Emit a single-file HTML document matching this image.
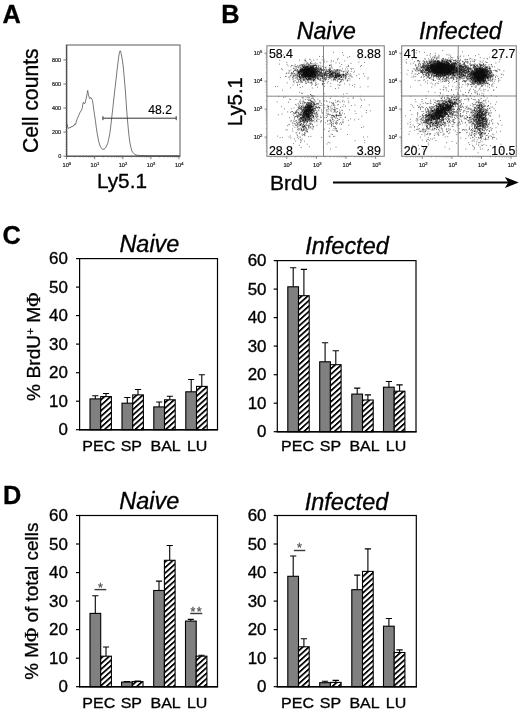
<!DOCTYPE html>
<html lang="en"><head><meta charset="utf-8"><title>Figure</title>
<style>html,body{margin:0;padding:0;background:#fff;overflow:hidden}svg{display:block;will-change:transform}text{font-family:"Liberation Sans", Arial, sans-serif;fill:#000;stroke:#000;stroke-width:.32px}</style>
</head><body>
<svg width="520" height="714" viewBox="0 0 520 714">
<defs><pattern id="hatch" patternUnits="userSpaceOnUse" width="8" height="5.5" patternTransform="skewY(-42)"><rect width="8" height="5.5" fill="#fff"/><rect y="0" width="8" height="2.35" fill="#000"/></pattern></defs>
<rect width="520" height="714" fill="#fff"/>
<g id="pa">
<text x="2.6" y="23.1" font-size="25.3" font-weight="bold">A</text>
<text transform="translate(38,100.7) rotate(-90)" font-size="21.2" text-anchor="middle">Cell counts</text>
<text x="96.9" y="187.6" font-size="20.8">Ly5.1</text>
<rect x="66.6" y="45" width="113.4" height="111.2" fill="none" stroke="#808080" stroke-width="1.3"/>
<path d="M66.6 45V156.2H180" fill="none" stroke="#4a4a4a" stroke-width="1.1"/>
<line x1="66.6" x2="63.39999999999999" y1="156.2" y2="156.2" stroke="#555" stroke-width="0.8"/>
<text x="61.199999999999996" y="158.1" font-size="5.5" text-anchor="end" style="fill:#1a1a1a;stroke:#1a1a1a;stroke-width:.2px">0</text>
<line x1="66.6" x2="63.39999999999999" y1="132.1" y2="132.1" stroke="#555" stroke-width="0.8"/>
<text x="61.199999999999996" y="134" font-size="5.5" text-anchor="end" style="fill:#1a1a1a;stroke:#1a1a1a;stroke-width:.2px">200</text>
<line x1="66.6" x2="63.39999999999999" y1="108" y2="108" stroke="#555" stroke-width="0.8"/>
<text x="61.199999999999996" y="109.9" font-size="5.5" text-anchor="end" style="fill:#1a1a1a;stroke:#1a1a1a;stroke-width:.2px">400</text>
<line x1="66.6" x2="63.39999999999999" y1="84" y2="84" stroke="#555" stroke-width="0.8"/>
<text x="61.199999999999996" y="85.9" font-size="5.5" text-anchor="end" style="fill:#1a1a1a;stroke:#1a1a1a;stroke-width:.2px">600</text>
<line x1="66.6" x2="63.39999999999999" y1="59.9" y2="59.9" stroke="#555" stroke-width="0.8"/>
<text x="61.199999999999996" y="61.8" font-size="5.5" text-anchor="end" style="fill:#1a1a1a;stroke:#1a1a1a;stroke-width:.2px">800</text>
<line x1="65.19999999999999" x2="67.19999999999999" y1="156.2" y2="156.2" stroke="#666" stroke-width="0.45"/>
<line x1="65.19999999999999" x2="67.19999999999999" y1="153.8" y2="153.8" stroke="#666" stroke-width="0.45"/>
<line x1="65.19999999999999" x2="67.19999999999999" y1="151.4" y2="151.4" stroke="#666" stroke-width="0.45"/>
<line x1="65.19999999999999" x2="67.19999999999999" y1="149" y2="149" stroke="#666" stroke-width="0.45"/>
<line x1="65.19999999999999" x2="67.19999999999999" y1="146.6" y2="146.6" stroke="#666" stroke-width="0.45"/>
<line x1="65.19999999999999" x2="67.19999999999999" y1="144.2" y2="144.2" stroke="#666" stroke-width="0.45"/>
<line x1="65.19999999999999" x2="67.19999999999999" y1="141.8" y2="141.8" stroke="#666" stroke-width="0.45"/>
<line x1="65.19999999999999" x2="67.19999999999999" y1="139.3" y2="139.3" stroke="#666" stroke-width="0.45"/>
<line x1="65.19999999999999" x2="67.19999999999999" y1="136.9" y2="136.9" stroke="#666" stroke-width="0.45"/>
<line x1="65.19999999999999" x2="67.19999999999999" y1="134.5" y2="134.5" stroke="#666" stroke-width="0.45"/>
<line x1="65.19999999999999" x2="67.19999999999999" y1="132.1" y2="132.1" stroke="#666" stroke-width="0.45"/>
<line x1="65.19999999999999" x2="67.19999999999999" y1="129.7" y2="129.7" stroke="#666" stroke-width="0.45"/>
<line x1="65.19999999999999" x2="67.19999999999999" y1="127.3" y2="127.3" stroke="#666" stroke-width="0.45"/>
<line x1="65.19999999999999" x2="67.19999999999999" y1="124.9" y2="124.9" stroke="#666" stroke-width="0.45"/>
<line x1="65.19999999999999" x2="67.19999999999999" y1="122.5" y2="122.5" stroke="#666" stroke-width="0.45"/>
<line x1="65.19999999999999" x2="67.19999999999999" y1="120.1" y2="120.1" stroke="#666" stroke-width="0.45"/>
<line x1="65.19999999999999" x2="67.19999999999999" y1="117.7" y2="117.7" stroke="#666" stroke-width="0.45"/>
<line x1="65.19999999999999" x2="67.19999999999999" y1="115.3" y2="115.3" stroke="#666" stroke-width="0.45"/>
<line x1="65.19999999999999" x2="67.19999999999999" y1="112.9" y2="112.9" stroke="#666" stroke-width="0.45"/>
<line x1="65.19999999999999" x2="67.19999999999999" y1="110.4" y2="110.4" stroke="#666" stroke-width="0.45"/>
<line x1="65.19999999999999" x2="67.19999999999999" y1="108" y2="108" stroke="#666" stroke-width="0.45"/>
<line x1="65.19999999999999" x2="67.19999999999999" y1="105.6" y2="105.6" stroke="#666" stroke-width="0.45"/>
<line x1="65.19999999999999" x2="67.19999999999999" y1="103.2" y2="103.2" stroke="#666" stroke-width="0.45"/>
<line x1="65.19999999999999" x2="67.19999999999999" y1="100.8" y2="100.8" stroke="#666" stroke-width="0.45"/>
<line x1="65.19999999999999" x2="67.19999999999999" y1="98.4" y2="98.4" stroke="#666" stroke-width="0.45"/>
<line x1="65.19999999999999" x2="67.19999999999999" y1="96" y2="96" stroke="#666" stroke-width="0.45"/>
<line x1="65.19999999999999" x2="67.19999999999999" y1="93.6" y2="93.6" stroke="#666" stroke-width="0.45"/>
<line x1="65.19999999999999" x2="67.19999999999999" y1="91.2" y2="91.2" stroke="#666" stroke-width="0.45"/>
<line x1="65.19999999999999" x2="67.19999999999999" y1="88.8" y2="88.8" stroke="#666" stroke-width="0.45"/>
<line x1="65.19999999999999" x2="67.19999999999999" y1="86.4" y2="86.4" stroke="#666" stroke-width="0.45"/>
<line x1="65.19999999999999" x2="67.19999999999999" y1="84" y2="84" stroke="#666" stroke-width="0.45"/>
<line x1="65.19999999999999" x2="67.19999999999999" y1="81.6" y2="81.6" stroke="#666" stroke-width="0.45"/>
<line x1="65.19999999999999" x2="67.19999999999999" y1="79.1" y2="79.1" stroke="#666" stroke-width="0.45"/>
<line x1="65.19999999999999" x2="67.19999999999999" y1="76.7" y2="76.7" stroke="#666" stroke-width="0.45"/>
<line x1="65.19999999999999" x2="67.19999999999999" y1="74.3" y2="74.3" stroke="#666" stroke-width="0.45"/>
<line x1="65.19999999999999" x2="67.19999999999999" y1="71.9" y2="71.9" stroke="#666" stroke-width="0.45"/>
<line x1="65.19999999999999" x2="67.19999999999999" y1="69.5" y2="69.5" stroke="#666" stroke-width="0.45"/>
<line x1="65.19999999999999" x2="67.19999999999999" y1="67.1" y2="67.1" stroke="#666" stroke-width="0.45"/>
<line x1="65.19999999999999" x2="67.19999999999999" y1="64.7" y2="64.7" stroke="#666" stroke-width="0.45"/>
<line x1="65.19999999999999" x2="67.19999999999999" y1="62.3" y2="62.3" stroke="#666" stroke-width="0.45"/>
<line x1="65.19999999999999" x2="67.19999999999999" y1="59.9" y2="59.9" stroke="#666" stroke-width="0.45"/>
<line x1="65.19999999999999" x2="67.19999999999999" y1="57.5" y2="57.5" stroke="#666" stroke-width="0.45"/>
<line x1="65.19999999999999" x2="67.19999999999999" y1="55.1" y2="55.1" stroke="#666" stroke-width="0.45"/>
<line x1="65.19999999999999" x2="67.19999999999999" y1="52.7" y2="52.7" stroke="#666" stroke-width="0.45"/>
<line x1="65.19999999999999" x2="67.19999999999999" y1="50.2" y2="50.2" stroke="#666" stroke-width="0.45"/>
<line x1="65.19999999999999" x2="67.19999999999999" y1="47.8" y2="47.8" stroke="#666" stroke-width="0.45"/>
<line x1="65.19999999999999" x2="67.19999999999999" y1="45.4" y2="45.4" stroke="#666" stroke-width="0.45"/>
<line x1="66.6" x2="66.6" y1="156.2" y2="159.2" stroke="#555" stroke-width="0.8"/>
<text x="66.8" y="167" font-size="5.7" text-anchor="middle" style="fill:#1a1a1a;stroke:#1a1a1a;stroke-width:.2px">10<tspan dy="-2.2" font-size="4.1">0</tspan></text>
<line x1="75.1" x2="75.1" y1="155.6" y2="157.7" stroke="#666" stroke-width="0.45"/>
<line x1="80" x2="80" y1="155.6" y2="157.7" stroke="#666" stroke-width="0.45"/>
<line x1="83.5" x2="83.5" y1="155.6" y2="157.7" stroke="#666" stroke-width="0.45"/>
<line x1="86.2" x2="86.2" y1="155.6" y2="157.7" stroke="#666" stroke-width="0.45"/>
<line x1="88.5" x2="88.5" y1="155.6" y2="157.7" stroke="#666" stroke-width="0.45"/>
<line x1="90.3" x2="90.3" y1="155.6" y2="157.7" stroke="#666" stroke-width="0.45"/>
<line x1="92" x2="92" y1="155.6" y2="157.7" stroke="#666" stroke-width="0.45"/>
<line x1="93.4" x2="93.4" y1="155.6" y2="157.7" stroke="#666" stroke-width="0.45"/>
<line x1="94.7" x2="94.7" y1="156.2" y2="159.2" stroke="#555" stroke-width="0.8"/>
<text x="94.9" y="167" font-size="5.7" text-anchor="middle" style="fill:#1a1a1a;stroke:#1a1a1a;stroke-width:.2px">10<tspan dy="-2.2" font-size="4.1">1</tspan></text>
<line x1="103.2" x2="103.2" y1="155.6" y2="157.7" stroke="#666" stroke-width="0.45"/>
<line x1="108.1" x2="108.1" y1="155.6" y2="157.7" stroke="#666" stroke-width="0.45"/>
<line x1="111.6" x2="111.6" y1="155.6" y2="157.7" stroke="#666" stroke-width="0.45"/>
<line x1="114.3" x2="114.3" y1="155.6" y2="157.7" stroke="#666" stroke-width="0.45"/>
<line x1="116.6" x2="116.6" y1="155.6" y2="157.7" stroke="#666" stroke-width="0.45"/>
<line x1="118.4" x2="118.4" y1="155.6" y2="157.7" stroke="#666" stroke-width="0.45"/>
<line x1="120.1" x2="120.1" y1="155.6" y2="157.7" stroke="#666" stroke-width="0.45"/>
<line x1="121.5" x2="121.5" y1="155.6" y2="157.7" stroke="#666" stroke-width="0.45"/>
<line x1="122.8" x2="122.8" y1="156.2" y2="159.2" stroke="#555" stroke-width="0.8"/>
<text x="123" y="167" font-size="5.7" text-anchor="middle" style="fill:#1a1a1a;stroke:#1a1a1a;stroke-width:.2px">10<tspan dy="-2.2" font-size="4.1">2</tspan></text>
<line x1="131.3" x2="131.3" y1="155.6" y2="157.7" stroke="#666" stroke-width="0.45"/>
<line x1="136.2" x2="136.2" y1="155.6" y2="157.7" stroke="#666" stroke-width="0.45"/>
<line x1="139.7" x2="139.7" y1="155.6" y2="157.7" stroke="#666" stroke-width="0.45"/>
<line x1="142.4" x2="142.4" y1="155.6" y2="157.7" stroke="#666" stroke-width="0.45"/>
<line x1="144.7" x2="144.7" y1="155.6" y2="157.7" stroke="#666" stroke-width="0.45"/>
<line x1="146.5" x2="146.5" y1="155.6" y2="157.7" stroke="#666" stroke-width="0.45"/>
<line x1="148.2" x2="148.2" y1="155.6" y2="157.7" stroke="#666" stroke-width="0.45"/>
<line x1="149.6" x2="149.6" y1="155.6" y2="157.7" stroke="#666" stroke-width="0.45"/>
<line x1="150.9" x2="150.9" y1="156.2" y2="159.2" stroke="#555" stroke-width="0.8"/>
<text x="151.1" y="167" font-size="5.7" text-anchor="middle" style="fill:#1a1a1a;stroke:#1a1a1a;stroke-width:.2px">10<tspan dy="-2.2" font-size="4.1">3</tspan></text>
<line x1="159.4" x2="159.4" y1="155.6" y2="157.7" stroke="#666" stroke-width="0.45"/>
<line x1="164.3" x2="164.3" y1="155.6" y2="157.7" stroke="#666" stroke-width="0.45"/>
<line x1="167.8" x2="167.8" y1="155.6" y2="157.7" stroke="#666" stroke-width="0.45"/>
<line x1="170.5" x2="170.5" y1="155.6" y2="157.7" stroke="#666" stroke-width="0.45"/>
<line x1="172.8" x2="172.8" y1="155.6" y2="157.7" stroke="#666" stroke-width="0.45"/>
<line x1="174.6" x2="174.6" y1="155.6" y2="157.7" stroke="#666" stroke-width="0.45"/>
<line x1="176.3" x2="176.3" y1="155.6" y2="157.7" stroke="#666" stroke-width="0.45"/>
<line x1="177.7" x2="177.7" y1="155.6" y2="157.7" stroke="#666" stroke-width="0.45"/>
<line x1="179" x2="179" y1="156.2" y2="159.2" stroke="#555" stroke-width="0.8"/>
<text x="179.2" y="167" font-size="5.7" text-anchor="middle" style="fill:#1a1a1a;stroke:#1a1a1a;stroke-width:.2px">10<tspan dy="-2.2" font-size="4.1">4</tspan></text>
<path d="M66.9 123.8 L67.6 126.5 L68.7 128.6 L69.8 127.4 L70.4 128 L71.2 126.5 L72.1 127 L73 125.7 L73.9 125.9 L74.7 123.9 L75.6 124.4 L76.4 121 L77.3 118.7 L78.6 115.8 L79.9 112.7 L81.1 110.8 L82.2 108.4 L82.8 104.5 L83.4 102.3 L84.2 103.6 L85.1 103.2 L85.8 100 L86.5 97.1 L87.1 93.5 L87.7 90.5 L88.2 93.2 L88.6 95.4 L89.2 97.4 L89.8 98.8 L90.5 97.6 L91.2 98 L91.9 99 L92.5 100.6 L93.1 104.6 L93.7 109.2 L94.6 115.3 L95.5 121.3 L96.3 127.6 L97.2 133.5 L98 138 L98.9 142.1 L99.8 145 L100.7 147.3 L101.8 148.8 L102.9 149.4 L104.1 149.1 L105.3 148.2 L106.4 146.4 L107.6 143.8 L108.7 139.2 L109.8 133.5 L110.9 125.2 L111.9 116.2 L113 106.5 L114 97.1 L115.1 87.5 L116.2 78.1 L117.1 70 L118 62.5 L118.6 57.5 L119.2 53.8 L119.7 51.6 L120.2 50.7 L120.8 52 L121.4 54.7 L122.3 59.8 L123.2 66 L124 75 L124.9 85 L125.8 97 L126.6 109.2 L127.5 120 L128.4 130 L129.2 137.5 L130.1 143.8 L131 147.8 L131.8 150.8 L132.7 152.4 L133.6 153.4 L134.9 154.4 L136.2 155 L139.6 155.5 L150 155.8 L179.5 155.8" fill="none" stroke="#3c3c3c" stroke-width="0.7" stroke-linejoin="round"/>
<path d="M102.9 118.2H176.2M102.9 116.2V120.2M176.2 116.2V120.2" fill="none" stroke="#333" stroke-width="1"/>
<text x="148.3" y="114.4" font-size="12.2" style="stroke-width:.15px">48.2</text>
</g>
<g id="pb">
<text x="221.2" y="23.3" font-size="25.3" font-weight="bold">B</text>
<text x="326.3" y="38.6" font-size="23.2" font-style="italic" text-anchor="middle">Naive</text>
<text x="460.4" y="38.8" font-size="23.3" font-style="italic" text-anchor="middle">Infected</text>
<text transform="translate(242,101.6) rotate(-90)" font-size="20.4" text-anchor="middle">Ly5.1</text>
<text x="269.9" y="190" font-size="21">BrdU</text>
<path d="M333 182.5H510" stroke="#000" stroke-width="2" fill="none"/>
<path d="M518.8 182.5L504.8 176.9L508.3 182.5L504.8 188.1Z" fill="#000"/>
<rect x="266.9" y="45.8" width="117.4" height="110.5" fill="#fff" stroke="#858585" stroke-width="1.1"/>
<path d="M307.3 73.7h.8M307.5 71.4h.8M305 71.5h.8M312.2 73.7h.8M312 73.2h.8M309.7 72.9h.8M302.2 74.4h.8M310.1 73.8h.8M302.5 67.1h.8M305.2 70.8h.8M309.4 72.2h.8M310.3 70.6h.8M309.4 73.5h.8M305.7 77h.8M310.1 75.7h.8M306.2 70.1h.8M307.1 71.9h.8M310.5 73.1h.8M306.8 69.5h.8M306.3 75.6h.8M305.4 72.8h.8M310 68.2h.8M308.3 76h.8M301.1 71h.8M308 70h.8M310.1 72.2h.8M302.9 74.4h.8M310.6 75.1h.8M313.4 73.6h.8M308.9 68.7h.8M310.6 70.7h.8M306.8 68.7h.8M304.9 70.6h.8M313.2 66.8h.8M303 72.7h.8M313.4 74.2h.8M301.8 64.9h.8M309.7 70.3h.8M304.1 74.8h.8M312.2 72.9h.8M309.1 73.6h.8M313.9 74.3h.8M310.1 73.9h.8M302.5 75.6h.8M311.7 74h.8M301.3 70.2h.8M311.6 67.4h.8M307.5 75.1h.8M303.4 76.6h.8M310.3 72h.8M309.4 74.2h.8M308.6 75.5h.8M306 71h.8M312 72.6h.8M305 74.8h.8M313.6 71.3h.8M303.4 71.7h.8M307.8 71.4h.8M313.5 69.7h.8M313 69h.8M305.4 73.9h.8M312.2 74.9h.8M309.5 72.8h.8M308.8 73.9h.8M307.6 73h.8M310.4 72.4h.8M311 74h.8M315.5 73.6h.8M306.8 71.2h.8M308.1 74.9h.8M307 73.3h.8M315.3 65.5h.8M304.2 72.8h.8M309.7 73h.8M306.7 74.1h.8M309.4 70.9h.8M317 73.7h.8M306.3 71.9h.8M307.5 72.1h.8M298.6 70.4h.8M312.1 69.2h.8M307.9 75h.8M311.2 76.6h.8M302.2 71h.8M307 74h.8M312.6 65h.8M312.4 68.4h.8M311 68.3h.8M308.8 75.7h.8M307.7 72.8h.8M311.1 72.8h.8M307.8 76.6h.8M312.1 71.7h.8M318.3 69.6h.8M311.6 71.7h.8M308.7 74.3h.8M309 74.1h.8M303 67.8h.8M310.6 69.7h.8M304.8 68h.8M312.7 74.6h.8M313.7 69.9h.8M308.5 69.1h.8M310.8 76.9h.8M304.9 76.5h.8M311.9 72h.8M301 75.9h.8M308 70.6h.8M309.7 73.5h.8M313.8 69.7h.8M312.2 76.7h.8M313.5 72.1h.8M305.5 75h.8M308.7 72.7h.8M313.5 71.8h.8M300.1 70.8h.8M301.5 74.3h.8M309.5 70.6h.8M308.1 74.6h.8M308.4 76h.8M307.9 75.2h.8M313.4 77.1h.8M305.8 74.6h.8M301.7 68.9h.8M301.1 74.9h.8M303.9 72h.8M307.6 72.2h.8M306.1 72.8h.8M314.7 72.7h.8M310.1 75.2h.8M307.8 68.7h.8M306.2 75.2h.8M302.5 70.3h.8M311.8 74.7h.8M308.2 74.6h.8M309.1 69h.8M302.8 70.2h.8M311.7 70.9h.8M305.2 70h.8M302.8 71.7h.8M304 73.1h.8M299.8 72.8h.8M306.3 66.8h.8M310.9 71.7h.8M300.4 69.5h.8M309.4 71.1h.8M311 74.5h.8M310.6 73.3h.8M313 74.4h.8M310.2 66.6h.8M311.3 76.1h.8M307.3 70.9h.8M315.5 67.7h.8M309.6 79.2h.8M304.9 74.1h.8M315.1 72.3h.8M310.2 74.9h.8M305.1 71.9h.8M309.2 74.7h.8M308.2 71.7h.8M304.7 71.1h.8M311.5 72.7h.8M305.4 69.8h.8M317.7 76h.8M311 65.2h.8M310.5 73.8h.8M314.3 73.8h.8M308 73.7h.8M301.2 74.8h.8M309.6 70.4h.8M312.8 77.6h.8M303.4 70.2h.8M309.3 72.9h.8M307 69.5h.8M315.8 75.6h.8M304.2 68.3h.8M314.3 75.4h.8M314.7 74.9h.8M305.1 72.9h.8M300.6 69.8h.8M308 73.8h.8M305.7 71.8h.8M309.9 73.4h.8M310.6 73h.8M307 74.4h.8M308.6 70h.8M306 72.2h.8M307.9 72.7h.8M308.3 72.8h.8M308 68.8h.8M309.7 75.3h.8M309.9 71.8h.8M310 69.7h.8M301.5 72.1h.8M304.9 74.2h.8M304.8 64.8h.8M304.3 76.5h.8M307.1 68.4h.8M305.5 73.6h.8M310.1 72.9h.8M313.5 74.5h.8M308.1 74h.8M314.1 75.3h.8M312.1 69.5h.8M307.7 74.3h.8M307.1 75.2h.8M310.3 74.9h.8M307.2 79.4h.8M312.8 71.9h.8M308.3 79.6h.8M306.9 74.7h.8M311.8 72.5h.8M304.1 72.6h.8M309.4 75.5h.8M311.1 72.5h.8M311.3 74h.8M309 72.5h.8M307.3 74.2h.8M304.6 70.4h.8M308.5 68.2h.8M307 66.6h.8M305.8 73.8h.8M310.3 72.2h.8M307.7 68.3h.8M314.8 74.1h.8M312.4 70h.8M307.9 67.2h.8M311 75.1h.8M301.5 71.8h.8M310.8 67.5h.8M301.9 69h.8M306.2 68.3h.8M308.4 73h.8M310.5 74.4h.8M313.5 75.8h.8M303.7 70.7h.8M304.6 69.1h.8M308 72.3h.8M310.3 68h.8M303.9 72h.8M307.6 71.4h.8M308.2 70.2h.8M310.8 73.4h.8M308.1 70.4h.8M308.1 64.7h.8M304.8 72.2h.8M302.9 72.6h.8M309 68.5h.8M307.4 71.4h.8M309.9 74.1h.8M308.3 69.9h.8M307.8 72.1h.8M310.9 73.3h.8M305.9 68.4h.8M307.1 70.2h.8M304.3 71.8h.8M306.5 72.5h.8M310.2 71.2h.8M316.7 71.8h.8M312.2 72.8h.8M312.6 65.9h.8M305.6 72.9h.8M310.1 78.9h.8M309.3 75.9h.8M310.9 75.1h.8M310.2 72h.8M310.3 69.4h.8M312.7 69.7h.8M308.9 78.3h.8M307.5 72.3h.8M312.5 72.6h.8M305.4 72.9h.8M310.3 74.4h.8M305.3 77.1h.8M314.3 72.7h.8M309.3 71.2h.8M313.5 70.6h.8M310.8 71.1h.8M305.7 74.2h.8M313.1 72.5h.8M305.8 74.4h.8M308.1 73.2h.8M313.6 75.7h.8M306.1 78.6h.8M308.2 74.5h.8M306 72.1h.8M301.8 77h.8M313.4 69.1h.8M303.1 67.5h.8M312.6 71.2h.8M308.1 71.4h.8M308 69.2h.8M308.6 68.3h.8M308 73.2h.8M310 71.7h.8M305 72.6h.8M306.3 76.6h.8M311.1 72.1h.8M306.7 70.3h.8M305 71.1h.8M309.3 73.8h.8M310.1 78.3h.8M305.8 72.2h.8M318.6 67.6h.8M306.4 72.7h.8M308.8 73.5h.8M307.4 73.3h.8M308.4 74.5h.8M301.6 69.5h.8M308.4 69.4h.8M304.5 73.9h.8M305.9 74h.8M310.9 73.3h.8M310.1 72.1h.8M303.2 72h.8M310 70.9h.8M307.8 74.4h.8M305.1 73.9h.8M315.1 71.1h.8M308.8 71.9h.8M313.8 73.5h.8M311.6 70.5h.8M308.2 72.3h.8M301.7 76h.8M311.8 67.6h.8M311 72.1h.8M309.9 73.4h.8M302.9 71.4h.8M313.7 71h.8M304.8 68.3h.8M303.9 73h.8M314.3 73.8h.8M308.9 78.6h.8M306.5 70.3h.8M310.1 73.9h.8M304.8 68.8h.8M309.3 73h.8M303.6 71.5h.8M306.3 73.5h.8M307.9 72h.8M306.9 75.2h.8M313.4 71.5h.8M311.4 70.3h.8M308.5 74.4h.8M313.8 71.5h.8M308 72.8h.8M302.9 72.1h.8M305.8 73.2h.8M304.5 66.6h.8M308.4 73h.8M306.2 74.7h.8M307.4 70.6h.8M310.2 68h.8M305.9 72.1h.8M311.4 72h.8M309.5 70.5h.8M309.2 77h.8M305.5 78.8h.8M306 72.2h.8M308.8 75.2h.8M304.1 66.2h.8M310.4 74.6h.8M310.2 79.8h.8M309 73h.8M311.6 73.5h.8M314.5 69.1h.8M307.4 62.6h.8M311.3 71.4h.8M311.3 78.5h.8M308.3 71.6h.8M306.6 69.9h.8M305.9 74h.8M308.4 72.5h.8M307.5 74.8h.8M310.1 72h.8M310.7 72h.8M304 76.2h.8M310.1 69.7h.8M312.1 73.5h.8M302.5 76.5h.8M309.4 74.9h.8M309 71.9h.8M302.6 74.7h.8M308.4 71.5h.8M309.6 72.6h.8M310.8 71.4h.8M308.5 66.3h.8M306.7 74.1h.8M313.2 71.5h.8M307.6 76.7h.8M307 74.3h.8M314.3 72.7h.8M312.8 70.5h.8M309.1 72.1h.8M308.6 75.5h.8M317 70.9h.8M306.2 73.6h.8M304.4 73.5h.8M310.4 71.6h.8M310.4 68.1h.8M311.2 68.1h.8M305.9 70.6h.8M306.7 74.6h.8M308.6 71.2h.8M310 76.8h.8M308.3 73.3h.8M312.7 73.3h.8M303.3 79h.8M316.5 67.1h.8M308.1 73.5h.8M311.7 74.3h.8M307.5 69.3h.8M308.5 75.2h.8M304.5 69.2h.8M308.5 66.9h.8M307.4 71h.8M310 70.4h.8M305.2 71h.8M308.2 70.4h.8M308.2 74.4h.8M312.3 77.3h.8M305.5 71h.8M299.1 77.2h.8M305.7 72.1h.8M310.4 68.6h.8M310 72.3h.8M301.7 72.8h.8M312.9 67.3h.8M311.2 73h.8M309.9 73.6h.8M313 71.9h.8M311.5 71.3h.8M311 70.2h.8M307.7 77.1h.8M309.9 71.9h.8M304.3 69.9h.8M308.9 75h.8M309.8 73.8h.8M308 76.1h.8M307 70.7h.8M311.5 72.6h.8M307.4 70.6h.8M307.3 74h.8M309.7 69h.8M309.8 72.9h.8M304.6 74.3h.8M307.3 71.3h.8M311 76.1h.8M305.8 73.4h.8M304.8 78.6h.8M306.4 75.6h.8M305.9 74.5h.8M316.6 65.6h.8M306.7 73.6h.8M308.1 70.4h.8M316 72.9h.8M302.3 74.4h.8M301.9 75.2h.8M306.2 72.6h.8M312.8 72.9h.8M303.5 67.3h.8M312.4 74.6h.8M305.2 74.6h.8M310 74.2h.8M300.2 71h.8M311.4 74.5h.8M311.8 65.6h.8M308.8 73.7h.8M317.6 70.1h.8M307.1 72.3h.8M311.5 71.2h.8M312.5 70.3h.8M309.3 70.9h.8M309 70.4h.8M302.4 75.1h.8M309.5 70.8h.8M308.9 75.1h.8M304.8 71.8h.8M310.2 73.9h.8M307.4 66.3h.8M312.7 73.4h.8M308.4 71.5h.8M309.3 71.2h.8M304.7 70h.8M306.2 70.5h.8M304 73.9h.8M303.5 73.9h.8M304.6 73.1h.8M313.2 73.1h.8M305.7 72.3h.8M309.1 67.5h.8M306.1 72.6h.8M306.6 72.4h.8M310.8 74.6h.8M311.5 74.1h.8M307.3 72.2h.8M307.4 71.4h.8M307.9 67.4h.8M307.1 72.2h.8M304.8 72.1h.8M310.2 71.9h.8M316.1 65.4h.8M307.8 67.2h.8M311.5 79.9h.8M299.3 72.2h.8M310.2 71.5h.8M310.6 66.1h.8M311.3 73.5h.8M308.5 70.7h.8M310.7 71.1h.8M309.2 70.9h.8M300.2 71.8h.8M308.9 74.4h.8M305.2 72h.8M310.5 72.8h.8M312.5 78.1h.8M305.3 66.8h.8M311.2 76.7h.8M311.5 74.7h.8M306.2 70.2h.8M311.6 69.9h.8M301.9 69.2h.8M317 78.1h.8M305.9 70.1h.8M309.2 70.2h.8M313 72.3h.8M304.2 75.8h.8M306.2 72.8h.8M308.3 71.4h.8M309.6 70.4h.8M302 65.8h.8M303.9 70h.8M308.2 72.5h.8M310.3 72.7h.8M305.5 70.2h.8M300.7 71.4h.8M310 73.9h.8M307.9 71.8h.8M311.7 72.5h.8M310.9 74.1h.8M308.9 76h.8M306.3 71.2h.8M305.5 69.9h.8M313.6 77.5h.8M308.3 73.9h.8M312.4 74.8h.8M312.8 69h.8M305.9 73.5h.8M313.4 72.8h.8M305.3 71.2h.8M306 69.8h.8M313.8 70.8h.8M308.1 78.4h.8M312.5 73.5h.8M306 73.3h.8M314 74.3h.8M312.8 72.8h.8M310.2 71.8h.8M309.7 76h.8M303.2 71.9h.8M309.2 70.7h.8M307.1 74.4h.8M315.4 74.4h.8M309.7 68h.8M315.2 72.9h.8M308.3 69.2h.8M308.2 69.2h.8M308.5 73.6h.8M308.4 73.1h.8M305 76.1h.8M306.2 67.1h.8M307.7 70.1h.8M304.7 71.1h.8M309.5 69h.8M307.6 76.3h.8M310.8 72h.8M308.8 72h.8M308 74.3h.8M308.3 65.6h.8M308.3 69.8h.8M310.7 70.7h.8M308.5 78.4h.8M304.7 69h.8M303.6 65.3h.8M301.5 73h.8M306.3 67h.8M302.9 73.8h.8M305.6 71.1h.8M309.3 76.2h.8M315.1 75.5h.8M308.8 72.8h.8M314.6 76.6h.8M307.1 73.5h.8M309.3 72.5h.8M306.7 68.5h.8M306.6 67.9h.8M312.6 74h.8M303.8 76h.8M311.8 67.1h.8M314.8 74.9h.8M315.9 69.2h.8M310.1 73.6h.8M309 72.8h.8M312.3 68.3h.8M304 68.2h.8M306.4 70.5h.8M309.6 73.1h.8M308.5 70.4h.8M306.6 74.9h.8M311 72.7h.8M306.9 76.6h.8M306.1 74h.8M312.5 71.8h.8M311.4 69.3h.8M311.9 73h.8M302.5 73.9h.8M304.9 75.7h.8M305.9 71.7h.8M309.4 71.4h.8M309.3 70.8h.8M310.7 72.4h.8M309.4 64.6h.8M312.5 72.6h.8M301.9 72.2h.8M309.8 75.4h.8M304.2 76.4h.8M307.4 79h.8M307.7 74.2h.8M307.1 69.1h.8M312.1 75h.8M313.7 75h.8M306.5 67.5h.8M306.1 70.3h.8M305.3 73.8h.8M309.5 71.6h.8M308.9 71.9h.8M309 74.4h.8M311.8 70.6h.8M302.7 76h.8M308.6 75.4h.8M302.4 71.1h.8M308.6 68.3h.8M306.3 74.2h.8M312 77h.8M305.4 68.2h.8M310 75h.8M309.2 68.7h.8M311 74.7h.8M310.4 71h.8M309.3 74.6h.8M306.5 67h.8M309.4 73.7h.8M308.2 74.8h.8M306.2 72h.8M307.1 73.8h.8M314.1 71.9h.8M315.5 76.9h.8M311.1 74.1h.8M314.7 72.1h.8M308 69.3h.8M309.8 76.1h.8M310.2 73.6h.8M307.6 72.7h.8M303 75h.8M307 69.1h.8M305.7 69.9h.8M311.2 75.4h.8M303.3 74.6h.8M311.6 70.8h.8M303.1 69.9h.8M306 73.1h.8M307.3 66.6h.8M309.4 68.1h.8M311.7 69.1h.8M305.9 69.8h.8M306.2 75.8h.8M311.3 74.1h.8M309.7 68h.8M306.5 70.7h.8M304.7 73.5h.8M305.7 70.2h.8M304.8 66.4h.8M310.3 76.1h.8M309.1 69.6h.8M298.5 72.3h.8M312.6 73.4h.8M311.4 76.6h.8M312.4 71.3h.8M312 74.7h.8M302.8 70.9h.8M303.2 71.7h.8M310.5 69.4h.8M300.7 75.6h.8M309.4 76.5h.8M303.4 75h.8M315.5 78.3h.8M307.5 73h.8M307.6 75.1h.8M312 72.7h.8M303.3 74.1h.8M306.5 74h.8M309 76.9h.8M312.5 71.2h.8M309.3 77.3h.8M306.3 73.4h.8M312.4 76h.8M310.3 68.7h.8M303.7 72.8h.8M309.3 79.5h.8M305 75.3h.8M311.3 67.8h.8M305.3 72.6h.8M306.5 71.8h.8M310.1 70.1h.8M310.1 70.6h.8M306.3 73.7h.8M306.2 73h.8M314 72.7h.8M307.7 74.3h.8M306.8 75.3h.8M303.6 73.8h.8M306.6 70h.8M314.8 70.2h.8M314.5 74.5h.8M313.7 69.8h.8M312.4 76.6h.8M307.9 71.9h.8M317.1 73.2h.8M306.9 70.5h.8M309.9 73.3h.8M308.7 77.1h.8M307.1 73.6h.8M313.7 69.8h.8M311.8 77.6h.8M303.6 69h.8M304.8 67h.8M310.2 67.2h.8M309.9 76.5h.8M302.5 71.1h.8M301.3 74.1h.8M305.7 71.4h.8M308.4 73.8h.8M307.1 72.3h.8M306.3 72.5h.8M304.1 72.3h.8M301.4 70.6h.8M315.2 72.9h.8M303.7 72.8h.8M305 67.5h.8M305.5 74.2h.8M309.7 72.1h.8M305.1 69.1h.8M313.1 73.2h.8M305.2 66.2h.8M303 79h.8M304.2 71.9h.8M309.1 71.9h.8M307.5 68.4h.8M304.3 76.8h.8M305.5 74.5h.8M302.2 71.2h.8M309.1 75.2h.8M304.2 73.8h.8M309.8 70.3h.8M310.1 69.9h.8M305.4 72.1h.8M298.6 71.5h.8M304.9 68h.8M306.7 74.4h.8M306.7 75.8h.8M304.3 68.4h.8M313.8 73.7h.8M311.8 70.2h.8M311.2 73.2h.8M310.6 72.5h.8M312.7 70.7h.8M305 68h.8M312.6 70.4h.8M304.7 69.5h.8M306.9 68.7h.8M307.3 70.5h.8M306.5 69.5h.8M308.5 71h.8M308.7 73h.8M309.8 66.2h.8M306.5 70h.8M311.3 68h.8M305.8 71.3h.8M307 75h.8M306.6 74.9h.8M303.3 67h.8M312.6 73.7h.8M310 72.7h.8M310.2 69h.8M311.8 71h.8M311.8 72.7h.8M301.4 68.3h.8M312.4 72.1h.8M306.8 72.9h.8M306.8 70.7h.8M308.6 72.7h.8M313.7 72.7h.8M314.8 77.7h.8M314.3 75.6h.8M308.8 72.7h.8M307.9 70.2h.8M308.2 70.5h.8M314.1 74.1h.8M307 66.9h.8M308.2 71.1h.8M304.6 68.9h.8M300.1 73.5h.8M307.7 79.5h.8M308.2 71.9h.8M313.5 72.9h.8M309 71.3h.8M305.9 76.4h.8M311.7 77.3h.8M307 72.3h.8M305 74.8h.8M303.2 73.6h.8M312 76.4h.8M304.8 75.2h.8M305.8 70.1h.8M303.4 75.3h.8M314.3 70.9h.8M305.6 71.2h.8M317.2 75.6h.8M306.6 67.2h.8M305.7 75.5h.8M315.1 71.9h.8M305.9 70.7h.8M301.4 74.5h.8M304.2 75.1h.8M302.3 68.4h.8M309.4 70.2h.8M311.1 72.5h.8M304 73.8h.8M311.6 67.1h.8M314.8 74h.8M311.3 67.2h.8M305.8 71.2h.8M312.4 68.4h.8M305.4 66.5h.8M307.4 73.2h.8M302.3 70.3h.8M309.9 76.8h.8M310.7 71.6h.8M304.2 69.5h.8M305.9 72.6h.8M307.9 77h.8M309.5 69.4h.8M313.7 75.2h.8M308.8 70.3h.8M301.7 69.1h.8M311.7 70.2h.8M303.5 72.6h.8M309.1 74h.8M310.5 76.4h.8M305.1 74.9h.8M304.7 74.1h.8M308.9 73h.8M311.8 72.4h.8M312.2 74.9h.8M308.9 70.7h.8M305.7 70.7h.8M307.6 72.2h.8M318.9 74.6h.8M311.2 70h.8M305.8 71.3h.8M309.1 69.4h.8M314.2 71h.8M312.5 66h.8M308.2 73.1h.8M308.9 74h.8M309.3 72.8h.8M301.6 70h.8M299.8 73.6h.8M309.4 71.8h.8M305.4 70.5h.8M314.7 77.5h.8M307.9 75.9h.8M302.9 66.6h.8M306.7 69.8h.8M306.3 72.7h.8M319.3 71h.8M308.4 73.1h.8M308 74.9h.8M314.9 69.1h.8M308.9 71.6h.8M309.8 68.1h.8M302.3 65.5h.8M310.2 72.9h.8M308.9 65.7h.8M307.1 70.1h.8M303.3 69.5h.8M310.7 73.9h.8M308.1 73.7h.8M306.1 72.4h.8M308.4 73.9h.8M308.1 71.9h.8M307.9 70.5h.8M316.3 74.1h.8M309.5 78.8h.8M313.6 68.2h.8M310.7 74.8h.8M314.9 76.3h.8M311.2 69.1h.8M305.1 72.9h.8M310.3 69.5h.8M307 71.1h.8M308.5 73.3h.8M307.4 68.8h.8M312.5 77h.8M307.8 75.1h.8M309.8 74.2h.8M310.1 70.3h.8M310.2 75.2h.8M304.8 77.6h.8M315.6 77.8h.8M315.3 74.7h.8M307.2 70.6h.8M305.4 72.5h.8M308.1 74.2h.8M300.7 78.4h.8M316.5 72.6h.8M310.7 73.8h.8M309.3 71.8h.8M308 70h.8M308.9 72.3h.8M309.6 70h.8M308.4 72.4h.8M310.6 69.4h.8M309.7 75.1h.8M310.5 71.4h.8M306.6 71.6h.8M310.7 76.8h.8M307.8 70.5h.8M309.6 72.9h.8M305.1 70.1h.8M307.8 74.2h.8M304.2 69.2h.8M310.3 69h.8M308.6 73.3h.8M308 69.4h.8M308.1 71.4h.8M309.6 70h.8M312.5 67.8h.8M307.7 72.3h.8M311.8 70.8h.8M310.3 70.8h.8M310.7 77.3h.8M306.8 73.5h.8M304.8 74.9h.8M312.6 72.6h.8M304.2 73.2h.8M312.3 75.6h.8M311.5 67.3h.8M305.7 76.2h.8M303.7 75.2h.8M315 74.8h.8M312.4 71.6h.8M303.9 71.8h.8M307.6 72.1h.8M310.8 72h.8M308.9 73.5h.8M308 77.5h.8M309.9 72.6h.8M307.6 70.5h.8M313.1 73h.8M304.5 70.5h.8M307.9 71h.8M312.4 69.2h.8M310 72.8h.8M304.1 72.2h.8M307.9 73.7h.8M306.6 73.1h.8M302.5 69h.8M311 75.4h.8M308.3 70.6h.8M312.5 66.6h.8M305.3 74h.8M310.8 69.5h.8M301.3 76h.8M309 69.8h.8M308.4 74.8h.8M298.8 74.9h.8M311.3 66.6h.8M311.3 67.5h.8M312.3 73.6h.8M316.5 71h.8M308.2 75.2h.8M306.1 70.2h.8M307 72h.8M304.3 73.5h.8M310.2 72.6h.8M314.5 71.7h.8M313.1 71h.8M311.3 67h.8M309 71.8h.8M303.3 69.9h.8M304.4 69.3h.8M290.6 69.9h.8M302.9 70.3h.8M299.1 72.1h.8M312.9 71.6h.8M303.3 79.3h.8M314.3 77.2h.8M315.7 71.2h.8M306 78.1h.8M302.8 72.2h.8M309.8 74.6h.8M304.9 77.5h.8M305.7 76.3h.8M315 76h.8M312.5 67.2h.8M297.2 69.8h.8M310.6 80h.8M297.8 74.3h.8M300.6 69.3h.8M304.9 76.1h.8M308.6 78.5h.8M299.6 77.1h.8M314 73.1h.8M310.6 70.1h.8M298.8 70.9h.8M302.2 86.7h.8M303.4 80.7h.8M308.5 74.3h.8M312.6 69.1h.8M313.9 74.6h.8M295.6 75.7h.8M311.1 75h.8M318.9 70.8h.8M310.8 76.4h.8M300.2 78.6h.8M296.1 66.6h.8M310.9 67.6h.8M306.1 64.9h.8M307.5 67.4h.8M309.6 65.4h.8M310.4 71.5h.8M307.5 72.5h.8M308 66.5h.8M287.8 73h.8M300 70.6h.8M310.2 63.3h.8M301.3 69.9h.8M299.1 74.4h.8M305.9 68.9h.8M299.6 76.7h.8M302.1 75.6h.8M310.4 63.7h.8M298.9 72.8h.8M309.6 76.5h.8M313 77.8h.8M304.2 71.8h.8M312.8 70.8h.8M314.9 65.2h.8M311.9 72h.8M292.2 77.5h.8M309.3 72.9h.8M298.9 70.6h.8M318.3 68.8h.8M281 68.7h.8M298 72.2h.8M304.1 68.4h.8M300.7 77.8h.8M296.2 82.2h.8M302.9 67.6h.8M312.9 75.5h.8M299.2 76.4h.8M293.2 68.4h.8M315.4 71.6h.8M297.2 75.3h.8M313.9 72.7h.8M293.4 71.1h.8M310.1 76.5h.8M320.9 71.6h.8M303.4 72.6h.8M316 68.3h.8M316.8 59.6h.8M313 69.6h.8M310.4 76.1h.8M298.1 72.4h.8M308.8 75.6h.8M300 68h.8M292.6 85h.8M305.6 71.7h.8M295.8 77.3h.8M303 79.7h.8M313.4 72.9h.8M312.5 67.5h.8M304.6 70h.8M297.5 72.9h.8M305.9 79.7h.8M281.9 69.6h.8M300.1 70.6h.8M310.2 74.7h.8M307.2 70.5h.8M310.7 74.5h.8M293.2 71.5h.8M296.7 67.1h.8M308.1 73.1h.8M307.9 68.6h.8M305.5 68.4h.8M309.9 76.1h.8M320.2 78.9h.8M301 70.6h.8M300 74.3h.8M321.9 76.2h.8M290.5 66.8h.8M297.3 75.3h.8M307 74.2h.8M320.4 68.8h.8M300.6 82.2h.8M309.6 69.1h.8M291.8 65.5h.8M288.7 73.1h.8M307.3 77.6h.8M306 69.5h.8M301.4 81.9h.8M293.8 73.6h.8M307.2 75.8h.8M304 75.2h.8M313.1 72.1h.8M303.6 71.9h.8M299.8 71.8h.8M304.7 73.8h.8M317 79.1h.8M303.7 75.7h.8M309.2 76.5h.8M307.2 74.1h.8M303.5 69h.8M313.5 79h.8M312 74.9h.8M309 70.6h.8M293.6 76h.8M308.5 70.1h.8M299.8 78.9h.8M293.5 81.3h.8M311.8 84.2h.8M301.6 72.7h.8M303.2 73.5h.8M305.4 69.2h.8M315.1 69h.8M303.2 75.5h.8M303 70.7h.8M309.7 71h.8M297.7 72.3h.8M305.4 81h.8M298.8 77.5h.8M301.1 71.1h.8M304.5 74.1h.8M313.5 81.2h.8M302.2 79.2h.8M314.5 76.7h.8M301.3 77.1h.8M306.2 74.5h.8M305 76h.8M315.4 78.2h.8M305.5 77.6h.8M317.9 68.3h.8M318 66.4h.8M311.1 75.7h.8M318.1 74.1h.8M303.4 69h.8M297.6 76.5h.8M305.2 69.4h.8M311 69.1h.8M303.7 70.6h.8M319.4 79.8h.8M305.8 65.3h.8M309.1 73.1h.8M309.6 75.5h.8M304.6 77.2h.8M313.3 73.8h.8M304 70.5h.8M312.2 67.5h.8M305.8 69.2h.8M296.5 75.7h.8M306.8 73h.8M313.6 65.6h.8M306.5 74.2h.8M313.2 67.6h.8M312.4 73.9h.8M317.2 78.3h.8M311.1 83.1h.8M307 70.8h.8M304.4 68.3h.8M306.8 63.8h.8M306.4 74.8h.8M314.4 71.1h.8M317.4 69.7h.8M306 63.8h.8M301.3 69h.8M317.9 75.3h.8M298.9 75.3h.8M310.5 71.7h.8M307.2 71.4h.8M303 64.5h.8M306.3 78.8h.8M317.5 71.5h.8M301.5 71.8h.8M313.6 74.4h.8M302.7 74.5h.8M305.5 75.2h.8M304 65.9h.8M307.4 76.4h.8M298.9 72.3h.8M313.4 71h.8M302.2 82.3h.8M313.1 77.6h.8M300.1 80.4h.8M294.9 70.4h.8M312.4 79h.8M300.2 69.7h.8M308.4 63.8h.8M311.7 75.4h.8M303.7 75.3h.8M312.7 74.2h.8M310.8 79.9h.8M303.5 73.6h.8M303.2 77.6h.8M304 75h.8M308 73.1h.8M319.5 72.4h.8M317.3 76.6h.8M316.6 72h.8M313.7 76.3h.8M302.5 74.1h.8M306.1 72.6h.8M316.4 69.5h.8M294.8 64.7h.8M303.7 69.8h.8M307.1 75.4h.8M319.7 74.2h.8M310.4 69.4h.8M311.2 79.1h.8M316.7 63.8h.8M313.4 80.1h.8M313 65.9h.8M304.8 75.5h.8M310 69h.8M300.6 77.3h.8M297.4 79.4h.8M307.1 74.2h.8M297.4 70h.8M312 66h.8M321.9 66.3h.8M298.2 73h.8M310.5 76.2h.8M304.3 71.8h.8M305.3 70.1h.8M288.4 77.2h.8M308.8 73.5h.8M302.5 74h.8M306.9 72.4h.8M315 64.9h.8M308.8 67.9h.8M304.7 79.7h.8M299.2 72.3h.8M302.7 77.2h.8M299.9 65h.8M310.7 71.2h.8M304.7 77.8h.8M300.6 71.1h.8M308.1 74.7h.8M303.3 77.6h.8M323.1 70.9h.8M320.5 63.1h.8M317.1 71.2h.8M308 71.2h.8M302.4 66.9h.8M304.2 78.8h.8M315.2 71.2h.8M303.2 69.6h.8M298.4 81.1h.8M311.8 73.3h.8M303.5 68.1h.8M316.5 76.4h.8M300.1 77.4h.8M299 75.8h.8M300.1 70.9h.8M310.6 74.8h.8M314.3 68.9h.8M318.4 79h.8M306.9 74.9h.8M301.4 72.1h.8M297.5 73.2h.8M308.4 79h.8M313.8 76.6h.8M304.4 71.8h.8M304.5 73.8h.8M293.1 76.4h.8M295.7 70.4h.8M307.2 70.4h.8M319 72.3h.8M318.3 78.2h.8M303.4 74.6h.8M316.3 71.3h.8M307.6 70.2h.8M307.4 71.2h.8M307.6 77.4h.8M317 73.4h.8M308.5 76.7h.8M304.9 67.9h.8M315 68.5h.8M313.7 68.4h.8M320.2 68h.8M313.1 79.7h.8M300.1 79.6h.8M301.1 64.7h.8M312.2 76h.8M305.5 61.2h.8M306.6 71.4h.8M304.3 71.5h.8M294.1 70.2h.8M320 79.9h.8M304.4 69.5h.8M309.9 77.7h.8M312.2 67.4h.8M308.2 73.4h.8M317.4 78.3h.8M310.8 78.4h.8M304.2 79.9h.8M303.9 74.6h.8M313.6 68.6h.8M301.9 64.7h.8M308.2 72.5h.8M304.6 75.1h.8M291.8 72.7h.8M307.6 71.6h.8M312.7 80.9h.8M303.8 68.5h.8M302.6 73.2h.8M311.2 68.8h.8M314.2 68.1h.8M313 74.8h.8M310.3 82.7h.8M305.1 72h.8M310.4 76.8h.8M297.4 74.1h.8M301.7 75.7h.8M316.9 73h.8M306.2 73.6h.8M285.7 76.4h.8M311 73.6h.8M304.1 69.4h.8M305.7 78.4h.8M306.3 79h.8M288.5 70.7h.8M309 72.7h.8M295 69.7h.8M316 66.8h.8M299.9 67.7h.8M303 75.8h.8M311.3 63.4h.8M317.5 70.1h.8M302.8 80.5h.8M306.4 67.1h.8M302.4 69.5h.8M299.7 71.3h.8M313.3 74.4h.8M297.1 85.6h.8M299.9 73.3h.8M307.2 76.3h.8M304.6 74.9h.8M322.2 73.2h.8M299.2 74.3h.8M301.2 71.1h.8M308.4 74.4h.8M305 76.7h.8M305.6 66.8h.8M313.3 71.1h.8M315.7 69.8h.8M311.1 74.3h.8M287.6 65.9h.8M298.9 79.3h.8M293.4 77h.8M314.9 75.1h.8M311.9 70.5h.8M306.9 73.8h.8M310 76.1h.8M305.5 69.6h.8M303 74.7h.8M295 67h.8M304 70.3h.8M305.1 60.5h.8M304.5 71.6h.8M312.6 63.7h.8M304.8 75h.8M310.5 78.3h.8M314.6 68h.8M311.6 71.3h.8M301.2 79.9h.8M302.5 68.9h.8M304.1 68.9h.8M314.3 74.6h.8M317.1 74.7h.8M302.6 77.6h.8M302.3 70.7h.8M305.8 73h.8M315.6 70h.8M309.5 72.7h.8M297.9 67.7h.8M305.4 74.7h.8M309.3 75h.8M307.4 70.7h.8M310.1 68.2h.8M297.3 71.3h.8M296.7 70.4h.8M301.6 70.2h.8M306.7 69.1h.8M303.9 64.9h.8M308 68.7h.8M309.9 59.7h.8M301.2 73.9h.8M289.4 71.1h.8M307.7 73.3h.8M296.2 73.9h.8M308.1 68.3h.8M312.4 72.6h.8M307.1 70.7h.8M311 73.3h.8M315.2 74.9h.8M302.5 71.8h.8M313.6 71.1h.8M309.8 75.2h.8M305.7 62h.8M308 73.8h.8M308 69.3h.8M315.8 72.2h.8M302.5 69.5h.8M309.6 67.7h.8M299.7 82.1h.8M316.5 77.7h.8M316.9 75.6h.8M294.8 78.3h.8M316 75.1h.8M292.8 78.6h.8M316.9 70.5h.8M307.9 76.4h.8M306.4 77.9h.8M307.6 76h.8M307.6 65.9h.8M299.8 87.5h.8M309 78.9h.8M315.3 80.8h.8M311 70h.8M307.1 63.9h.8M305.6 77h.8M291.3 73.7h.8M313 79h.8M300.3 69.8h.8M293.4 68.1h.8M310.9 82.4h.8M298.7 79.2h.8M310.1 70.5h.8M323 61.1h.8M306.5 73.8h.8M322.5 81.2h.8M323.5 73.4h.8M314.1 79.2h.8M310.7 74.5h.8M305.7 70.9h.8M298 81.9h.8M303.7 63.1h.8M308.9 72.6h.8M308.3 81.3h.8M306.2 71.6h.8M301.6 72.7h.8M303.8 73.8h.8M329.8 74.6h.8M300.8 81.8h.8M313.3 76.6h.8M312.2 76.6h.8M311.9 79.4h.8M314.3 79.1h.8M303.3 72.8h.8M301.7 77.3h.8M313.1 70.6h.8M311.3 85.1h.8M316 67.6h.8M306.3 75.8h.8M306.7 74.6h.8M315.6 74.3h.8M299 76.1h.8M306.3 73.3h.8M302.9 66.3h.8M297.9 71.1h.8M299.2 60.1h.8M315.4 67.4h.8M301.7 75.3h.8M289.4 79.1h.8M301.4 75.9h.8M303.5 74.2h.8M307.8 72.8h.8M293.7 65.9h.8M306.7 79.4h.8M303 75.3h.8M308.2 75.1h.8M314.2 65.8h.8M309 72h.8M304.7 68.8h.8M301.3 68h.8M299 84.5h.8M319.4 72.8h.8M312.4 68.2h.8M286.7 64.3h.8M308 79.5h.8M306.7 68.1h.8M305.2 68.1h.8M296.8 71.7h.8M304.1 69h.8M300.5 68.4h.8M308.7 79.3h.8M305.5 83.3h.8M295.2 74.1h.8M298.5 72h.8M307.7 75.4h.8M315.3 70.2h.8M297.9 71.9h.8M309.1 69.5h.8M313.5 80.7h.8M296.6 74.5h.8M314.4 63.8h.8M308.5 71.7h.8M296.6 79h.8M308.6 70.6h.8M310.2 75.8h.8M312.6 75.5h.8M310 67.3h.8M303.9 73.4h.8M286.8 82.8h.8M304.2 67.9h.8M293.7 74h.8M307.2 70.1h.8M304 68.6h.8M301.5 72.3h.8M302.3 76h.8M306 73.4h.8M310 78.7h.8M311.4 73.9h.8M305.8 69h.8M304.5 76h.8M308.7 71h.8M297.3 65.6h.8M309.4 77.6h.8M309.7 66.4h.8M305.4 73.8h.8M300.3 74.4h.8M305.5 68.9h.8M297.9 76.6h.8M309.6 68.6h.8M299.6 77h.8M311.4 71.4h.8M318.6 71.4h.8M299.3 77.9h.8M305.6 74.4h.8M307.3 68.1h.8M298.3 71.9h.8M317.3 68.1h.8M316.9 73.8h.8M298.9 74h.8M311.1 68.6h.8M291.4 74.5h.8M298.9 74.9h.8M293 72.1h.8M301.1 65.9h.8M305.2 73.6h.8M302.9 67.3h.8M308.5 64.6h.8M310.9 75.1h.8M319.2 76.9h.8M309.6 74h.8M307.2 66.6h.8M317.7 75.3h.8M304.9 67.5h.8M317.8 75.3h.8M298.4 75.9h.8M320.8 72.7h.8M309.9 70.9h.8M302.4 77.8h.8M329.4 73.3h.8M306.1 76.5h.8M304.8 76.2h.8M313 68.1h.8M299.2 72.5h.8M313.1 74.1h.8M316 66.4h.8M310.6 69.9h.8M307.7 74.3h.8M299.9 71.7h.8M298.5 74h.8M300.8 70.5h.8M308.6 69.8h.8M315.4 69.8h.8M313.2 74.1h.8M299.5 71.8h.8M300.9 71.1h.8M305 81.3h.8M304 80.1h.8M310.3 66.7h.8M290.2 76h.8M292.5 76.1h.8M314.5 74.6h.8M305.5 71.6h.8M308.9 71.4h.8M303.1 71.1h.8M315.5 69.9h.8M309.8 67.4h.8M301.8 66.4h.8M305.6 76h.8M309.2 70.5h.8M311.4 71.2h.8M309.7 74.1h.8M310.9 61.3h.8M297.5 76.4h.8M306.2 83.2h.8M305.3 70.2h.8M317.8 75.4h.8M320.8 75.2h.8M305.5 76.2h.8M301.3 70.7h.8M303 71.8h.8M312.7 70.6h.8M309.3 70.5h.8M313.4 60h.8M305.5 73.6h.8M299.2 77.5h.8M308.6 78.7h.8M314 75.8h.8M305.9 67.8h.8M305.4 70.7h.8M308.8 70.6h.8M329.2 65.4h.8M315.5 70.6h.8M305.2 77.1h.8M307 67.2h.8M310 71.9h.8M292.1 73.7h.8M299.4 69.3h.8M310.5 74.2h.8M304.9 82.9h.8M310 70h.8M308.7 72.2h.8M291 65.5h.8M296.9 82.4h.8M305.7 71.5h.8M302.9 77.3h.8M307.2 80.7h.8M312.7 80.4h.8M306.2 74.5h.8M303.9 72h.8M294.5 70.1h.8M300.1 69.8h.8M315.8 74h.8M315.9 76.8h.8M313.7 77.4h.8M302.6 76.5h.8M304.7 70.3h.8M315.6 82.8h.8M299.9 80.8h.8M313 68.9h.8M309 74.5h.8M309.7 71.2h.8M297.7 72.9h.8M313.2 76.4h.8M311.8 77.9h.8M299.8 72.6h.8M309.5 77.4h.8M308.1 75.2h.8M308 82.5h.8M291.2 72.7h.8M324.9 73.9h.8M293.8 73.4h.8M296.6 69.7h.8M308.6 80.7h.8M310.3 75.9h.8M314.4 73.7h.8M300.8 72.3h.8M309.4 71.5h.8M302.2 71.1h.8M296.2 68.1h.8M306.3 71.1h.8M307.3 79.3h.8M309.2 72.7h.8M298.5 67.8h.8M309.7 68.8h.8M310.1 67.8h.8M308 72.5h.8M314.2 71h.8M304.3 73.9h.8M307.4 80.6h.8M305.1 70.3h.8M304.7 75h.8M308.7 76h.8M297 84.2h.8M320.3 72.7h.8M298.3 73.5h.8M310 62.5h.8M307.1 66h.8M310.3 79.2h.8M314.5 65.8h.8M317 77h.8M304.4 75.1h.8M318 71.3h.8M306.9 70.2h.8M315.3 62.9h.8M317.2 68.3h.8M313.7 65.3h.8M300.2 70h.8M313 65.3h.8M311.4 69.9h.8M316 71.4h.8M310.5 72h.8M319.9 71.1h.8M306.8 82h.8M307.6 76h.8M301.7 73.7h.8M290.6 73.3h.8M302.3 65.9h.8M296.8 78.1h.8M310.1 65.8h.8M320.1 69.6h.8M304.3 73.9h.8M298.8 65.3h.8M301.6 78.3h.8M313.9 65.5h.8M315.7 73h.8M310.6 73h.8M310 68.2h.8M300.4 69.6h.8M304.3 75.7h.8M298.2 80.2h.8M302.4 70.1h.8M312.1 74.8h.8M304.6 67.9h.8M299.8 65.4h.8M315.3 77.8h.8M320.5 75.1h.8M309.4 76.3h.8M313.9 71.6h.8M309.5 82.8h.8M294.8 66.3h.8M300 76.3h.8M315.6 71.2h.8M311.8 72.6h.8M309.2 70.3h.8M306.8 72.8h.8M315.2 83.1h.8M293.9 75.3h.8M307 77.3h.8M314.7 76.4h.8M312.8 68.4h.8M294.7 80.5h.8M315.7 68.4h.8M316.3 75.9h.8M289.3 77h.8M299.9 78.2h.8M302.1 69.4h.8M295.8 71.8h.8M314.4 69.7h.8M293.6 82.7h.8M320.3 76h.8M303.1 67.2h.8M295.2 75.4h.8M316.4 67.9h.8M307 71.5h.8M305.1 75.1h.8M322.1 69.9h.8M313.1 77.8h.8M304.9 72.1h.8M297.3 77.8h.8M303.2 69.8h.8M307.5 68.8h.8M299.5 71.4h.8M317.7 71.8h.8M310.8 66h.8M292.9 81.2h.8M304.1 65.7h.8M306.2 75.6h.8M294.5 68.7h.8M308.9 68.5h.8M312.8 77.3h.8M310.2 70.8h.8M306.7 69.9h.8M306.1 74.3h.8M304.8 77.3h.8M325.8 70.3h.8M309.5 76.6h.8M311.7 71.7h.8M303.5 77.5h.8M311.5 75.1h.8M301.2 75.7h.8M312.8 71.9h.8M311.7 82.9h.8M293.4 75.6h.8M298.5 66.5h.8M319.9 75.3h.8M321.3 69.6h.8M314.1 71.6h.8M321.1 70.7h.8M313.7 79.4h.8M316.9 73h.8M318.3 71.5h.8M321.2 72.5h.8M324 69.5h.8M313.8 80.1h.8M320.6 76.1h.8M326.7 75.4h.8M321.2 68.2h.8M313.3 76.8h.8M324.3 75.4h.8M313 66.3h.8M315.9 69.5h.8M321.8 70h.8M328.7 71.4h.8M318.3 76.4h.8M322.6 70.4h.8M325 80h.8M315.1 72.7h.8M315.8 66.9h.8M324 75.9h.8M325.7 75h.8M311.2 73.4h.8M317.8 69.5h.8M315.6 76.1h.8M319.6 80.2h.8M323.3 67h.8M325.3 77.7h.8M321.2 69.4h.8M329.6 69h.8M320.6 67h.8M314.9 67.7h.8M326.3 77.5h.8M319 68.9h.8M320.7 74.8h.8M313.6 69.6h.8M320.5 75.9h.8M321.4 75h.8M314.9 65h.8M322.5 70.4h.8M320.4 72.2h.8M323.3 70.9h.8M328 73.6h.8M323.6 75.6h.8M326.1 74.9h.8M312.5 71.4h.8M330.1 75.1h.8M323.7 75.1h.8M317.9 71.2h.8M317.8 77.5h.8M322.8 79.6h.8M323.4 80h.8M323.2 69.4h.8M329.5 74.7h.8M326.8 74.2h.8M319.4 74.1h.8M315.5 69.4h.8M316.6 71.7h.8M314.4 73.1h.8M322.5 80.5h.8M330 73.3h.8M325.3 72.7h.8M322.9 73.4h.8M318.3 73.8h.8M313.7 75h.8M319.6 69.8h.8M319.2 75.4h.8M317.7 75.1h.8M323.8 78.9h.8M315.7 73.1h.8M323.5 78.7h.8M322.3 76.1h.8M313.8 71.5h.8M329.2 72.5h.8M331.6 71h.8M319.6 68h.8M324.1 74.4h.8M330.9 74.1h.8M319.8 68.6h.8M320.6 76.8h.8M324.7 77.7h.8M325.3 73.3h.8M324 74.1h.8M314.4 79.4h.8M322.8 69.9h.8M322.9 74.5h.8M325.9 78.5h.8M306 75.4h.8M328.6 70.2h.8M311.8 74.5h.8M322.7 74.7h.8M315.5 71.9h.8M322 76.1h.8M331.8 74.5h.8M318 65.3h.8M326.3 73h.8M320.5 70.1h.8M324.6 67.3h.8M321.5 73.9h.8M322.5 78h.8M320.5 73.8h.8M325.2 68.1h.8M319.6 73.7h.8M325.7 70.7h.8M325 74.8h.8M313.6 68.4h.8M313.9 74h.8M322 76h.8M325.1 71.6h.8M326.3 76.3h.8M323.3 75.2h.8M314.6 74.8h.8M315.9 69.4h.8M319.3 74h.8M320.7 72.4h.8M316 74.1h.8M317.3 68.6h.8M321.5 78.6h.8M319 69.8h.8M327.9 79.5h.8M319.5 72.8h.8M322.1 83.8h.8M321.7 77h.8M323.2 67.2h.8M315.5 69.2h.8M323.2 73.9h.8M329.9 72.6h.8M322.5 73.8h.8M321.7 81.6h.8M322.4 78.6h.8M327.5 71.4h.8M324.4 72.2h.8M321.5 74.1h.8M321.1 71.9h.8M328.8 72.6h.8M324.5 79.4h.8M324.1 77.1h.8M327.9 77.3h.8M329.6 68.5h.8M330.8 73.6h.8M312.3 71.3h.8M314 73.4h.8M313.6 70h.8M322.5 74h.8M317 72.7h.8M320.5 73.8h.8M335 74.2h.8M341.5 71.3h.8M331.5 74.8h.8M332.4 73.1h.8M331.9 75h.8M343.7 75.2h.8M333 75.5h.8M333.8 69.6h.8M337 74h.8M330.9 76h.8M335.5 73.4h.8M320.3 68.8h.8M335.1 74.5h.8M338 75.7h.8M332 71.2h.8M327.4 73.7h.8M326.8 76h.8M326.2 69.2h.8M334.1 70.1h.8M346.6 73.4h.8M334.7 74.1h.8M329.7 69.7h.8M321.8 75.7h.8M341.5 81.1h.8M324.7 75.2h.8M334.7 77h.8M331.2 76.3h.8M341.1 77h.8M345.1 75.4h.8M345.9 74.1h.8M347.3 68.9h.8M335.3 72.7h.8M334.7 77.5h.8M340 75.5h.8M347.2 72.2h.8M328.9 78.1h.8M337.8 69.7h.8M337.7 72h.8M345 78.8h.8M330.9 77.8h.8M329 76.6h.8M339.1 74.9h.8M325.2 73.1h.8M319.2 71.7h.8M321.8 76.7h.8M328.9 67.8h.8M339 76.2h.8M330.9 79.9h.8M340.4 75.5h.8M331.3 66.7h.8M338.1 77.6h.8M331.2 70.7h.8M335.1 70.4h.8M334.9 76.8h.8M345.4 76.5h.8M336.2 76.9h.8M344.8 75h.8M326.7 71.9h.8M326.5 71.6h.8M334.1 75.6h.8M336.1 75.1h.8M332.4 75.6h.8M341 77.4h.8M345.5 75.1h.8M332.8 79h.8M336.3 76h.8M332.4 77.1h.8M332.5 71.9h.8M334.7 73.6h.8M340.9 74.4h.8M335.9 74.3h.8M337.5 73.4h.8M343.1 71.9h.8M332.5 72.7h.8M339.5 75.4h.8M338.5 74.3h.8M330.3 71.4h.8M332.8 73.2h.8M336.9 75.9h.8M341.8 75.2h.8M330.1 71.5h.8M335.3 75.8h.8M348.5 76.6h.8M346.8 80.9h.8M327.4 77.2h.8M342.6 79.1h.8M334.7 77.3h.8M331.7 74.3h.8M334.7 79.4h.8M333.3 77.1h.8M335.6 73h.8M336.5 76.7h.8M329.9 75.9h.8M330.3 72h.8M336.6 74.3h.8M328.6 69.9h.8M335.1 75.4h.8M331.8 75h.8M324.3 74.7h.8M337.8 75.8h.8M330.7 74.6h.8M335.6 77.7h.8M336.9 75.6h.8M329.7 76.5h.8M343.3 74.3h.8M339.4 76h.8M335 71.4h.8M347.7 71.2h.8M337.2 74h.8M343.1 74.5h.8M335.1 76.4h.8M338.3 73.8h.8M339.6 76.3h.8M342 74.2h.8M334.8 73.8h.8M329.1 74.9h.8M337.5 78.8h.8M332.6 75.6h.8M343 75.3h.8M335.4 75.2h.8M330.5 71.8h.8M342.7 76h.8M334.8 71.5h.8M335.5 77.9h.8M327.2 71.7h.8M342.3 79.3h.8M345.9 74.5h.8M339.4 73.3h.8M338.7 74.2h.8M336 78.4h.8M337.4 74.4h.8M335.3 75.5h.8M331.4 75h.8M338.8 79.2h.8M321 70.3h.8M326.2 76.2h.8M351.9 77h.8M335.5 77.8h.8M318.1 72.6h.8M313.4 73h.8M331.6 73.2h.8M337.5 73.5h.8M342.7 75.6h.8M337 81.6h.8M331.7 76.9h.8M329 77.4h.8M341.6 75.8h.8M341.4 79.6h.8M344.5 75.8h.8M334.3 77.6h.8M325 72.2h.8M338.2 76.6h.8M347.4 80.6h.8M337.1 76.2h.8M325.9 73.4h.8M336.9 74.4h.8M335.3 76.4h.8M328.6 72.7h.8M322.4 76.5h.8M328.2 69.7h.8M340.4 74.8h.8M341.8 74.5h.8M349.5 78.1h.8M336 75.2h.8M333.4 76.7h.8M348.9 75.1h.8M327.4 75.6h.8M342.7 71.7h.8M330.5 71.8h.8M338.7 76.5h.8M330.2 71.4h.8M340.2 70h.8M339.5 74.8h.8M347.9 78.7h.8M331.1 73.7h.8M333.3 72.8h.8M335.3 77.3h.8M324.7 73.2h.8M345.1 77.7h.8M329.6 72.2h.8M329.5 70.1h.8M342.9 75.8h.8M330.6 70.7h.8M332.5 73.2h.8M346.9 74.8h.8M335.5 77.6h.8M339.6 74.8h.8M319.7 76.9h.8M339.2 74.1h.8M334.6 72.3h.8M329.2 70.4h.8M338.3 76.5h.8M336 76.9h.8M338.6 75.5h.8M328.8 75.7h.8M343 77.2h.8M343.7 74.5h.8M328 77.3h.8M330.9 75h.8M333.7 74.7h.8M333.3 73.2h.8M322.3 78.4h.8M336.9 70.1h.8M329.1 71.3h.8M330.6 67.8h.8M338.5 79.4h.8M333.1 76.5h.8M339.4 72.1h.8M343.8 71.4h.8M331.2 73.5h.8M343.5 76h.8M334.4 72.7h.8M335.6 75h.8M339.6 78.8h.8M340 75.4h.8M333.6 78.8h.8M336.4 74.9h.8M346.9 80h.8M338.9 74.9h.8M330.4 77.1h.8M331.7 76.9h.8M329.6 74.5h.8M337.7 75.4h.8M336.5 75.9h.8M327.6 71.2h.8M333.5 79.3h.8M334.4 72.4h.8M330.5 74.4h.8M343.2 74.2h.8M338.8 75.7h.8M332.8 72.2h.8M334.1 72.9h.8M339.1 70.7h.8M342.5 77.5h.8M338.6 79h.8M339.5 70.9h.8M335.2 76h.8M330.6 71.5h.8M337.8 76.4h.8M332.2 73.9h.8M331.7 73h.8M334.3 77.5h.8M324.1 72.8h.8M345.9 76.7h.8M335.8 77h.8M328.5 71.1h.8M324.1 70h.8M336.5 77.1h.8M332.3 72.8h.8M337.6 76.6h.8M337.2 70.2h.8M331.9 68h.8M336.9 72.8h.8M330.2 78.1h.8M343.8 76.9h.8M336.8 75.4h.8M331 74.3h.8M348.2 73.9h.8M330.5 74.8h.8M340.8 77.5h.8M328.5 73.8h.8M333.5 71.5h.8M335.6 73.6h.8M341.1 76.5h.8M329.7 74.5h.8M332.7 73h.8M331.4 77.1h.8M332.6 70.2h.8M329.5 76.3h.8M349.8 73.6h.8M332.7 73.7h.8M325.4 74.9h.8M334.6 75.5h.8M350.2 75.7h.8M340.2 77.4h.8M330.8 72.9h.8M345.4 77.7h.8M336.2 72.1h.8M340.9 76.7h.8M349.5 80h.8M340.4 76h.8M335.6 73.5h.8M337 75.6h.8M339.1 78h.8M337.3 73.6h.8M340.1 79.3h.8M329.2 75.3h.8M338.6 76.5h.8M338.4 74.9h.8M333.9 79h.8M347.1 72.5h.8M317.7 74.2h.8M330.6 73h.8M324.1 74.6h.8M334.8 73.4h.8M340.5 81.5h.8M344.7 78.8h.8M332 76.2h.8M334.5 77.7h.8M339 75.1h.8M341 70.8h.8M344 83.8h.8M329.4 78.2h.8M313 80.5h.8M345.1 69.1h.8M356 75.7h.8M312.2 67h.8M345 73.4h.8M347.9 66h.8M332.8 80.7h.8M325.4 79h.8M329.5 77h.8M338.1 88h.8M318.4 79.5h.8M350.6 68.4h.8M335 88.5h.8M347.3 57.7h.8M331 65h.8M337.8 70.8h.8M326.9 70.1h.8M337.7 72.3h.8M322.6 73.7h.8M339.1 70h.8M348 65.3h.8M339.2 72.7h.8M353.9 71.3h.8M325.6 67.2h.8M359.1 78.6h.8M320.3 73h.8M321.9 83.9h.8M339.3 63.1h.8M336.7 80.3h.8M334 77.8h.8M332.6 76.2h.8M336.7 70.9h.8M338.4 76h.8M333.5 71h.8M321.2 76.4h.8M344.4 60.9h.8M327.2 82.9h.8M345.6 70.8h.8M351.1 69.2h.8M324 86.3h.8M328.5 73.7h.8M313.2 69.1h.8M319.1 74.2h.8M310.8 81.2h.8M329.5 71.5h.8M326 79.3h.8M353.4 72.6h.8M354.4 84.4h.8M351 76.7h.8M315.2 78.9h.8M328.8 76.1h.8M310.2 73.4h.8M337 69.5h.8M337.7 84.8h.8M336.9 71h.8M364.2 62.4h.8M322.4 77.4h.8M326.5 61.6h.8M337.3 79.9h.8M323.9 83.6h.8M340.3 82h.8M314.7 75h.8M354.2 86.8h.8M350.7 75h.8M336.3 71.3h.8M347.9 70.9h.8M335.6 62.9h.8M314.9 85.4h.8M334.7 76.3h.8M306.2 74.8h.8M360.2 66.3h.8M303.9 74.1h.8M327.3 73.8h.8M318.1 67.1h.8M318.3 78.8h.8M333.4 79.8h.8M320.3 78.5h.8M328.4 75.5h.8M345.8 75.2h.8M329.5 65.2h.8M334.8 79.6h.8M326 74.6h.8M311.5 67.2h.8M339.1 82.6h.8M330.1 65.2h.8M329.2 65.8h.8M330.5 86.3h.8M337.8 74.1h.8M347.2 72.8h.8M338.2 76.2h.8M339.7 66.4h.8M343.1 80.2h.8M304.9 59h.8M322.6 83.8h.8M334.3 79h.8M341.1 80.2h.8M325.9 71.6h.8M338.8 78.6h.8M341.3 77h.8M327.8 81.5h.8M340 81.3h.8M301.5 81h.8M302.8 76.2h.8M325.5 75.7h.8M327.9 73.2h.8M336.5 77h.8M323.8 60.1h.8M324 78.2h.8M323.2 77.5h.8M329.3 69.4h.8M349 84.8h.8M332.7 74.7h.8M346.3 67.1h.8M322.8 81.7h.8M345.6 72.1h.8M324 77.1h.8M315.9 72h.8M331 60.4h.8M341.6 79.5h.8M347.7 66.5h.8M317.5 70.2h.8M317.2 87.2h.8M321.4 73.1h.8M336.7 77.7h.8M352.7 68.5h.8M345.3 75.9h.8M318.9 75.9h.8M315.9 84.6h.8M324.6 81h.8M350.8 71.3h.8M322.4 75.8h.8M320.5 80.4h.8M336.3 70.5h.8M325.2 79.3h.8M315.3 85.1h.8M323.9 73.8h.8M322.1 84.7h.8M312.3 109h.8M309.1 108.5h.8M312.5 104.5h.8M309.8 109.9h.8M309.7 108.3h.8M303.5 110.2h.8M308.5 100.8h.8M301.7 119.8h.8M314.3 104.1h.8M307.1 114.1h.8M302.9 109.2h.8M307.6 113h.8M307 104.8h.8M299.5 119.4h.8M308.4 109.8h.8M308.2 110.7h.8M303.7 111.4h.8M309.4 109.6h.8M311.7 110h.8M299.6 114.1h.8M309.2 121.3h.8M306.8 115.6h.8M309.3 112h.8M312.7 96.6h.8M305.9 111.3h.8M309.3 110.7h.8M308.8 116.8h.8M310.9 106.7h.8M306.8 111.4h.8M305.9 119.1h.8M304.5 114.9h.8M307.4 105.9h.8M308.6 114.4h.8M309.6 102.3h.8M308.2 105.7h.8M309.5 110h.8M307.8 117.3h.8M311.3 103.4h.8M305.3 108.8h.8M311.3 103.4h.8M306.9 117.6h.8M303.1 116.9h.8M306.7 122h.8M310.4 100.8h.8M304.9 113.4h.8M307.8 114.3h.8M308.1 103.7h.8M304.2 107.4h.8M310.4 104.4h.8M309.9 115.9h.8M310.6 113.1h.8M313.6 108.3h.8M306.2 114.8h.8M307.9 109.4h.8M308.9 103.8h.8M312.8 108.3h.8M301.5 118.7h.8M304.5 114.6h.8M308 109.3h.8M306.7 110.4h.8M308.6 112.1h.8M307.2 107.1h.8M305.6 110.9h.8M303.8 110.5h.8M311.1 107.7h.8M305.7 111h.8M305.1 112.5h.8M308.4 119.7h.8M311.1 95.5h.8M306.7 116.9h.8M305.1 106.9h.8M305.1 120.2h.8M307.1 121.4h.8M306.8 113.5h.8M306.3 110.6h.8M306.6 111.5h.8M309.8 105.7h.8M306.3 110.8h.8M304.6 113.2h.8M312 113.1h.8M310.3 106.6h.8M313.3 105h.8M307.6 110.1h.8M306 116.3h.8M303.2 110.9h.8M309.7 118.9h.8M309.2 110.8h.8M306.9 109.8h.8M311.1 110.3h.8M308.2 113.1h.8M308.5 106.2h.8M306.2 109.7h.8M307.9 108.2h.8M308 105.4h.8M310.2 103.5h.8M303.8 113.9h.8M306.9 107.4h.8M314.2 104.7h.8M305.2 107.4h.8M305.8 110.5h.8M305.1 119.6h.8M310.6 101h.8M312.2 109h.8M304.9 115h.8M309.2 110.5h.8M305.9 116.4h.8M309.6 112.7h.8M303.1 117.6h.8M305.9 113.1h.8M307.5 107.4h.8M311.3 98.5h.8M311.7 108.6h.8M309 106.8h.8M305.4 114.6h.8M309.2 108.4h.8M310.1 109.3h.8M303.6 114.1h.8M309.3 104.4h.8M308.9 120.1h.8M303.7 113.9h.8M306.8 105.8h.8M308.4 116.1h.8M311.9 117.5h.8M314.2 113.6h.8M308 110.7h.8M305.8 113.8h.8M306.6 113.4h.8M306.1 106.5h.8M300.8 113h.8M310.4 104.5h.8M307.4 111.2h.8M310.3 107.1h.8M308.9 107.3h.8M307.2 111.7h.8M306.5 120.5h.8M302.1 117.1h.8M309 108.3h.8M313.2 109.5h.8M314.5 104.5h.8M312 114.4h.8M305.7 115h.8M309 106.6h.8M306.5 111.4h.8M304.4 102.6h.8M312.6 106.7h.8M308.8 112.1h.8M308.3 116.6h.8M311.4 96.8h.8M310.2 105h.8M305.8 112.2h.8M304.3 110.7h.8M308.9 118.9h.8M308.9 111.9h.8M309.3 110.3h.8M302.4 116.9h.8M311.2 109.5h.8M304 115.6h.8M307.1 116.6h.8M308.4 109.7h.8M307.1 114.4h.8M305.9 110.3h.8M306.7 109h.8M311 107.7h.8M307.6 114.8h.8M306.1 110.2h.8M301.9 113.4h.8M306.2 116.5h.8M308.5 105.2h.8M308.7 110.9h.8M310.2 108.3h.8M311.8 106.6h.8M307 115h.8M302.6 121.3h.8M309 111.7h.8M309 113.4h.8M308.2 104.5h.8M307.2 113.9h.8M308.9 109.2h.8M306.4 106.3h.8M311.9 109h.8M310.8 106.8h.8M308.1 112.7h.8M303.7 109.8h.8M306.3 113.8h.8M304.4 112.5h.8M306.3 111.8h.8M307.6 110.8h.8M310.3 111.5h.8M308.8 111h.8M298.2 113.4h.8M308.4 113.7h.8M305.5 112h.8M307.3 117.6h.8M307.1 113.8h.8M311.1 106.8h.8M311.7 101.2h.8M311.1 107.7h.8M306.4 114.1h.8M304.1 112.6h.8M306.3 109.1h.8M309.1 103.1h.8M306.7 113.7h.8M306.7 113.5h.8M303 112.4h.8M299.8 120.4h.8M311.6 105h.8M306.8 110h.8M308 112.2h.8M303 116.4h.8M308.8 116.4h.8M308.3 117.1h.8M313.2 116.1h.8M307.5 111.6h.8M312.3 106.2h.8M306.9 105.9h.8M313.8 108h.8M306.3 111.1h.8M307.9 117.1h.8M308.2 109.9h.8M309 118.3h.8M309.3 107.3h.8M308.2 103.7h.8M307 106.3h.8M309.7 104.7h.8M309 105.4h.8M311.1 110.7h.8M306.1 115.3h.8M308 115.8h.8M305.5 113.4h.8M310 113.3h.8M305.5 115.7h.8M305.7 112.1h.8M305.7 114.5h.8M304.3 108.7h.8M305.2 108.9h.8M313 113.6h.8M305.5 115.4h.8M309.4 113.4h.8M302.4 111.4h.8M304.9 118.4h.8M310.6 111.2h.8M308.1 114.3h.8M308.6 117.2h.8M305.9 110.8h.8M312.1 112.3h.8M303 113.6h.8M302.9 114.4h.8M308.3 111.8h.8M307.7 112.1h.8M309.2 105.7h.8M299.7 114.3h.8M306.5 109.4h.8M308.1 112.7h.8M304.8 107.5h.8M305.9 115.5h.8M310 113h.8M301.7 111.2h.8M306 104.3h.8M306.6 115.9h.8M311.4 118.5h.8M309.3 110.7h.8M312 115.5h.8M307 108.1h.8M306.1 103.9h.8M307.1 114.1h.8M305.6 109.6h.8M314.2 105.8h.8M306.7 115.7h.8M305.3 113.5h.8M309.8 107h.8M307.6 111.8h.8M308.2 117.6h.8M309.2 115.9h.8M305.6 112.7h.8M311 104.9h.8M305.1 113.4h.8M313.2 110.5h.8M307.9 108.1h.8M303.8 115.4h.8M307.9 112h.8M309.4 115.4h.8M304 114.6h.8M309.7 109.5h.8M309.1 113.9h.8M308.7 119.1h.8M316.5 103.7h.8M312.5 112.8h.8M310.9 112.4h.8M307.7 112.3h.8M304.5 107h.8M311.3 113.9h.8M302.8 124.4h.8M310.2 107.5h.8M311.3 111.8h.8M303.8 107.7h.8M305 115h.8M306.8 110.1h.8M311.4 113.4h.8M304.6 125.3h.8M310.9 107.7h.8M307.8 111.2h.8M308.9 109.9h.8M308 115.2h.8M305.9 114.8h.8M304.2 111.5h.8M308.6 108.5h.8M305.1 116.2h.8M308.3 118.8h.8M313.3 111h.8M308.2 114.4h.8M303.7 114.5h.8M308.4 112h.8M308.8 106.9h.8M312 107.4h.8M305.5 114.8h.8M309.8 117h.8M308.6 114.5h.8M308.8 106.9h.8M307.5 113.7h.8M303.1 113.2h.8M306.5 115.8h.8M312.1 112.2h.8M305.2 119.7h.8M308.1 117.5h.8M309.3 108.3h.8M309.6 104.4h.8M304.1 112.4h.8M306.6 114.2h.8M311.9 109.6h.8M305.4 111.6h.8M305.9 112.2h.8M305.7 112.8h.8M305.8 114.9h.8M306.2 113.3h.8M305.2 117.4h.8M310.2 109.4h.8M303.8 112.4h.8M302.3 115.6h.8M305.6 113.7h.8M305.7 119.6h.8M303 117.2h.8M308.1 115.2h.8M310.3 102.8h.8M306.1 112h.8M306.8 111.9h.8M309.8 99.3h.8M305.5 110.8h.8M307.1 109.1h.8M306.2 107.6h.8M312.2 102.3h.8M305.8 119.6h.8M304 112h.8M307.2 108.7h.8M307.7 107.4h.8M309.7 107.4h.8M308.7 109.8h.8M306 112.4h.8M310.1 110h.8M312.1 115.3h.8M308.2 102.7h.8M309.5 106.4h.8M306.2 109.4h.8M308.9 103.2h.8M305.7 110.8h.8M314.3 104.1h.8M304 116.4h.8M307.3 109.2h.8M304.4 111.6h.8M305.5 109h.8M314.8 110.1h.8M310.8 114.3h.8M306.8 108.9h.8M304.7 111.7h.8M309.5 111.4h.8M308.8 106.9h.8M305.1 116.3h.8M311.5 104.3h.8M302.6 109.3h.8M308 113.6h.8M308.9 116.7h.8M304.5 112.7h.8M306.3 113.6h.8M308.2 106.3h.8M304 118.8h.8M312.2 110.6h.8M308.9 117.6h.8M310 108.8h.8M304.1 113.6h.8M307.9 116.3h.8M310.5 111.4h.8M311.2 103.4h.8M312 113.4h.8M304 116.4h.8M306 112.4h.8M305.9 109.7h.8M306.7 104.8h.8M302.1 113h.8M306.3 117.9h.8M308.4 108.3h.8M310.7 108.2h.8M306.4 113.6h.8M313 111.7h.8M307.6 113.5h.8M311.5 110.1h.8M310.9 110.5h.8M304.9 115.5h.8M303.8 119.5h.8M312.7 101.4h.8M308.4 111.1h.8M304.8 109.2h.8M305.9 114h.8M305.9 109.6h.8M305.7 110.9h.8M303.5 116.2h.8M308 115.5h.8M311.5 106h.8M305.9 111.5h.8M303.4 117.4h.8M313.3 105.7h.8M307.5 110h.8M308.5 114.3h.8M308.4 114.4h.8M303.8 118.6h.8M310.6 118.5h.8M308.7 125.1h.8M303.3 112.5h.8M307 113.4h.8M307.6 115.9h.8M295.4 112.7h.8M308.5 108.4h.8M314 102.9h.8M305.8 130.2h.8M306.7 119.4h.8M319.7 101h.8M302 120.4h.8M304.1 126h.8M302.8 106.7h.8M312.7 112.6h.8M305.6 105.9h.8M298 115h.8M303.4 122.9h.8M313.2 116.4h.8M305.5 110.5h.8M309.3 127.1h.8M306.7 112h.8M297.3 117.3h.8M303.4 106.3h.8M311.5 110.9h.8M296.5 111.5h.8M315 114.1h.8M296.8 115.5h.8M310.8 106.2h.8M310.5 120.7h.8M307.6 116.3h.8M300.9 114h.8M302.5 109.4h.8M297.3 123.9h.8M316.2 107.7h.8M319 101h.8M313.2 102.9h.8M307.2 117.4h.8M306.8 121.6h.8M306 117h.8M302.6 118.7h.8M308.5 106h.8M305.4 118.6h.8M308.3 106.7h.8M294.1 117.1h.8M307.1 125.2h.8M308.4 115.1h.8M311.5 106.7h.8M305.3 108.6h.8M303.9 125.9h.8M308.9 115.4h.8M301.8 120.1h.8M308.9 97.3h.8M313.4 116h.8M306.1 115.1h.8M302.9 129.8h.8M311.4 119.6h.8M304 112.9h.8M306.5 109.6h.8M312.5 120.8h.8M310.2 106.8h.8M313.3 109.9h.8M308.5 109.4h.8M308.6 113.8h.8M310.1 110.3h.8M304 116.8h.8M302.8 107.5h.8M310.1 115.3h.8M305.4 111.3h.8M303.7 112.1h.8M307.7 105.6h.8M294.3 121.4h.8M308.4 111.7h.8M297.9 113h.8M301.4 112.1h.8M304 117.7h.8M305.2 119.3h.8M301.3 117.1h.8M313 118.6h.8M316.6 105h.8M303.8 118.3h.8M313.6 109.1h.8M300.4 124.2h.8M307.6 120.2h.8M305.7 107.5h.8M312.3 97.9h.8M313.9 96.2h.8M315.7 118.8h.8M302 115.6h.8M311.2 103.1h.8M301.5 106.7h.8M317.5 103.6h.8M311.1 112.7h.8M302.1 115.4h.8M302.7 124.9h.8M314.9 107.1h.8M313.1 108.8h.8M296.4 116.1h.8M309.4 109.3h.8M308.3 105.8h.8M305.5 120.4h.8M296 112.8h.8M299.7 115.1h.8M299.6 119.4h.8M321.6 112.9h.8M310.2 100.4h.8M309.9 105.3h.8M304.2 108.7h.8M297.5 109.4h.8M308.6 99.1h.8M305.3 107.7h.8M301.2 108.4h.8M309.6 118.2h.8M298.5 104.2h.8M302.6 104.1h.8M309.9 112.6h.8M302.4 116.8h.8M307.5 116h.8M316.4 110.6h.8M317.6 116.2h.8M312.1 124.3h.8M309.3 117h.8M306.3 114.3h.8M305.1 120.5h.8M314.1 99.8h.8M306.2 113.4h.8M307.7 107.9h.8M307.4 113.8h.8M315.6 106.8h.8M299.4 118.8h.8M310.7 115.3h.8M308.6 106.1h.8M312.8 98.3h.8M318.4 107.4h.8M312.8 102.9h.8M300.5 105.4h.8M297 123.8h.8M314.2 111.1h.8M311.2 116.6h.8M316 113.2h.8M296.6 121.9h.8M297.7 117.1h.8M307.3 99.6h.8M301.4 117.9h.8M307 106h.8M311.6 109.7h.8M292.1 111.5h.8M296.8 116.3h.8M308.3 100.3h.8M304.5 121.5h.8M301.7 110.5h.8M314.7 108.2h.8M303.4 109.4h.8M292.8 113.9h.8M309.6 111.6h.8M303.2 119.6h.8M311.9 88h.8M303.5 126.4h.8M302.3 114.9h.8M307.8 108.7h.8M312.3 107.8h.8M310.9 105.6h.8M305.7 131.4h.8M305.7 127.5h.8M300.1 107.9h.8M311 115.1h.8M302.9 120.3h.8M298.6 115.7h.8M310.6 120.7h.8M308.5 108.5h.8M306.6 114.1h.8M308.2 111.8h.8M305 127.3h.8M290.1 112.3h.8M302.6 105.3h.8M305.3 114h.8M306.9 118.6h.8M303.9 114.4h.8M301.5 119h.8M302.9 120.4h.8M316 106.8h.8M300.8 106.8h.8M314.6 108.6h.8M302 93.3h.8M304.6 112.3h.8M304.5 103h.8M316.7 121.8h.8M299.6 101.3h.8M313.3 116.6h.8M307.1 119h.8M299.2 108.8h.8M309.8 120.4h.8M307.3 103.6h.8M306.5 103.7h.8M307 111.5h.8M303.5 122.6h.8M290.9 108.8h.8M299.1 116.7h.8M298.4 116.4h.8M291.4 111.6h.8M309.7 107.3h.8M305.8 110.8h.8M305.1 112.1h.8M294.7 116.7h.8M311.7 115.3h.8M315.3 115.8h.8M300.1 121.9h.8M310.4 120.6h.8M309.5 100.3h.8M307.5 107.6h.8M302.2 119.8h.8M310.5 124.4h.8M314.3 112.3h.8M295.1 104.4h.8M309.5 108h.8M298.5 129.8h.8M318.5 110.7h.8M306.7 122.3h.8M306.5 110.5h.8M307.9 116.5h.8M311.6 111h.8M298.1 112.6h.8M317.4 107.6h.8M304.1 117h.8M300.1 103.1h.8M320.3 116.1h.8M303.6 109.5h.8M313.4 99.3h.8M304.8 110.7h.8M297.7 107.3h.8M294.2 118.1h.8M308.9 106.8h.8M299.8 100h.8M311.6 121.1h.8M293.9 113.8h.8M301.9 117.4h.8M312.8 116.7h.8M318.8 108.2h.8M305.7 107.9h.8M296.9 112.7h.8M317.1 107.8h.8M302 110.3h.8M311.1 109.9h.8M300.8 109.1h.8M304.1 110.1h.8M311.8 109.7h.8M305.6 109.1h.8M315.5 104.8h.8M314.9 106.7h.8M310.5 109.7h.8M293.2 115.8h.8M306.1 121.2h.8M310.3 107.5h.8M315.9 117.4h.8M295.7 111.3h.8M299.2 122.9h.8M312.4 110.3h.8M309.6 116.8h.8M302.3 111.6h.8M308.8 117.8h.8M303.8 103.8h.8M303.4 120.3h.8M307.6 95.6h.8M304 122.8h.8M304.8 108.1h.8M308.6 114.6h.8M300 125h.8M313 111.5h.8M309.9 105.1h.8M308.1 126.5h.8M305.6 106.3h.8M315.1 108.9h.8M293.6 108h.8M300.7 114.4h.8M302.9 118.7h.8M304.5 121.6h.8M306.7 97.2h.8M307.1 104.7h.8M307.4 109.2h.8M307 102.6h.8M304.8 106.2h.8M306.9 111.6h.8M301.9 101.7h.8M308.7 126h.8M316.2 115h.8M303.7 120.8h.8M317.4 113.7h.8M303.7 112.4h.8M308.2 108.1h.8M307.5 120.3h.8M294.4 123.5h.8M308.4 102.6h.8M307 116.4h.8M312.8 106.9h.8M300 118.3h.8M309.2 105.8h.8M308.5 119.8h.8M321.3 111.1h.8M298.9 118.7h.8M305.6 118.8h.8M310.3 119.4h.8M301.8 134h.8M302.6 116.9h.8M309.2 109.9h.8M310.4 124h.8M305.7 108h.8M301.3 108.9h.8M300.4 120.8h.8M308 111h.8M296.4 114.8h.8M308.6 128.8h.8M303.4 108.6h.8M313.1 106.6h.8M301.6 114.4h.8M311.8 106.3h.8M313.7 103.1h.8M301.1 115.6h.8M305.1 118.6h.8M310.2 113.1h.8M302.4 107.4h.8M300.7 112.1h.8M301.1 106.5h.8M299.8 114.9h.8M302.8 116.7h.8M310.1 102.3h.8M299.7 122.1h.8M311.6 109.6h.8M317.2 116.8h.8M310.5 105.9h.8M303.5 101.5h.8M301.2 112.1h.8M315.1 116.2h.8M312.7 120.7h.8M310 123.8h.8M296 122.4h.8M309.2 106.2h.8M306.6 112.2h.8M305.9 111.5h.8M301.3 119.1h.8M302 110.1h.8M316.8 114.6h.8M297.8 122.9h.8M305.3 115.1h.8M302.8 110.7h.8M306.1 113.4h.8M313.8 117.8h.8M299.1 108.5h.8M303.8 125.3h.8M301.9 113.9h.8M300 121.6h.8M302.4 112h.8M309.5 117.9h.8M311.7 109.3h.8M298.6 110.8h.8M316.5 111.9h.8M316.6 107.6h.8M309.1 112.3h.8M312.6 116.6h.8M316.3 120.6h.8M307.2 107.1h.8M297.9 109h.8M302.1 117.4h.8M310.4 94.5h.8M309.8 107.2h.8M308.4 116.8h.8M304.2 129.1h.8M314.4 100.9h.8M306.8 114h.8M306 107.4h.8M309.2 113.7h.8M307 116.6h.8M311 112.8h.8M300.1 118.5h.8M310.9 119.2h.8M298.6 107.2h.8M311.8 126.9h.8M300.7 107.5h.8M303.8 119.7h.8M319.4 107.8h.8M303.4 114.9h.8M307.8 97.7h.8M313.3 103.5h.8M313.1 115.9h.8M303.6 107.8h.8M301 123.5h.8M315 113.3h.8M304.1 134.3h.8M316.1 113h.8M310 108.4h.8M309.7 111.3h.8M303.5 117.1h.8M304.3 111.2h.8M293.8 119.3h.8M310.6 111.2h.8M300.6 109.4h.8M307.1 106.4h.8M307.1 131.3h.8M312.6 129.2h.8M305.8 108.4h.8M294.5 127.2h.8M318.3 106.8h.8M298.3 107h.8M303.4 115h.8M307.1 109.8h.8M299 106.6h.8M311.4 121.3h.8M306 125.4h.8M317.5 99.3h.8M307.8 125.8h.8M301.6 126.6h.8M311.2 119.2h.8M311.2 105.7h.8M317.4 103.7h.8M299.5 113.9h.8M312.6 95.5h.8M307 110.1h.8M296.3 112.2h.8M305.1 113.9h.8M306.9 105.2h.8M295.3 120.9h.8M307.4 114.1h.8M306.7 107.3h.8M308.8 109.9h.8M311.7 101.7h.8M309.6 113.7h.8M305.6 102.6h.8M303.2 115.7h.8M305.6 131h.8M310 106h.8M324.3 93.8h.8M321.2 103.7h.8M302 103.4h.8M313.6 104h.8M302.4 121.4h.8M313.9 110.7h.8M304.1 110.6h.8M304.9 106h.8M309.9 115.7h.8M303.2 123.9h.8M294.7 124h.8M301.5 121.3h.8M308.4 108.2h.8M309.8 107.3h.8M308 115.9h.8M306.1 115.2h.8M306.8 104.7h.8M304.5 102.5h.8M296.5 110.1h.8M312.6 120.9h.8M314 114.1h.8M295.9 120.5h.8M312.1 112.2h.8M300.4 103.2h.8M307.6 109.6h.8M309.1 113.6h.8M296.5 110.6h.8M295.1 116.6h.8M301 121.7h.8M307 102.5h.8M297.7 115.3h.8M300.6 125.1h.8M303.3 115.8h.8M305.4 121h.8M304.9 122.8h.8M308 119.7h.8M305.4 120.4h.8M307.3 110h.8M312.7 102.6h.8M306.7 121h.8M300.6 117.4h.8M307.2 113.6h.8M303.1 97.1h.8M311.1 117.9h.8M307.3 115.1h.8M305.1 99.6h.8M310.4 115h.8M295.1 112.6h.8M303.8 120.5h.8M316.4 116.8h.8M302.8 100.1h.8M314.5 108.6h.8M311 101.8h.8M305 117.4h.8M314.7 104.4h.8M316.1 103.8h.8M298.9 114.5h.8M304.8 96.7h.8M303.4 114.7h.8M300.1 117.9h.8M318.5 119.4h.8M303.3 112.3h.8M311.5 114.8h.8M301.3 117.7h.8M303.8 126.9h.8M316.3 112.5h.8M313.3 127h.8M307.8 106.6h.8M303.3 115h.8M306 123.4h.8M300.4 115.4h.8M308.6 110h.8M303 116.5h.8M311.5 120.1h.8M305.9 104.5h.8M313.2 117.1h.8M314.4 119.8h.8M311.2 111.9h.8M303.4 129.5h.8M310.4 112.4h.8M310.6 111.3h.8M309.1 119h.8M301 110h.8M303.5 120.5h.8M295.9 105.1h.8M304.5 130h.8M320.9 120.8h.8M299.6 122.9h.8M307 118.7h.8M319.4 107.9h.8M309.1 123.3h.8M303.6 122.3h.8M310 113.7h.8M310.4 122.2h.8M305.9 113.6h.8M299.8 112.2h.8M310.4 109.2h.8M317.4 115h.8M301.7 118.3h.8M310.7 115.4h.8M310.4 116.9h.8M298.7 105.5h.8M293.3 112.5h.8M303.1 114h.8M309.1 109.6h.8M312.5 117h.8M301.9 105.9h.8M305.5 118.7h.8M311.1 101.1h.8M307 115.1h.8M308.4 107.7h.8M305 110.1h.8M300.2 114.8h.8M305.6 107.3h.8M310.2 110.5h.8M295.6 99.5h.8M296.5 116.5h.8M309.8 116.4h.8M323 100.1h.8M312.9 105h.8M307.6 117.2h.8M303.5 130.4h.8M309.4 114.8h.8M297 117.3h.8M303.8 117.5h.8M305.6 109.9h.8M310.9 112.6h.8M301.7 120.8h.8M298 122.3h.8M305.6 105.2h.8M315.3 101.9h.8M309.8 107.4h.8M314.9 110.2h.8M303.8 111.1h.8M314.3 122h.8M303.2 113.2h.8M295 113.5h.8M306.2 117.4h.8M300.6 114.5h.8M310 111.6h.8M306.3 117h.8M307.3 122.1h.8M301 119h.8M304.5 111.2h.8M313.2 126.5h.8M302.4 98.3h.8M300 109h.8M300.5 107.6h.8M311 110.7h.8M318.4 104.8h.8M309.5 118.8h.8M304 116h.8M295.3 111.9h.8M297.7 103.7h.8M308.1 116.2h.8M298.4 108.3h.8M307.5 119.4h.8M318.3 110h.8M302.3 126.7h.8M308.5 118.5h.8M299.6 124.3h.8M305.3 106.7h.8M299.9 113.1h.8M303.1 102.1h.8M301.3 118.5h.8M316.1 120.9h.8M302.8 109.1h.8M310 110.2h.8M302.4 127.6h.8M303.3 120h.8M295.1 125.1h.8M295.6 132.8h.8M310.5 136.4h.8M303.2 130.3h.8M297.7 119.1h.8M303.7 117.9h.8M302.5 127h.8M304.7 128.3h.8M301.5 124h.8M292.6 125.7h.8M304.4 135.1h.8M307.7 121.2h.8M296.4 132.8h.8M298.8 145.5h.8M302.5 117.6h.8M298.3 138.7h.8M292.1 129h.8M294.2 138.9h.8M298.8 121h.8M292.7 123.1h.8M288.5 124.8h.8M311.7 128.7h.8M299.7 120.1h.8M302.7 124.8h.8M296.9 137.4h.8M303.1 121.9h.8M308.2 127.6h.8M303.5 129h.8M306.8 132.2h.8M299.3 132.9h.8M299.1 128.9h.8M309 120.8h.8M295.9 125.3h.8M298.6 136.9h.8M293.2 143.6h.8M308.7 124.9h.8M301.9 125.5h.8M304.3 132.5h.8M304.7 133.2h.8M310.4 126.8h.8M304.4 126.7h.8M301.2 129.5h.8M300.7 130.4h.8M296.8 127h.8M298 120h.8M297.5 124.6h.8M300.3 117.3h.8M299.7 120.3h.8M297 129.3h.8M306.4 130h.8M298.6 125h.8M307.6 116.9h.8M306.6 117.8h.8M297.9 128.3h.8M299.9 139.4h.8M303.4 127.7h.8M305.7 128.3h.8M297.1 135.7h.8M308.3 136.7h.8M295.3 141h.8M299 133.2h.8M306.8 144.2h.8M293.1 121h.8M306.8 131.4h.8M299.5 108h.8M303.2 126.7h.8M288.2 146.3h.8M288.8 124.2h.8M301 129.6h.8M304.7 126.2h.8M296.6 125.5h.8M290.7 120.4h.8M310.7 123.3h.8M300.6 141h.8M306.2 128.8h.8M304.6 126.2h.8M296.6 134.8h.8M301.7 139h.8M299.7 125.4h.8M302.7 126.7h.8M299.5 121.9h.8M302.2 130.2h.8M310 127.8h.8M292.4 131.2h.8M312.2 125h.8M297.1 126.9h.8M287 125.7h.8M300.1 117.7h.8M303.8 122h.8M291.9 123.1h.8M304.1 141.2h.8M307.1 129.3h.8M298.5 126.2h.8M305.7 124.5h.8M303 134.6h.8M296.6 124h.8M303.2 128.1h.8M300.4 124.4h.8M300.7 140.7h.8M307.7 117h.8M301.2 128.6h.8M301.2 118.5h.8M300.4 129h.8M297.7 130.1h.8M289 117.7h.8M301.5 130.7h.8M300.2 124.9h.8M301.9 135.4h.8M338.8 114.8h.8M330.8 124.3h.8M336.7 122.8h.8M331.9 108.3h.8M334.6 110.3h.8M340.3 122.6h.8M320.7 121h.8M341.3 124.1h.8M330.7 108.3h.8M339.2 123.9h.8M333.9 105.9h.8M324.5 117.7h.8M328.6 109.8h.8M336.1 124.2h.8M321.3 109.9h.8M341.2 115.1h.8M331.5 120.8h.8M326.8 105.3h.8M333.6 128.5h.8M339.5 115.5h.8M339.5 112.1h.8M326.6 101.6h.8M335.1 123h.8M335.7 115.2h.8M331.1 124.6h.8M333.2 103.5h.8M341.6 110.1h.8M335.8 115.5h.8M339.7 117.6h.8M340.7 117.3h.8M330.8 111.3h.8M337.3 108.6h.8M339 113.5h.8M328 108.2h.8M332.6 130.2h.8M338 115.7h.8M328.2 131.4h.8M331.9 115.5h.8M331 126.6h.8M334.5 111.7h.8M334.6 107.2h.8M327.3 114.2h.8M316.5 125.3h.8M345.2 106.2h.8M332.7 102.4h.8M334.5 117.3h.8M337.9 104.4h.8M330 110.1h.8M332.1 134.5h.8M332.3 115.2h.8M330.5 122.1h.8M348.6 125.2h.8M342.5 106.6h.8M339.7 115.7h.8M340.9 124.3h.8M337.4 101.5h.8M334.3 111.3h.8M336.1 115.8h.8M339.7 102.1h.8M329.1 114.9h.8M335.4 112.1h.8M333.3 116h.8M339.7 114.6h.8M334.9 100.3h.8M318.1 103.3h.8M335.6 96.3h.8M335.9 114.7h.8M333.5 109.4h.8M331 122.4h.8M335.6 115.3h.8M330.6 117.3h.8M340.5 115.3h.8M331.3 105.7h.8M334.1 107.8h.8M325 122.8h.8M329.8 98.5h.8M329.3 130.9h.8M332.9 104.4h.8M327 121.5h.8M335.9 117.3h.8M332.3 119.5h.8M342.6 119.6h.8M332.5 103.8h.8M336.1 128.6h.8M337.3 105h.8M334.6 126.4h.8M329.8 119.6h.8M340.6 129.2h.8M324.1 100.9h.8M335.7 121.4h.8M331.4 115.3h.8M331.1 125.5h.8M320.4 117.6h.8M325.9 109.8h.8M324.4 107.9h.8M333.4 115.7h.8M344.1 113.7h.8M335.5 118.5h.8M335 127.8h.8M334.3 116.8h.8M332.8 115.5h.8M333.2 123.8h.8M333.6 116.1h.8M333.2 121.8h.8M330.7 123.4h.8M330.1 121.3h.8M344.9 117.4h.8M333 105.6h.8M337.9 115.6h.8M338.9 110h.8M336.6 130.6h.8M335.9 112.8h.8M325.8 115.4h.8M337.4 120.5h.8M326.9 106.9h.8M327.7 107h.8M331.9 117.7h.8M344.9 117.1h.8M342.1 101.7h.8M342.6 122.2h.8M336.1 122.4h.8M337.2 131.5h.8M338.3 100.9h.8M323.2 129h.8M333 126.6h.8M331.5 110h.8M331.5 118.1h.8M334.6 110.3h.8M336.7 120.7h.8M328.1 106.2h.8M321.9 112.9h.8M333.6 109.7h.8M329.9 114.4h.8M333.7 120.3h.8M338.4 119.2h.8M340.1 107.4h.8M337.1 118.6h.8M327.3 109.8h.8M336.1 116.1h.8M326.1 110.9h.8M342.5 122.6h.8M334 126.8h.8M328.1 114.1h.8M339.2 112.7h.8M326.9 120.4h.8M343 94.2h.8M334.4 105h.8M331.7 103.6h.8M348.9 109.8h.8M333.8 109.6h.8M327.6 111.7h.8M334.7 130.2h.8M335.2 128.7h.8M327.2 116.1h.8M330.9 102.3h.8M355.6 113.5h.8M334.9 109.2h.8M330.1 106.8h.8M339.6 112.1h.8M332.6 117h.8M326.2 117.5h.8M332.5 119.2h.8M331.2 115.8h.8M336.6 123.6h.8M329.4 123.7h.8M327.7 113.9h.8M334.3 116.7h.8M318.7 107.3h.8M332.4 123.3h.8M329.3 128.2h.8M322.8 116.1h.8M336.7 115.6h.8M335.1 123.3h.8M328.7 120.5h.8M339.8 113.5h.8M319.8 105.5h.8M328.4 106.6h.8M336.1 108.7h.8M348.2 120.3h.8M325.8 113.1h.8M342.6 121.2h.8M327.5 124.2h.8M330.7 134.1h.8M330.2 120.5h.8M336.8 111.8h.8M332.6 125.2h.8M336.5 115h.8M336.1 130.2h.8M339 119.5h.8M335.5 102.4h.8M350.6 63.4h.8M359.8 87h.8M352.6 98.3h.8M359.9 98.9h.8M299.5 66.6h.8M322.3 56.7h.8M290.5 138h.8M329.6 136.8h.8M289.3 99.1h.8M319.6 62.4h.8M300 142.6h.8M343.9 101.9h.8M333 136.6h.8M365.9 110.4h.8M279.7 137.7h.8M290.6 75.5h.8M288 102.2h.8M330.5 97.1h.8M319.7 65.7h.8M343.4 104.7h.8M304.4 133.9h.8M364.5 142.7h.8M368.9 58.6h.8M312 96.1h.8M299.4 125.1h.8M361.2 65.5h.8M323.2 147.1h.8M359.7 96.2h.8M284.9 96.7h.8M324.3 129.2h.8M292.6 79.3h.8M368.8 53h.8M333.2 61.2h.8M346.5 93.5h.8M363.2 73.8h.8M358.6 74.2h.8M279.4 60.3h.8M282.2 90.1h.8M367.6 86.7h.8M343.3 55.2h.8M324.1 104.9h.8M284.2 108.9h.8M317.5 84.1h.8M354.1 119.9h.8M286.4 62.3h.8M279.9 77.7h.8M335.6 147.2h.8M367.3 136.9h.8M286.8 129.8h.8M347.6 98.4h.8M369.9 110.8h.8M286.2 73.1h.8M287.3 111.9h.8M334.4 136.3h.8M275.9 52.8h.8M367.7 77.6h.8M300.1 137.2h.8M285.5 129.9h.8M360.4 107.2h.8M333 52.4h.8M332.8 112.3h.8M348.5 102.7h.8M285.8 73.7h.8M337.2 59.6h.8M285.1 76.5h.8M350.9 105.6h.8M308.9 146.7h.8M330.3 75.3h.8M328.8 136.1h.8M310.1 94.6h.8M330 149h.8M335.8 69.6h.8M330.4 83.4h.8M320.1 122h.8M276.8 101.8h.8M304.9 110.8h.8M353.2 97.8h.8M335 80.2h.8M299.3 102h.8M325.7 73.8h.8M347.9 101h.8M308.8 76.8h.8M354.7 140.7h.8M364.4 76.2h.8M281.7 114h.8M277.3 136.1h.8M339.7 85h.8M317 119.1h.8M290.2 87.8h.8M350 118.9h.8M330.7 62h.8M295.6 77.1h.8M277.9 114.8h.8M329.5 142.8h.8M327.8 142.3h.8M319.6 102.8h.8M301.7 97.5h.8M364.3 99.8h.8M275.1 86.6h.8M293.8 113.2h.8M323.5 98.7h.8M363.3 126.9h.8M283.2 54.8h.8M341.7 110.6h.8M337.1 101.1h.8M278.3 96.3h.8M354.6 111.1h.8M279.1 64.1h.8M361.2 105.5h.8M290.6 121.4h.8M363.1 137h.8M336.5 131.3h.8M283.3 97.5h.8M352.2 85.4h.8M288.6 137.1h.8M342.1 52.5h.8M281 106.7h.8M365.9 112.6h.8M358.5 62.2h.8M329.8 69.7h.8M306.6 66.5h.8M319.1 56.4h.8M337.5 115.5h.8M361.2 127.5h.8M282.1 137.4h.8M326.7 144h.8M321.8 59.8h.8M342.1 68.9h.8M368.8 104.9h.8M361 100.3h.8M306 117h.8M342.6 97.1h.8M301.2 93.2h.8M343.1 74.3h.8M290 99.5h.8M337.7 58.4h.8M300.8 147.5h.8M300.4 127.8h.8M304.1 60.3h.8M321.3 137.4h.8M349 56.5h.8M342 113h.8M320.9 117.3h.8M324.7 69.8h.8M341.3 64.5h.8M304.5 135.7h.8M329.1 102.1h.8M342.6 100.3h.8M311.5 106.2h.8M277 86.4h.8M278.7 149.9h.8M361.5 116.2h.8M290 136h.8M301.9 131.1h.8M337 111.4h.8M345.6 78.1h.8M354.5 105.2h.8M347.1 134.5h.8M299.2 92.3h.8M309.4 59.4h.8M358.4 119.3h.8M321.6 105.5h.8M358.8 58.7h.8M309 119.4h.8M325.9 100.8h.8M299.6 73.8h.8M338.8 85.4h.8M364.3 140.6h.8M367.5 79h.8M324 62.1h.8" stroke="#111" stroke-width="0.8" fill="none" opacity="0.8"/>
<path d="M323.5 45.8V156.3M266.9 96.2H384.3" stroke="#777" stroke-width="0.9" fill="none"/>
<line x1="286.8" x2="286.8" y1="156.3" y2="158.9" stroke="#555" stroke-width="0.7"/>
<text x="287.7" y="167.3" font-size="5.7" text-anchor="middle" style="fill:#1a1a1a;stroke:#1a1a1a;stroke-width:.2px">10<tspan dy="-2.2" font-size="4.1">2</tspan></text>
<line x1="295.7" x2="295.7" y1="156.3" y2="157.70000000000002" stroke="#777" stroke-width="0.45"/>
<line x1="300.9" x2="300.9" y1="156.3" y2="157.70000000000002" stroke="#777" stroke-width="0.45"/>
<line x1="304.6" x2="304.6" y1="156.3" y2="157.70000000000002" stroke="#777" stroke-width="0.45"/>
<line x1="307.5" x2="307.5" y1="156.3" y2="157.70000000000002" stroke="#777" stroke-width="0.45"/>
<line x1="309.8" x2="309.8" y1="156.3" y2="157.70000000000002" stroke="#777" stroke-width="0.45"/>
<line x1="311.8" x2="311.8" y1="156.3" y2="157.70000000000002" stroke="#777" stroke-width="0.45"/>
<line x1="313.5" x2="313.5" y1="156.3" y2="157.70000000000002" stroke="#777" stroke-width="0.45"/>
<line x1="315" x2="315" y1="156.3" y2="157.70000000000002" stroke="#777" stroke-width="0.45"/>
<line x1="316.4" x2="316.4" y1="156.3" y2="158.9" stroke="#555" stroke-width="0.7"/>
<text x="317.3" y="167.3" font-size="5.7" text-anchor="middle" style="fill:#1a1a1a;stroke:#1a1a1a;stroke-width:.2px">10<tspan dy="-2.2" font-size="4.1">3</tspan></text>
<line x1="325.3" x2="325.3" y1="156.3" y2="157.70000000000002" stroke="#777" stroke-width="0.45"/>
<line x1="330.5" x2="330.5" y1="156.3" y2="157.70000000000002" stroke="#777" stroke-width="0.45"/>
<line x1="334.2" x2="334.2" y1="156.3" y2="157.70000000000002" stroke="#777" stroke-width="0.45"/>
<line x1="337.1" x2="337.1" y1="156.3" y2="157.70000000000002" stroke="#777" stroke-width="0.45"/>
<line x1="339.4" x2="339.4" y1="156.3" y2="157.70000000000002" stroke="#777" stroke-width="0.45"/>
<line x1="341.4" x2="341.4" y1="156.3" y2="157.70000000000002" stroke="#777" stroke-width="0.45"/>
<line x1="343.1" x2="343.1" y1="156.3" y2="157.70000000000002" stroke="#777" stroke-width="0.45"/>
<line x1="344.6" x2="344.6" y1="156.3" y2="157.70000000000002" stroke="#777" stroke-width="0.45"/>
<line x1="346" x2="346" y1="156.3" y2="158.9" stroke="#555" stroke-width="0.7"/>
<text x="346.9" y="167.3" font-size="5.7" text-anchor="middle" style="fill:#1a1a1a;stroke:#1a1a1a;stroke-width:.2px">10<tspan dy="-2.2" font-size="4.1">4</tspan></text>
<line x1="354.9" x2="354.9" y1="156.3" y2="157.70000000000002" stroke="#777" stroke-width="0.45"/>
<line x1="360.1" x2="360.1" y1="156.3" y2="157.70000000000002" stroke="#777" stroke-width="0.45"/>
<line x1="363.8" x2="363.8" y1="156.3" y2="157.70000000000002" stroke="#777" stroke-width="0.45"/>
<line x1="366.7" x2="366.7" y1="156.3" y2="157.70000000000002" stroke="#777" stroke-width="0.45"/>
<line x1="369" x2="369" y1="156.3" y2="157.70000000000002" stroke="#777" stroke-width="0.45"/>
<line x1="371" x2="371" y1="156.3" y2="157.70000000000002" stroke="#777" stroke-width="0.45"/>
<line x1="372.7" x2="372.7" y1="156.3" y2="157.70000000000002" stroke="#777" stroke-width="0.45"/>
<line x1="374.2" x2="374.2" y1="156.3" y2="157.70000000000002" stroke="#777" stroke-width="0.45"/>
<line x1="375.6" x2="375.6" y1="156.3" y2="158.9" stroke="#555" stroke-width="0.7"/>
<text x="376.5" y="167.3" font-size="5.7" text-anchor="middle" style="fill:#1a1a1a;stroke:#1a1a1a;stroke-width:.2px">10<tspan dy="-2.2" font-size="4.1">5</tspan></text>
<line x1="271.3" x2="271.3" y1="156.3" y2="157.70000000000002" stroke="#777" stroke-width="0.45"/>
<line x1="275" x2="275" y1="156.3" y2="157.70000000000002" stroke="#777" stroke-width="0.45"/>
<line x1="277.9" x2="277.9" y1="156.3" y2="157.70000000000002" stroke="#777" stroke-width="0.45"/>
<line x1="280.2" x2="280.2" y1="156.3" y2="157.70000000000002" stroke="#777" stroke-width="0.45"/>
<line x1="282.2" x2="282.2" y1="156.3" y2="157.70000000000002" stroke="#777" stroke-width="0.45"/>
<line x1="283.9" x2="283.9" y1="156.3" y2="157.70000000000002" stroke="#777" stroke-width="0.45"/>
<line x1="285.4" x2="285.4" y1="156.3" y2="157.70000000000002" stroke="#777" stroke-width="0.45"/>
<line x1="266.9" x2="264.5" y1="53.2" y2="53.2" stroke="#555" stroke-width="0.7"/>
<text x="262.3" y="55.3" font-size="5.7" text-anchor="end" style="fill:#1a1a1a;stroke:#1a1a1a;stroke-width:.2px">10<tspan dy="-2.2" font-size="4.1">5</tspan></text>
<line x1="266.9" x2="265.59999999999997" y1="72.7" y2="72.7" stroke="#777" stroke-width="0.45"/>
<line x1="266.9" x2="265.59999999999997" y1="67.8" y2="67.8" stroke="#777" stroke-width="0.45"/>
<line x1="266.9" x2="265.59999999999997" y1="64.3" y2="64.3" stroke="#777" stroke-width="0.45"/>
<line x1="266.9" x2="265.59999999999997" y1="61.6" y2="61.6" stroke="#777" stroke-width="0.45"/>
<line x1="266.9" x2="265.59999999999997" y1="59.4" y2="59.4" stroke="#777" stroke-width="0.45"/>
<line x1="266.9" x2="265.59999999999997" y1="57.5" y2="57.5" stroke="#777" stroke-width="0.45"/>
<line x1="266.9" x2="265.59999999999997" y1="55.9" y2="55.9" stroke="#777" stroke-width="0.45"/>
<line x1="266.9" x2="265.59999999999997" y1="54.5" y2="54.5" stroke="#777" stroke-width="0.45"/>
<line x1="266.9" x2="264.5" y1="81.2" y2="81.2" stroke="#555" stroke-width="0.7"/>
<text x="262.3" y="83.2" font-size="5.7" text-anchor="end" style="fill:#1a1a1a;stroke:#1a1a1a;stroke-width:.2px">10<tspan dy="-2.2" font-size="4.1">4</tspan></text>
<line x1="266.9" x2="265.59999999999997" y1="100.7" y2="100.7" stroke="#777" stroke-width="0.45"/>
<line x1="266.9" x2="265.59999999999997" y1="95.8" y2="95.8" stroke="#777" stroke-width="0.45"/>
<line x1="266.9" x2="265.59999999999997" y1="92.3" y2="92.3" stroke="#777" stroke-width="0.45"/>
<line x1="266.9" x2="265.59999999999997" y1="89.6" y2="89.6" stroke="#777" stroke-width="0.45"/>
<line x1="266.9" x2="265.59999999999997" y1="87.4" y2="87.4" stroke="#777" stroke-width="0.45"/>
<line x1="266.9" x2="265.59999999999997" y1="85.5" y2="85.5" stroke="#777" stroke-width="0.45"/>
<line x1="266.9" x2="265.59999999999997" y1="83.9" y2="83.9" stroke="#777" stroke-width="0.45"/>
<line x1="266.9" x2="265.59999999999997" y1="82.4" y2="82.4" stroke="#777" stroke-width="0.45"/>
<line x1="266.9" x2="264.5" y1="109.1" y2="109.1" stroke="#555" stroke-width="0.7"/>
<text x="262.3" y="111.2" font-size="5.7" text-anchor="end" style="fill:#1a1a1a;stroke:#1a1a1a;stroke-width:.2px">10<tspan dy="-2.2" font-size="4.1">3</tspan></text>
<line x1="266.9" x2="265.59999999999997" y1="128.6" y2="128.6" stroke="#777" stroke-width="0.45"/>
<line x1="266.9" x2="265.59999999999997" y1="123.7" y2="123.7" stroke="#777" stroke-width="0.45"/>
<line x1="266.9" x2="265.59999999999997" y1="120.2" y2="120.2" stroke="#777" stroke-width="0.45"/>
<line x1="266.9" x2="265.59999999999997" y1="117.5" y2="117.5" stroke="#777" stroke-width="0.45"/>
<line x1="266.9" x2="265.59999999999997" y1="115.3" y2="115.3" stroke="#777" stroke-width="0.45"/>
<line x1="266.9" x2="265.59999999999997" y1="113.4" y2="113.4" stroke="#777" stroke-width="0.45"/>
<line x1="266.9" x2="265.59999999999997" y1="111.8" y2="111.8" stroke="#777" stroke-width="0.45"/>
<line x1="266.9" x2="265.59999999999997" y1="110.4" y2="110.4" stroke="#777" stroke-width="0.45"/>
<line x1="266.9" x2="264.5" y1="137.1" y2="137.1" stroke="#555" stroke-width="0.7"/>
<text x="262.3" y="139.2" font-size="5.7" text-anchor="end" style="fill:#1a1a1a;stroke:#1a1a1a;stroke-width:.2px">10<tspan dy="-2.2" font-size="4.1">2</tspan></text>
<line x1="266.9" x2="265.59999999999997" y1="151.7" y2="151.7" stroke="#777" stroke-width="0.45"/>
<line x1="266.9" x2="265.59999999999997" y1="148.2" y2="148.2" stroke="#777" stroke-width="0.45"/>
<line x1="266.9" x2="265.59999999999997" y1="145.5" y2="145.5" stroke="#777" stroke-width="0.45"/>
<line x1="266.9" x2="265.59999999999997" y1="143.3" y2="143.3" stroke="#777" stroke-width="0.45"/>
<line x1="266.9" x2="265.59999999999997" y1="141.4" y2="141.4" stroke="#777" stroke-width="0.45"/>
<line x1="266.9" x2="265.59999999999997" y1="139.8" y2="139.8" stroke="#777" stroke-width="0.45"/>
<line x1="266.9" x2="265.59999999999997" y1="138.3" y2="138.3" stroke="#777" stroke-width="0.45"/>
<text x="268.9" y="58.0" font-size="12.4" style="stroke-width:.15px">58.4</text>
<text x="380.9" y="58.0" font-size="12.4" text-anchor="end" style="stroke-width:.15px">8.88</text>
<text x="268.9" y="154.8" font-size="12.4" style="stroke-width:.15px">28.8</text>
<text x="380.9" y="154.8" font-size="12.4" text-anchor="end" style="stroke-width:.15px">3.89</text>
<rect x="401.7" y="45.8" width="114.6" height="110.5" fill="#fff" stroke="#858585" stroke-width="1.1"/>
<path d="M439.5 69.3h.8M421.4 67.8h.8M442.2 65.1h.8M438.3 76h.8M456.1 70.7h.8M443.4 67.3h.8M452.5 67h.8M435 70.5h.8M434 65.5h.8M453.1 63.2h.8M441 68.7h.8M443.7 63.5h.8M439.8 67.2h.8M456.6 71.9h.8M435.5 71.1h.8M446.7 68h.8M439.6 67.4h.8M429.4 66h.8M448.8 73.2h.8M456.2 67.3h.8M446.6 60.4h.8M439.5 64.1h.8M448.1 62.9h.8M433.4 64.5h.8M444.6 71.1h.8M434.2 74.1h.8M442.9 65.6h.8M444.3 68.3h.8M448.1 69.6h.8M458.7 72.5h.8M436.4 70.8h.8M447.6 65.1h.8M435.7 65.5h.8M422 70h.8M439.8 72.4h.8M437.1 68.5h.8M447.2 71.6h.8M444.1 64.9h.8M458.9 71.5h.8M452.2 73.9h.8M452.6 69.9h.8M445.2 70.5h.8M429.6 70.8h.8M433.8 69.5h.8M433.5 70.5h.8M437.5 76.5h.8M443 70h.8M434.4 67.2h.8M441.1 67.3h.8M438.2 65.3h.8M447.6 67.2h.8M435.1 69.4h.8M435.2 67.6h.8M437.6 65.2h.8M439.8 65.5h.8M431.6 69.3h.8M439.3 63.4h.8M438.4 68.9h.8M444.9 69.6h.8M443.5 70.3h.8M437.7 65.6h.8M446.4 67h.8M441.6 70.5h.8M448.9 72.5h.8M436.2 67h.8M446 63.7h.8M431.6 70.1h.8M436.8 65.2h.8M447.9 70.2h.8M448.8 67.4h.8M439.3 67.1h.8M444 61.6h.8M436.1 70.5h.8M435.4 68h.8M442.5 70h.8M437.9 64.5h.8M461.3 66.3h.8M455.1 62.8h.8M442.5 67.7h.8M456.4 75.3h.8M449.3 65.1h.8M435.3 65.7h.8M437.5 69.1h.8M435.4 67.4h.8M453.1 73.3h.8M427 64.9h.8M438.6 72.5h.8M438.8 74.6h.8M444.3 73.1h.8M434.8 67.1h.8M449.6 70.4h.8M426.9 67.1h.8M442.9 70.4h.8M436.5 74h.8M442.7 73.1h.8M444.7 68.6h.8M439.1 64.4h.8M448.3 70.9h.8M448.9 67.2h.8M433.7 66.9h.8M439.1 68.2h.8M449.4 65.5h.8M437.7 70.5h.8M448.5 75.8h.8M445.8 65.6h.8M433.5 65.5h.8M442.1 69.2h.8M441.1 66.3h.8M440.1 68h.8M446.2 68.7h.8M435.3 64.3h.8M453.2 68.3h.8M440.2 68.2h.8M450.5 67.5h.8M443 67.6h.8M446.2 65.1h.8M443.1 71.7h.8M450.9 70.5h.8M443.8 73.5h.8M447.1 73h.8M432.2 64.5h.8M447.9 67.6h.8M438.3 65.1h.8M453.3 64.6h.8M442.5 63.7h.8M440.1 75.7h.8M460.7 67.1h.8M433.6 73.5h.8M435 62.3h.8M444.4 64.8h.8M430.2 71.8h.8M435.9 64.7h.8M442.9 67.7h.8M450.4 68.8h.8M454 72.3h.8M455.5 72.3h.8M442.1 70.1h.8M441.9 63.2h.8M432.3 70.6h.8M423.1 65.2h.8M431.6 67.9h.8M433.5 69h.8M440.1 66.7h.8M435.1 60.9h.8M442.3 64.1h.8M439.3 69.5h.8M449.8 70.8h.8M453.3 63.9h.8M446.8 73.6h.8M444.8 64.7h.8M444.8 66.7h.8M436.5 71.7h.8M440.3 64.6h.8M436.2 74.7h.8M435 70.4h.8M442.9 72.2h.8M439.5 65.2h.8M436.7 64.8h.8M461.9 69.4h.8M439 72.4h.8M446.8 67.8h.8M446.5 69.3h.8M450.3 73.9h.8M439.2 68.1h.8M440.1 72.3h.8M444.6 70.9h.8M448.7 66.4h.8M442.5 72.9h.8M448.8 71.1h.8M439.5 67.1h.8M435 67.3h.8M441.2 63.6h.8M450.8 66h.8M443.6 70.3h.8M437.4 62.3h.8M449.1 69.8h.8M439.6 72h.8M448.7 65.3h.8M441.1 62.5h.8M439.5 72.9h.8M435 70.9h.8M429.9 67.1h.8M448.9 74.1h.8M445.1 70.9h.8M455.2 60.6h.8M428.2 74.3h.8M460.9 70.7h.8M442.1 69.2h.8M441.9 66.3h.8M441.5 67.9h.8M446.8 70.7h.8M449.2 70.4h.8M434 72.7h.8M420.8 68.3h.8M444.3 66.6h.8M456.3 65h.8M432.6 66.5h.8M444.8 71h.8M442.4 70.5h.8M436.2 66.2h.8M442.7 63.9h.8M443.1 67h.8M447 65.1h.8M437.6 66.4h.8M438.9 65h.8M439.7 63.8h.8M445.8 70.6h.8M441.5 67.7h.8M434.8 65h.8M440 65.3h.8M432.5 68.7h.8M441.5 67h.8M435.3 68h.8M436.3 66.8h.8M443 70.7h.8M447.5 66.4h.8M451.1 64.7h.8M440.2 72.6h.8M460.1 69.1h.8M438.9 67h.8M432.2 67.6h.8M438.4 65.8h.8M451 65.9h.8M454.7 71.3h.8M446.6 66.5h.8M437.8 61.7h.8M443.8 67.5h.8M444.7 66.2h.8M445.5 63.5h.8M424.6 69.5h.8M450.2 58.1h.8M451.6 67.4h.8M440.5 63.2h.8M433.8 70.5h.8M435.9 68.1h.8M440.3 74.8h.8M448.6 64.1h.8M438 64.5h.8M430.9 65.9h.8M450.1 68.6h.8M446.8 68h.8M438.3 68.5h.8M440.9 74.6h.8M455.5 69.8h.8M446.4 61.9h.8M440.5 76.1h.8M435.4 70.9h.8M451.1 67.2h.8M439.9 66.8h.8M447.8 68.5h.8M453.2 72.4h.8M441.4 76.8h.8M439.3 66.3h.8M439.8 65.4h.8M438.4 68h.8M448.6 63.3h.8M430.8 65.6h.8M439.2 69.8h.8M435.4 73.1h.8M437.5 67.5h.8M442 72.2h.8M443.9 68.4h.8M437.4 68.8h.8M444.7 67.2h.8M441.6 62.3h.8M437.4 72.1h.8M452.6 68.3h.8M424.8 74h.8M440.1 76.7h.8M438.4 71.5h.8M436.8 72.7h.8M450.6 65h.8M451.4 77.9h.8M440 64.3h.8M443.8 67h.8M430.1 64.6h.8M443.6 63.3h.8M449.9 70h.8M440.1 72.9h.8M434.4 70.4h.8M431.2 67h.8M446.6 66.6h.8M440.7 70.4h.8M453.2 72.8h.8M445.1 67.5h.8M430.3 73.7h.8M456.2 61.5h.8M448.3 68.3h.8M447 69.5h.8M440.1 68.3h.8M441.2 72.1h.8M439.6 66.5h.8M446.6 70.5h.8M444.9 69.3h.8M452.9 72.2h.8M443.2 67.6h.8M446.8 62.2h.8M437.6 65.9h.8M442.9 67.1h.8M460.5 71.1h.8M444.5 75.8h.8M441.6 67.2h.8M451 71.2h.8M448.6 72.4h.8M438.8 66.1h.8M436 68.5h.8M449.4 65h.8M437.6 63.8h.8M456.9 71.3h.8M443.3 64.3h.8M433.7 66h.8M441.9 64.1h.8M439.7 72.3h.8M441.7 68.6h.8M425.5 67.1h.8M440.5 66h.8M430.9 67.9h.8M433.7 66.3h.8M429.3 67.7h.8M448.6 65.7h.8M444.2 63.3h.8M446 70.2h.8M438.5 71.2h.8M434.8 68.3h.8M454.5 68.5h.8M432.9 71.9h.8M445.7 67.5h.8M427.7 61.8h.8M429.8 73h.8M443.9 65.5h.8M450.3 73.3h.8M435.1 69.8h.8M428.9 69.3h.8M455.6 63.9h.8M442.1 66.2h.8M440.9 68.6h.8M443.7 71.3h.8M445.4 71.8h.8M449.3 72.1h.8M436.4 69.6h.8M438.8 65.5h.8M456.6 69.6h.8M442.1 61.3h.8M439.7 70.8h.8M440 66.5h.8M452.9 67.5h.8M439 67.9h.8M439.7 71.8h.8M445.9 68.2h.8M438.8 67.5h.8M454.6 67.5h.8M446.7 63.2h.8M444 70.6h.8M451.3 69.5h.8M446 69.5h.8M449.6 75.3h.8M443.2 65.6h.8M446.1 68h.8M446.4 71h.8M442.8 66.9h.8M444 64.2h.8M443.7 65.4h.8M445 68.8h.8M440 64.3h.8M442 66.1h.8M440.4 70.6h.8M449 64.2h.8M448.6 73h.8M450.2 69.4h.8M440.8 74.1h.8M439.2 63.2h.8M442.3 69.3h.8M433.7 64.1h.8M456.7 69h.8M447.6 66.5h.8M430 67.5h.8M451.9 66.3h.8M427.9 67.5h.8M439.4 68.3h.8M433.6 67.1h.8M437.4 71.1h.8M442.7 71.2h.8M441.3 61.2h.8M426.6 69.8h.8M448.2 71.3h.8M441.1 62.4h.8M437.8 69.6h.8M452.2 67.4h.8M437.3 65.6h.8M449.3 71.3h.8M427.5 72h.8M434.6 63.3h.8M429.4 65.6h.8M459.2 77.1h.8M432.1 65.9h.8M442.8 69.7h.8M438 63h.8M438.5 66h.8M427.9 68.5h.8M430.5 62.3h.8M453.1 71.7h.8M452.7 68.9h.8M438.4 68h.8M431.1 70.6h.8M443.7 67.3h.8M427.3 67.6h.8M453.9 73.4h.8M448.3 67.3h.8M442.6 70.2h.8M443 71.8h.8M436.6 60.5h.8M423.1 64.9h.8M431 70.3h.8M449.8 68.5h.8M445.7 68.6h.8M443 66.8h.8M438.4 72.2h.8M439.5 68.1h.8M450.7 71.8h.8M438.6 69.1h.8M433.8 68.6h.8M444 68.3h.8M442.8 69.5h.8M422.3 65.2h.8M442.2 66.7h.8M434.2 67.4h.8M453.9 67.8h.8M436.6 66.6h.8M432.4 69.7h.8M434 71.2h.8M448.5 70.3h.8M449.6 68.2h.8M428.1 67.8h.8M446.6 63.3h.8M432.2 71.8h.8M444.9 72.8h.8M446.7 68.6h.8M444.8 71.2h.8M441.4 67.6h.8M444 67.3h.8M460.1 66.1h.8M430.1 63.8h.8M449.7 67.1h.8M442.8 67.6h.8M443.8 63.5h.8M442.3 66.4h.8M449.9 70.5h.8M432 64.9h.8M445.9 72.4h.8M447.5 67.9h.8M450.3 60.6h.8M437.5 65h.8M433.6 70h.8M443.7 69.3h.8M440.5 70.3h.8M447.7 66.5h.8M448.9 65.4h.8M455.2 64.2h.8M439.5 64.7h.8M441.8 72.7h.8M435.7 74.1h.8M452.4 69.8h.8M437 71.2h.8M419.6 65.3h.8M449 68.3h.8M460.8 66.4h.8M431.4 67.4h.8M446 74.1h.8M428 68.6h.8M451.4 66.3h.8M438.2 64.2h.8M447.5 71.2h.8M446.1 69.2h.8M449.3 68.1h.8M447.1 71.1h.8M451.6 70.2h.8M442.2 70.7h.8M429.7 62.2h.8M454.1 69h.8M433.5 66.2h.8M440.4 68.5h.8M435.6 71.5h.8M428.2 77.4h.8M433.1 73.7h.8M446.9 62.8h.8M432.1 68.3h.8M443.7 66.9h.8M441.7 68.8h.8M432.7 68.3h.8M459.3 66.5h.8M433.7 70.4h.8M452 72h.8M436.7 68h.8M443.2 67.6h.8M444.6 72h.8M445.9 68.4h.8M439.9 74.3h.8M431.9 74.8h.8M447.3 68.7h.8M435.7 74.3h.8M451 71.5h.8M458 62.6h.8M442.4 67.3h.8M435.9 68.4h.8M445.8 70.1h.8M440.6 63.9h.8M445.9 70.4h.8M458.1 71.8h.8M441.8 64.5h.8M463 66.5h.8M443.1 70.8h.8M445.5 72.8h.8M433.5 65.8h.8M443.1 64.2h.8M436.7 72.8h.8M443.9 68h.8M437.1 68.4h.8M441.4 64.7h.8M447.9 64.1h.8M451.7 67.4h.8M423.7 62.7h.8M443.9 65.4h.8M455.8 73.2h.8M458.1 71.6h.8M452.3 66.5h.8M451.9 67h.8M441.3 63.7h.8M442 69.7h.8M441.2 64.6h.8M448.7 71.5h.8M440.9 70.9h.8M449.5 65.1h.8M441.5 62h.8M433.4 69.6h.8M434.6 69.5h.8M444.6 61.4h.8M437.7 73.3h.8M441.7 68.7h.8M436.1 62.8h.8M428.8 77.7h.8M440.2 65.3h.8M442.6 61.8h.8M452.6 74.3h.8M435.6 69.3h.8M434.4 71.1h.8M434.9 67.7h.8M452 70.3h.8M439.1 63.1h.8M428.8 72.1h.8M445.7 68.6h.8M451.6 69h.8M435.8 67.8h.8M440.8 68.2h.8M461.4 70.7h.8M443.8 67.5h.8M436.2 64.8h.8M426.6 66.4h.8M429.6 61.8h.8M434.2 61.3h.8M452.5 72.7h.8M433.7 75.1h.8M447 59.9h.8M441.8 64.9h.8M427.7 67.1h.8M450.8 70h.8M430 65.8h.8M435.5 72.1h.8M440.9 65h.8M434.4 61.5h.8M434.8 71.2h.8M426.3 68.7h.8M440.6 71.1h.8M432.4 71.2h.8M453.9 76.3h.8M428.6 67.9h.8M439.9 68.7h.8M433.6 71.1h.8M460.3 73.8h.8M434 66.2h.8M447.4 68.9h.8M435.4 72.4h.8M445.7 71.9h.8M440.1 72.6h.8M437.9 64.4h.8M441.6 63.6h.8M451.6 71h.8M428.1 68.6h.8M448.4 67.2h.8M444.9 66.4h.8M441 68h.8M445.5 65.1h.8M432.5 69.2h.8M437.4 70h.8M437.6 63.8h.8M447.5 69.3h.8M447.5 67.3h.8M438.6 72.5h.8M427.8 74h.8M445.7 68.2h.8M442.2 70.4h.8M435.3 69.1h.8M434 61.9h.8M443.2 68.7h.8M446.7 70.3h.8M447.1 71.1h.8M433 72.3h.8M463.1 66.8h.8M431.4 70.4h.8M448.8 71.9h.8M454 63.8h.8M444.5 69.9h.8M451.6 65.5h.8M441.8 67h.8M440.2 67.8h.8M440.4 62.2h.8M441.2 68.5h.8M438.7 56.1h.8M436 66h.8M434.4 73.6h.8M449 67.8h.8M446.1 79.6h.8M433.7 69.8h.8M436.6 73.3h.8M450.5 68.1h.8M446.5 65.7h.8M428.7 70.9h.8M454.7 67.5h.8M437.4 62.1h.8M458.9 64.6h.8M433.7 67.5h.8M451.3 68.7h.8M441.4 68.4h.8M448.4 68.3h.8M442.8 68.1h.8M432.5 72.7h.8M436 63.7h.8M438 68.3h.8M448.2 63.4h.8M431.3 68.7h.8M444.7 64.6h.8M432.4 68.7h.8M440.5 62.8h.8M434.4 73.2h.8M432.9 71.7h.8M429.1 73.1h.8M454.4 66.4h.8M436 70.3h.8M431.5 70h.8M451.3 69.4h.8M444.1 67.8h.8M449.6 65.7h.8M454.3 68.5h.8M439 62.7h.8M438 69h.8M451.6 63h.8M440.5 65.9h.8M431.9 68.1h.8M435.3 71.2h.8M419.8 70.4h.8M426.3 61.3h.8M445.7 67.2h.8M442.6 65h.8M433.1 65.6h.8M441.1 65.4h.8M438.2 65.3h.8M443.5 64.5h.8M425 59h.8M441.3 68.6h.8M449.3 65.9h.8M432.4 63h.8M447.6 66.3h.8M449.4 68.2h.8M439.4 61.9h.8M436 70.9h.8M436.6 70.5h.8M428.2 71.5h.8M463.8 72.6h.8M444.2 64.1h.8M437.3 66h.8M443.1 61.4h.8M434.5 70.9h.8M442.6 70.9h.8M448.4 64.5h.8M430.7 69.7h.8M441.8 68.6h.8M434.9 71.6h.8M445.4 72.3h.8M438.6 70.6h.8M441.1 65.1h.8M441 62.6h.8M440 68.9h.8M447.2 64.8h.8M430.9 65.6h.8M424.9 65.7h.8M462.5 69.2h.8M435.5 65.9h.8M455.8 64.6h.8M440.6 68h.8M435.7 65.7h.8M428.1 65.2h.8M451.8 73.3h.8M439.2 70.7h.8M445.2 68.7h.8M440.3 72.4h.8M446.1 67.6h.8M439.6 71.4h.8M436.8 65.8h.8M439.3 66.6h.8M451.6 69.7h.8M440.8 66.5h.8M452.8 70h.8M458.2 71.7h.8M439.8 66.4h.8M439.2 68.9h.8M447.8 70.1h.8M454.2 63.4h.8M441.8 63.5h.8M433.3 66.1h.8M436.3 64.9h.8M429.2 71.9h.8M438.9 71.5h.8M432.8 60.2h.8M436.7 71.2h.8M437 69.6h.8M432.8 72.9h.8M444.9 72h.8M439.2 72.6h.8M442.1 66.6h.8M436.4 68.4h.8M434.3 64.1h.8M442.5 70.7h.8M439.1 71.1h.8M454.3 64.2h.8M443.6 65.1h.8M436.3 68.8h.8M422.4 70h.8M448.2 70.3h.8M446.6 74.6h.8M438.5 72h.8M453.1 70.2h.8M427.2 67.5h.8M439.3 62.7h.8M441 70.9h.8M439.4 67.6h.8M453.3 66.4h.8M433.9 68.3h.8M450.4 70.5h.8M442.1 66.6h.8M451.3 71.5h.8M427.6 69.2h.8M422.1 73h.8M446.4 66.3h.8M431.2 67.1h.8M427.4 69.9h.8M437.5 62.2h.8M441.2 72.3h.8M431.3 66.9h.8M456 69.2h.8M437 68.9h.8M447.8 65h.8M440.8 62.7h.8M428.9 62.8h.8M448.2 69.5h.8M447.3 72.6h.8M441.8 69.1h.8M444.7 70h.8M433 67.2h.8M440.3 68.4h.8M435.5 67.7h.8M443.8 69h.8M446.2 71.2h.8M445.9 71.7h.8M448.1 73.2h.8M446.6 66.3h.8M460.1 72.5h.8M451.5 71h.8M442 64.4h.8M445 67.2h.8M438.4 61h.8M454 64.6h.8M432.6 69.7h.8M446.1 65.7h.8M441.4 69.2h.8M442.7 70.1h.8M447.7 67.2h.8M428.3 75.4h.8M438.5 64.9h.8M447.5 70.4h.8M436.4 76.2h.8M422.5 72.3h.8M441.2 69.3h.8M444.1 67.6h.8M444.1 63.9h.8M438.2 74.5h.8M420.7 72.1h.8M423.6 65h.8M448.6 67h.8M437 63.1h.8M440.5 67.7h.8M436.5 62.9h.8M442.7 69.8h.8M450.6 70.2h.8M453.6 72.6h.8M418.7 73.5h.8M440.7 64.7h.8M444.9 71.6h.8M429.1 63.8h.8M447.1 66.5h.8M453.2 69.3h.8M437.2 63.7h.8M446.4 62.5h.8M431.1 63.6h.8M455 74.4h.8M439.7 67h.8M447 72.7h.8M434.9 75.7h.8M439.8 72.1h.8M422.5 67.7h.8M435.8 75h.8M439.9 63.9h.8M457.2 66.3h.8M441.6 64h.8M446.9 69.1h.8M439.2 66.9h.8M437 65.8h.8M430.1 72.2h.8M448.8 63.7h.8M432.1 69.5h.8M459.7 68h.8M439 67.4h.8M443.5 67.7h.8M450.1 71.8h.8M445.8 73.8h.8M439.7 66.4h.8M465.5 62.2h.8M429.1 60h.8M444.4 64.7h.8M450.2 61.3h.8M440.4 66.9h.8M432.7 71.9h.8M438.3 69.8h.8M437.2 68.7h.8M437.9 68.5h.8M440.7 66h.8M445 67.7h.8M433.8 64.6h.8M445 72.9h.8M431 66.7h.8M445 71.9h.8M447.3 64.4h.8M441.7 71.4h.8M443.4 67.6h.8M432 68.7h.8M441 68.4h.8M453.5 72.6h.8M435.1 69h.8M439 68.6h.8M454.5 71.7h.8M441.9 66.1h.8M440.2 69.5h.8M437.4 72h.8M441.7 64.3h.8M458.1 58.7h.8M439.3 67.8h.8M449.4 72.3h.8M453.1 73.9h.8M444 68.7h.8M449.7 68.4h.8M431.4 66.5h.8M446.8 70.5h.8M432.5 72.2h.8M444.1 63.2h.8M445.2 71.8h.8M445.8 67.3h.8M435 72h.8M443.3 68.3h.8M438.4 64.7h.8M426.5 66.8h.8M450.3 71.1h.8M435.9 73.4h.8M439.7 64.8h.8M449.3 73.2h.8M438.5 64.1h.8M441.1 60h.8M441.8 73.5h.8M443.7 65.8h.8M447.2 66.7h.8M451.7 67.3h.8M457.9 67.4h.8M443.1 65.1h.8M431.2 69.3h.8M444.4 65h.8M446 67h.8M437.1 68h.8M444.6 70.8h.8M451.4 69.8h.8M435.7 65.8h.8M444.5 64.3h.8M440.2 67h.8M440.7 68.9h.8M449.7 74.1h.8M448.5 71.9h.8M432.8 71.7h.8M452 63.9h.8M461.8 66.8h.8M422.3 73.9h.8M442.1 65.6h.8M436.8 71.9h.8M443.6 67.1h.8M450.8 65.3h.8M434.7 66.2h.8M435.4 70.5h.8M439.7 64.7h.8M437.9 61.5h.8M442.8 68.7h.8M446.4 67.6h.8M444.8 65.2h.8M441.7 68.8h.8M431.7 70.1h.8M442.6 68.5h.8M437.5 75h.8M441.6 65.7h.8M434.6 70.2h.8M439.9 65.6h.8M435.6 71.4h.8M442.1 71.9h.8M441.4 64.3h.8M448.4 69.5h.8M436.3 67.1h.8M433.6 71h.8M438.1 69.9h.8M443.6 67.5h.8M444.5 67.5h.8M432.1 66.7h.8M432 70.7h.8M446.8 66.4h.8M446.4 69.2h.8M449.4 65.3h.8M441.8 64.9h.8M435.9 72.8h.8M425.5 64.9h.8M445.4 71h.8M435.4 61.3h.8M427.7 69.3h.8M450.3 71.6h.8M435.5 72.8h.8M440 70.4h.8M439.9 73.7h.8M437.5 60.9h.8M439 68.9h.8M443.8 65.9h.8M439.7 64.4h.8M439.6 68.6h.8M443.3 73.9h.8M425.5 69.7h.8M445 64.4h.8M442.1 68.3h.8M433.4 70.6h.8M456.7 70.9h.8M447.6 72h.8M440.4 71.6h.8M435 68.8h.8M447 72.9h.8M439.2 67.3h.8M445.2 68.1h.8M442.5 71h.8M435.3 71.1h.8M444.5 67.5h.8M431.5 66h.8M441.1 71.5h.8M425.7 70.4h.8M443.1 64.5h.8M448.3 69.8h.8M445 65.1h.8M432.6 71.2h.8M452.7 69.8h.8M440 66.7h.8M427.8 71.4h.8M440.7 72.5h.8M435.7 71.7h.8M435.8 70.2h.8M452.5 66.1h.8M448.7 68.4h.8M434 68.8h.8M446.7 66h.8M439.4 66.3h.8M435.4 67.5h.8M448.1 66.8h.8M451.4 67.2h.8M435.9 71.8h.8M452.7 66.3h.8M446.2 64.5h.8M438.3 67h.8M447.2 64.2h.8M437.5 65.9h.8M442.4 64.2h.8M430.7 77.6h.8M443.3 63.3h.8M448.2 64h.8M426.5 73.6h.8M451.5 65.7h.8M432.8 69.7h.8M457.5 70.6h.8M446.8 64.4h.8M427.4 69.3h.8M449.5 68.9h.8M441.4 73h.8M434.8 71.9h.8M448.1 66.3h.8M442.5 68.7h.8M446.2 65.1h.8M439.7 68.6h.8M441.7 68.4h.8M443.5 67.7h.8M437.5 71.7h.8M436.4 67.1h.8M434.6 64.3h.8M445 68.2h.8M440.4 69.8h.8M440.1 70.6h.8M455.7 69.8h.8M439.3 73.8h.8M447.2 62.8h.8M452 69.2h.8M448.3 64.6h.8M434.9 66h.8M445.9 64.6h.8M435.8 71.4h.8M436.4 68.6h.8M434.5 62.5h.8M440.9 67.9h.8M430.2 71.3h.8M447.9 71.4h.8M437.6 64.4h.8M440.8 68.8h.8M440.2 66.3h.8M433.7 65.7h.8M440.9 66.7h.8M454.6 67.6h.8M445.1 66.8h.8M440.1 65h.8M437.8 63.2h.8M425.1 72.4h.8M433.2 69.6h.8M440.5 66.4h.8M447.2 66.6h.8M444.9 67.1h.8M449 71.6h.8M441.9 72h.8M445.3 73.6h.8M440.6 63.1h.8M443.1 69.1h.8M438.7 67.5h.8M439.5 64.1h.8M455 66h.8M433.2 62.9h.8M434.9 68h.8M453 70.5h.8M435.9 64h.8M432.7 67.8h.8M448.3 66.8h.8M453.9 75h.8M442.9 61.1h.8M450 68.1h.8M446.7 71.7h.8M433.6 68.4h.8M442.9 65.8h.8M446.9 68h.8M438.2 74.5h.8M442.7 73.8h.8M440.2 71.7h.8M435.6 68.7h.8M450.1 61.2h.8M445.7 67.5h.8M450 69.1h.8M441 64h.8M464.5 66.3h.8M439 65.8h.8M439.1 69h.8M430.9 71.6h.8M439.4 70.2h.8M425 66.2h.8M439.2 67h.8M436.2 69.2h.8M444.7 65.1h.8M426.1 70.4h.8M438.9 71.8h.8M448.3 68.1h.8M430.3 66.9h.8M435.7 72.3h.8M428.2 71.1h.8M429.5 66.1h.8M430.5 65.7h.8M438 69.5h.8M436.8 70.5h.8M455.1 69.1h.8M432.5 67.5h.8M440.7 67.1h.8M450.4 72.3h.8M457.1 70.3h.8M420.6 67.4h.8M446.7 65.7h.8M436.7 71.2h.8M442.7 64.6h.8M437.1 57.9h.8M441.5 64.2h.8M441.1 64.3h.8M434.2 66.4h.8M463.3 64.8h.8M432.2 66.3h.8M449.7 71.1h.8M446.9 67.3h.8M442.5 65.7h.8M440.1 65.6h.8M430.2 64.8h.8M456.5 69.9h.8M435.6 67.8h.8M437.8 72.3h.8M441.3 66.2h.8M446.7 69.5h.8M436.2 65.6h.8M442.7 62.9h.8M434.2 71.5h.8M448.1 72.1h.8M438 66.2h.8M439.3 66.6h.8M451.4 67.7h.8M452 66.1h.8M444.3 73.7h.8M435.7 66h.8M436.9 62.8h.8M439.1 66.1h.8M458.7 67h.8M424.7 71.1h.8M448.8 68.3h.8M443.6 70.7h.8M437 68.3h.8M442.4 73.8h.8M452.4 69.1h.8M430.9 71h.8M440.9 72.2h.8M441.8 68.9h.8M446.6 66h.8M436.1 75.8h.8M434.6 71.3h.8M446.7 71.1h.8M452.2 64h.8M449 61.6h.8M441.8 69.4h.8M449.4 72.1h.8M434.2 67.2h.8M440.2 65.9h.8M435.1 66h.8M450.3 73h.8M447.1 74h.8M442.2 64.7h.8M436.3 68.9h.8M449.3 72.5h.8M434.4 71.3h.8M437.2 70.2h.8M448.4 73.4h.8M437.3 69h.8M444.8 67h.8M442.1 70.3h.8M428.6 65.9h.8M459.3 70.2h.8M437.2 62.1h.8M433.9 69.9h.8M446.7 69.9h.8M446.1 66.4h.8M453.9 64.8h.8M445.4 67.5h.8M428 71h.8M439.2 70.6h.8M451.3 69h.8M436.3 67.5h.8M440.8 73.1h.8M447.9 73.7h.8M447.4 65.9h.8M448.5 71.7h.8M440.4 69.8h.8M439 64h.8M440.6 70.8h.8M438.7 60.8h.8M435.1 71.8h.8M443.1 72.1h.8M435.6 66.8h.8M433.7 65.5h.8M445.4 68.8h.8M437.6 69.2h.8M431.2 66.8h.8M429.8 63.1h.8M430.9 64.4h.8M453.6 73.1h.8M451.2 66.5h.8M446.3 64.6h.8M437.1 69h.8M428.9 68.7h.8M446.3 61.5h.8M422.4 67h.8M440.4 68.8h.8M432.5 70h.8M442.4 65.9h.8M454.1 69.4h.8M447 74.6h.8M437.6 67.5h.8M427.9 67.3h.8M444.6 76.7h.8M445.7 69.1h.8M431.6 65.2h.8M427.1 63.4h.8M442.2 69.3h.8M434.3 67.4h.8M435.1 70.2h.8M446.4 66.5h.8M437.9 64.1h.8M437.6 75.5h.8M441.2 71.2h.8M445.8 73.3h.8M438.9 65.2h.8M449.4 71.5h.8M436.1 71.9h.8M441.3 68.1h.8M455.6 70.4h.8M443.8 67.3h.8M442.9 71.9h.8M445 65.8h.8M444.9 68h.8M443.8 67.7h.8M424.5 62.5h.8M438.5 60.8h.8M429.5 74.9h.8M446.8 66.9h.8M444.1 60.8h.8M443.2 71.6h.8M442.9 63.9h.8M448.9 66.7h.8M436.9 68.9h.8M438.9 75.1h.8M440.1 75.5h.8M445 64.2h.8M441.4 68.5h.8M452.5 72.8h.8M461.3 66.5h.8M437.8 76.1h.8M434.3 69.4h.8M454 65.1h.8M438.7 65.7h.8M445.4 69.7h.8M441 70.5h.8M435.3 66.9h.8M444.9 75.2h.8M441.1 68.5h.8M451.6 68.8h.8M451.5 69.3h.8M450.4 69.1h.8M434.2 65.3h.8M444.6 74.7h.8M456 67.5h.8M461 64.9h.8M434.7 71.3h.8M429.4 71.1h.8M444.3 70.5h.8M431.9 69.4h.8M448.7 68.3h.8M449.4 68.5h.8M444.1 67.3h.8M430.8 67.5h.8M445.3 65.8h.8M426.2 62.8h.8M451.7 67.7h.8M435.3 72.4h.8M440.1 63.2h.8M438 65.2h.8M440 65.2h.8M441.9 69.9h.8M436.9 67.5h.8M440.1 71.1h.8M435.7 70.7h.8M451.2 67.8h.8M433.8 67.1h.8M427.5 66.2h.8M432 67.5h.8M438.4 70h.8M442.3 69.7h.8M441 69.2h.8M432.5 70.4h.8M451.5 72.3h.8M430.8 69.5h.8M428.6 70.6h.8M439.8 66.7h.8M435.5 67.4h.8M441.4 65h.8M441.8 69.2h.8M445.5 68.2h.8M441.2 76.2h.8M449.3 69.6h.8M430.4 70.2h.8M446.1 59.4h.8M440.1 69.6h.8M441.7 68.6h.8M440.1 73h.8M444.4 67.4h.8M439.5 75.3h.8M434.6 66.4h.8M443.9 68.9h.8M443.7 73h.8M450.3 69.9h.8M441.7 68.1h.8M439.5 71.7h.8M431.5 64.6h.8M437.9 65h.8M435.5 72.2h.8M423.6 69.9h.8M431.1 67.3h.8M436.9 64.8h.8M429.7 68.3h.8M418.2 60.6h.8M438.2 72h.8M456 67.6h.8M435.1 67.2h.8M445 71.5h.8M433.8 69.8h.8M441.1 72.2h.8M438.2 67.5h.8M434.8 63.7h.8M443.5 70.8h.8M450.3 69.4h.8M437.8 65.1h.8M432.3 65.7h.8M444 68.7h.8M423.3 67.6h.8M439.2 64.7h.8M441.2 70.1h.8M433.3 63.5h.8M438.8 69.1h.8M439.3 73.5h.8M442.6 64.9h.8M447.6 66.2h.8M446.8 68.7h.8M451.2 65.1h.8M447.1 69.9h.8M434.2 70.5h.8M459.3 69.9h.8M435.4 67.7h.8M451.7 69.4h.8M453.2 66.3h.8M451.9 63.1h.8M440.1 67.3h.8M437.5 72.4h.8M436.6 69.4h.8M456 71.4h.8M438.2 65.7h.8M425.5 69.3h.8M448.4 72.2h.8M443.2 75.7h.8M447.7 60.6h.8M434.4 70.9h.8M438.2 71.1h.8M461.8 66.1h.8M459 68.4h.8M429.8 68.4h.8M448.6 66.5h.8M454 65.6h.8M439.8 71.4h.8M439.8 66.4h.8M441.3 70.5h.8M455.1 73.2h.8M456.3 68.5h.8M428.3 67.9h.8M438.2 64.8h.8M437.4 68h.8M441.8 71.4h.8M434.1 72.1h.8M441.8 70.8h.8M451.4 64.3h.8M454.2 66.1h.8M444.6 72.1h.8M448.9 63.1h.8M442.7 72.2h.8M440.5 68h.8M441.9 73.9h.8M437.2 65h.8M432.7 66.3h.8M439.6 69.4h.8M440.9 62.4h.8M428.9 70.4h.8M447.3 63.8h.8M449.1 60.2h.8M460 70.7h.8M428.2 69.8h.8M441.2 66.8h.8M438.6 67.5h.8M440.7 65.2h.8M436.9 70.1h.8M445.8 63.9h.8M437.4 73.6h.8M447.1 74h.8M430.8 64.5h.8M424.3 61.4h.8M438.6 64.7h.8M432.8 65.8h.8M439.9 71.1h.8M446.1 62.4h.8M453.4 67.4h.8M433.5 68h.8M438.4 63.5h.8M454 66.6h.8M436.6 70h.8M454.8 70.2h.8M434.3 69.6h.8M450.3 69.8h.8M446.7 66.8h.8M441.1 62.6h.8M435.8 64.3h.8M441.4 73.4h.8M423.6 63.4h.8M434.1 67.8h.8M450.9 65.8h.8M435.1 72.3h.8M444.4 70.2h.8M448.2 65.9h.8M443.3 66.1h.8M435.7 68.6h.8M445.1 64h.8M435.3 70.3h.8M442.8 70.6h.8M439 65.5h.8M447.7 70.5h.8M418.7 70.8h.8M435.3 70.5h.8M454.1 67.6h.8M433.7 69h.8M442.2 70.2h.8M430.2 68.9h.8M448.6 70.8h.8M446.5 72.5h.8M434.8 72.3h.8M443.2 64.9h.8M439.1 69.2h.8M444.1 73h.8M443.1 66.6h.8M459.1 67.5h.8M434.8 71.3h.8M438.2 65.5h.8M432.9 72.2h.8M433 68.5h.8M437.8 67.6h.8M434.9 68.7h.8M446.3 72h.8M438.7 64.3h.8M429.6 68.1h.8M421.5 72.4h.8M441.7 68.7h.8M430.3 65.9h.8M435.5 70.5h.8M438.2 70.4h.8M445.8 61.8h.8M439.5 72.6h.8M437.4 68.7h.8M440.6 64.1h.8M459 68.2h.8M446.6 66.9h.8M452.7 72.5h.8M450.9 71.8h.8M447 73.2h.8M444.7 68.8h.8M448.1 65.4h.8M421.1 70.7h.8M442.8 65.9h.8M439.4 65h.8M434.7 68.8h.8M442.4 71.2h.8M440.7 70.5h.8M447 66h.8M428 65.7h.8M439.5 66.5h.8M459.3 66.4h.8M445.4 65.8h.8M447.1 64.1h.8M449.1 69.1h.8M438.4 64.2h.8M454.9 66.6h.8M453.2 60.4h.8M431.7 74.3h.8M455.8 68.7h.8M449.5 70.6h.8M438.6 68.7h.8M432.4 63.6h.8M442.4 70.8h.8M442.9 64.2h.8M448.3 68.8h.8M447.5 67.5h.8M439.3 71.9h.8M452.6 64.5h.8M432.5 71.5h.8M444.4 68.6h.8M433.6 71.6h.8M443 69.1h.8M444.6 66.6h.8M444.7 68.8h.8M447.2 69.7h.8M431.3 65.7h.8M439.3 72.2h.8M436.2 72.1h.8M450.1 71.5h.8M459.6 68.7h.8M444 72.5h.8M444.7 71.8h.8M440.4 73.1h.8M444.5 61.9h.8M450.2 67.9h.8M434.4 67.2h.8M439.2 72.2h.8M444.2 68.2h.8M441.4 65.3h.8M436.4 66.7h.8M439.8 64.4h.8M438.2 71.7h.8M445.1 68.4h.8M444.3 67.6h.8M431.9 71.1h.8M459.5 70.4h.8M446.8 76.8h.8M431.7 69.9h.8M438.8 67.4h.8M428.2 67.8h.8M444.8 63h.8M439.8 66.7h.8M433.4 70.3h.8M454.7 70h.8M449.7 71.1h.8M440.9 70.3h.8M452.2 67.1h.8M440.4 63.7h.8M426.6 65.3h.8M448.7 69.7h.8M443.5 72.8h.8M427.2 72.7h.8M442.1 71h.8M452.6 65.8h.8M434.5 69.6h.8M441.1 66.4h.8M440.5 65.9h.8M442.6 67.1h.8M455.2 65.1h.8M446.2 68.7h.8M454.3 65.3h.8M437.6 74.1h.8M436.2 67h.8M438.4 65h.8M451.2 73.7h.8M440.3 65.8h.8M430.6 70.4h.8M437.2 70.1h.8M422.2 66.5h.8M446.5 69.9h.8M418.5 68.9h.8M442.5 68.3h.8M438.8 66.8h.8M442.6 70.1h.8M416.1 67.8h.8M449 67.8h.8M451.4 65.4h.8M456.8 71.9h.8M438.1 77.6h.8M453 73.9h.8M431.9 67.8h.8M445.2 72h.8M442.2 64h.8M451.3 68h.8M445.1 67.3h.8M440.7 63.7h.8M446.9 66.3h.8M427.2 69.4h.8M441.2 71.6h.8M448.2 64.4h.8M440.1 68.3h.8M442.3 64.8h.8M442 71.7h.8M451.4 73.5h.8M447.8 60h.8M439.4 66.5h.8M418.1 73.1h.8M448.8 68.5h.8M444.4 70h.8M439.7 72.9h.8M456.1 71.4h.8M437 69.1h.8M449.3 70.9h.8M435.9 71.4h.8M447.3 70.4h.8M438.1 68.2h.8M426.2 67.9h.8M438 67.3h.8M439.3 67.2h.8M442.2 68.7h.8M436.6 67.8h.8M440.7 70h.8M445.1 67.2h.8M435 62.7h.8M431.4 69.5h.8M434 73.6h.8M440.3 67h.8M440.3 66.5h.8M436.4 68.5h.8M429.9 68.6h.8M440.8 65.3h.8M449.7 69.7h.8M450.3 66.3h.8M431.6 64.2h.8M429 61.7h.8M454.1 67h.8M443.1 66.6h.8M440.2 73.6h.8M427.6 64.7h.8M442.6 65.3h.8M447 72.8h.8M448.6 71h.8M440.1 71.7h.8M435.2 64.2h.8M439.4 67.5h.8M451.4 65.2h.8M450.7 65.9h.8M431.5 62.4h.8M441.3 63.5h.8M443.2 68.5h.8M438.4 61.8h.8M437.3 69.7h.8M427.1 70.4h.8M441.7 66.5h.8M443.1 70.5h.8M441.4 65.7h.8M447.8 66.2h.8M444.3 71.7h.8M451.9 73.9h.8M449.7 69h.8M439.9 68.9h.8M445.5 78.4h.8M446.8 65.7h.8M453.8 63.2h.8M449.6 64.2h.8M432.8 66.5h.8M439.3 63.7h.8M446.5 68h.8M452.3 65.1h.8M426.9 70.3h.8M439.6 71.6h.8M422.8 63.8h.8M442.1 74.9h.8M431.7 61.7h.8M437.8 73h.8M454.3 64h.8M436.7 62h.8M434.8 64.9h.8M444.9 72.2h.8M460.7 67.5h.8M448.1 69.2h.8M442.4 74.8h.8M447 73.7h.8M443.9 71.3h.8M445.6 68.1h.8M435.9 66.9h.8M441.6 67h.8M438.8 65.9h.8M448.4 67.6h.8M440.6 67.6h.8M452.1 66.7h.8M452.9 65.6h.8M453.7 70.6h.8M437.5 69.8h.8M450.7 65.3h.8M439.7 69.3h.8M439.9 67.3h.8M441.6 69.4h.8M447.6 73.4h.8M438.7 78.1h.8M438.8 74.2h.8M440.6 63.4h.8M438.1 67.1h.8M450.2 61.7h.8M436.5 67.8h.8M446.7 69.8h.8M448.4 67.9h.8M439.6 72.3h.8M455.3 69.9h.8M442.8 65.5h.8M458.3 70h.8M446.6 63h.8M446.2 76.6h.8M440.2 67.6h.8M453.8 67.9h.8M448.1 75h.8M432.2 65.3h.8M447 68.8h.8M441.9 67.8h.8M442.5 69.5h.8M437.7 67.3h.8M443.5 64.7h.8M445.2 61h.8M446.6 68h.8M432 72.7h.8M432 75.1h.8M435.6 72.3h.8M440.9 73.7h.8M439.7 71.7h.8M439.1 62h.8M444.6 70h.8M444.6 74h.8M435.8 63.4h.8M443.6 66h.8M440.7 68.3h.8M434.9 71.9h.8M440.5 74.3h.8M443.5 71.9h.8M439.3 66.1h.8M437.4 65.3h.8M445.1 68.9h.8M433 63h.8M434.8 62h.8M434.6 63.1h.8M447.2 64.5h.8M436.9 67.8h.8M441.8 69.7h.8M447.6 70.6h.8M438.7 72.5h.8M444.5 66h.8M453.5 64.6h.8M445.2 72.6h.8M442.4 69.5h.8M442.5 70.6h.8M443.3 68.4h.8M447.3 62h.8M443.6 67.3h.8M457.1 69.6h.8M436.3 70.4h.8M438.6 64.3h.8M439.3 70h.8M450.9 72h.8M443.4 67.8h.8M443 72.4h.8M440.5 72.2h.8M435.2 68.1h.8M447.6 70.8h.8M443.2 66.6h.8M427.4 66.6h.8M434.9 66.8h.8M454.1 66h.8M448.3 68.4h.8M432.8 68.5h.8M447.6 64.4h.8M432.4 66.8h.8M447.3 66.4h.8M444.9 69.9h.8M441.6 69.8h.8M451.6 67.9h.8M444.2 64.8h.8M435.8 67.9h.8M448 66.2h.8M430.5 71.2h.8M460.4 60h.8M433.1 68.6h.8M445.4 65.2h.8M444.1 72.1h.8M439.3 70.7h.8M442.6 65.2h.8M436.7 66.2h.8M451.9 72.4h.8M443.5 63.1h.8M437.7 66.9h.8M426.4 67.9h.8M443.9 63.9h.8M438.2 66.7h.8M456 70.8h.8M447.6 68.7h.8M431.4 71.2h.8M436.4 61.7h.8M447.3 67.3h.8M441.5 70h.8M439.7 69.7h.8M451.7 67.4h.8M438.8 68.3h.8M446.6 67.1h.8M442.2 66h.8M440.9 70.1h.8M435.1 67.6h.8M430.1 65.7h.8M442.1 70.1h.8M433.5 67.8h.8M434.2 69.2h.8M443.6 69.8h.8M440 63.5h.8M437.2 63.7h.8M436.2 68h.8M450 66.3h.8M435.5 68.9h.8M425.3 74.7h.8M429.4 71.5h.8M449.1 71.7h.8M440.7 70.7h.8M438.8 71.5h.8M436.5 65.5h.8M444.5 66.8h.8M446.8 65.5h.8M443.7 65.1h.8M440.6 75.5h.8M433.2 64h.8M429 67.3h.8M454.2 67h.8M448.8 67.8h.8M436.4 74.9h.8M450.1 62.3h.8M433.9 69.5h.8M446.6 67.7h.8M443.9 70.2h.8M438.7 71.6h.8M434.9 70.7h.8M448.6 69.1h.8M438.8 68.2h.8M424.2 68.8h.8M430.6 61.3h.8M447.5 65.4h.8M444.3 68.5h.8M427.9 65h.8M439.4 69.8h.8M442.1 64.1h.8M437.4 68.6h.8M431.7 66.6h.8M437.4 61.1h.8M454.8 71.5h.8M437.8 71.4h.8M433.3 73.3h.8M438.6 68.7h.8M437 68.5h.8M444.1 68.5h.8M435 70.7h.8M445.8 68.4h.8M449.7 66h.8M451.4 68h.8M453.3 67.1h.8M439.5 69h.8M449.9 73.3h.8M438 65.8h.8M447.3 72.6h.8M447 67.3h.8M451.4 68.4h.8M442.8 70.4h.8M437.3 60.6h.8M443.2 70.7h.8M444.9 70.2h.8M442.7 71.8h.8M442.3 73.3h.8M441.8 71h.8M437.2 69.2h.8M444.8 68.8h.8M453.5 68.7h.8M450.2 69.7h.8M450 65.5h.8M438.6 71.5h.8M435.2 69.5h.8M445.9 69h.8M444.9 70.2h.8M439.7 69.6h.8M437.5 66.7h.8M429.2 67.7h.8M428.4 68.1h.8M443.2 64.7h.8M442 69.3h.8M438.9 65.2h.8M440.6 69.7h.8M448.5 74.9h.8M426.2 69.1h.8M444.9 66.2h.8M443.9 75.4h.8M442.3 72.9h.8M449.8 67h.8M423.5 71.8h.8M453.5 62.6h.8M440 65.9h.8M443.1 68.5h.8M450.4 66.5h.8M456.6 62.9h.8M443 77.3h.8M440.7 70.4h.8M437.6 79.3h.8M448.4 67.3h.8M426.7 68.7h.8M447.3 61.6h.8M437.7 70.1h.8M422.9 67.3h.8M429.3 63.6h.8M444.6 72.2h.8M450.6 66.3h.8M445.6 62.4h.8M430 69.9h.8M438.5 64.8h.8M427.1 67.2h.8M458.9 61.9h.8M433.3 71.9h.8M426.7 65.9h.8M442 72.1h.8M440.8 74.4h.8M441.3 67.9h.8M444.9 69.6h.8M430 64.9h.8M439.7 69.4h.8M432.1 65.7h.8M435.7 69.3h.8M438.1 70.3h.8M444.6 65.3h.8M439.3 64.1h.8M442.3 71h.8M434 62.2h.8M445.5 67.4h.8M441.3 69.8h.8M444.4 71.5h.8M438.1 60.8h.8M437.7 67.2h.8M438.3 69.6h.8M439.5 72.6h.8M436.6 68.2h.8M438.6 75.4h.8M434.2 64.8h.8M438.5 70.8h.8M441.6 67.7h.8M430.3 61.1h.8M439.9 67.5h.8M455.2 69.8h.8M444.8 71.6h.8M434.6 64h.8M438.5 73.2h.8M449.2 66.5h.8M431.8 71.2h.8M450.1 64.8h.8M454.1 65.9h.8M447.4 67.7h.8M439 66.2h.8M446.9 70.5h.8M447.8 67.5h.8M434.7 75.4h.8M454.9 67.9h.8M432.5 73.2h.8M442.5 68.5h.8M448.1 69.6h.8M442.2 75h.8M426.7 70.2h.8M433.8 68.4h.8M440.2 69.2h.8M422.6 70.3h.8M459.8 67.3h.8M448.5 70.6h.8M443.9 66.6h.8M446.5 69.3h.8M452.8 71.3h.8M436.1 58.3h.8M453.3 70.2h.8M442.9 66.3h.8M461.1 73.2h.8M442.3 67.1h.8M445.9 73h.8M445.5 71.6h.8M443.5 69.5h.8M431.5 68.5h.8M441.9 68.1h.8M439.6 69.3h.8M437 67.5h.8M431 75.9h.8M434.6 64.1h.8M437.3 66.8h.8M433.2 59.9h.8M454.4 72h.8M438.5 70.1h.8M432.9 62.6h.8M444.1 70.3h.8M436.1 68.2h.8M417.2 67.4h.8M449.8 69h.8M442.9 70.3h.8M425.1 63.6h.8M431.4 68.9h.8M436.7 61.8h.8M448.6 67.8h.8M449.2 75.3h.8M428.5 63.7h.8M449.9 73.2h.8M444.6 69.6h.8M446.9 70.6h.8M431.4 70.6h.8M449.4 67.1h.8M434.3 66.5h.8M436.8 70h.8M447.6 68.5h.8M439.2 62.3h.8M438.2 64.9h.8M437.1 69.4h.8M442.6 80.2h.8M434.6 66.4h.8M432.4 67.3h.8M439.2 71.7h.8M425.9 71.1h.8M446.6 66.6h.8M436 68.9h.8M445.6 67.8h.8M440.3 68.3h.8M432.9 69h.8M446.1 68.6h.8M432.4 68.1h.8M440.6 69.4h.8M438.1 71h.8M450 71.3h.8M443.3 72.5h.8M441.2 67.7h.8M430.1 68.1h.8M451.2 65.3h.8M447.8 64.2h.8M443.7 74.5h.8M441.9 64.4h.8M443.8 67.9h.8M447.8 66.7h.8M427.8 66.4h.8M446.1 71.8h.8M443.7 68.4h.8M446.9 67.8h.8M437.9 69h.8M450.2 66.8h.8M445.5 66.2h.8M435.6 68.8h.8M431 65.2h.8M432 66.1h.8M434.1 76h.8M446.3 68.6h.8M431 60.2h.8M445 66.3h.8M449.8 67.2h.8M431.1 66h.8M429.4 63.3h.8M447.1 66.7h.8M447 66.6h.8M439.6 66.4h.8M437.2 66h.8M453.3 68.4h.8M425.8 73.6h.8M451.3 72.2h.8M440.6 67.8h.8M437.6 68.6h.8M445.2 68.4h.8M435 65h.8M454.6 74.2h.8M431.6 66h.8M441.1 70.2h.8M440.5 69.1h.8M444.2 72.2h.8M431 71.7h.8M444.9 70.2h.8M429.5 67.3h.8M439.3 70.4h.8M446.8 70.7h.8M431.1 72.3h.8M441.9 71.4h.8M441.4 66h.8M462.2 70.9h.8M447.5 66.9h.8M439.6 72h.8M444.9 74.2h.8M451 64.9h.8M429.1 71.9h.8M446.2 67.6h.8M439.1 66.4h.8M455.7 68.1h.8M430.4 71.1h.8M440.7 69.5h.8M438.3 68.1h.8M426.4 69.8h.8M436 66.9h.8M443.8 72.6h.8M424.2 67.5h.8M445.7 71.7h.8M434.1 69.2h.8M444.5 71.4h.8M436.4 67.6h.8M437.2 72h.8M450.1 67h.8M440.3 69h.8M434.2 67.8h.8M448.2 71h.8M436 66.1h.8M440.5 63.5h.8M443.8 68.8h.8M430.7 67.3h.8M436.1 67.3h.8M434.3 72.6h.8M433.6 70.7h.8M442.9 73.1h.8M440.9 68.3h.8M442 62.2h.8M460.6 68h.8M438.9 64.6h.8M440.2 73.6h.8M435.3 69.6h.8M449.5 71.6h.8M438.3 62.6h.8M444.6 70.2h.8M438.8 66.9h.8M455.4 63.5h.8M437.3 66.3h.8M428.9 65.8h.8M434.9 72.2h.8M427.5 63.6h.8M443.5 63.4h.8M425.4 66h.8M431.8 65h.8M440.1 69.8h.8M436.2 67.3h.8M447.1 68h.8M447.2 66.5h.8M445.2 72.5h.8M430.1 77.8h.8M438.8 67.2h.8M440 69.8h.8M431.7 68.3h.8M436.6 72.9h.8M427.5 70.2h.8M438.9 65.9h.8M442.5 67.6h.8M441.7 69.1h.8M451 67.2h.8M454.9 59.9h.8M455.8 72.6h.8M453.8 69.2h.8M443.7 65.1h.8M452.1 64.8h.8M435 68.2h.8M443.2 69.5h.8M432.1 67h.8M445.2 72.2h.8M447.4 69.8h.8M439.3 66.6h.8M437.3 68h.8M445.6 66.8h.8M457.8 65.4h.8M447.9 67.8h.8M440.3 67.1h.8M453.6 67.6h.8M445.7 68.8h.8M447.3 70.4h.8M454.6 66.3h.8M434.7 73.7h.8M451.5 68.8h.8M439 69.1h.8M451.8 66.1h.8M452.9 68.4h.8M438.5 67h.8M424.6 69h.8M430.9 66.3h.8M434.2 69h.8M447.1 68.6h.8M442.8 69.7h.8M454.1 70.5h.8M453.9 68.4h.8M444.2 66.3h.8M446.1 65.7h.8M445.1 66.4h.8M438.5 72.2h.8M442.5 70.9h.8M439.6 62.3h.8M453.1 68h.8M436.1 71.3h.8M432.3 65.8h.8M450.5 66.3h.8M450.4 67.5h.8M439.7 68.5h.8M437.3 71.7h.8M450.1 68.7h.8M446.2 70.2h.8M454.9 63.5h.8M449.5 71.4h.8M438.9 68.3h.8M438.5 72.3h.8M432.2 70.1h.8M451.5 70.4h.8M437.6 66.8h.8M424.5 64.7h.8M450.1 65.5h.8M428.3 67.3h.8M429.5 69.6h.8M434.3 71.3h.8M440.5 63.8h.8M435.3 66.2h.8M434.6 72.2h.8M433.3 69.4h.8M436.7 70.1h.8M430.1 63.1h.8M445.3 73h.8M430.4 67.1h.8M437.4 65.3h.8M449.1 68.7h.8M430.3 67.4h.8M452 66.3h.8M437.3 65.6h.8M442.7 66.6h.8M451.5 65.4h.8M422.1 71.5h.8M443.8 71h.8M433.2 66.9h.8M446.2 90.1h.8M430.3 68.3h.8M434.5 72.4h.8M440.3 72.6h.8M460.7 68.7h.8M436.6 71.5h.8M466.5 68.4h.8M461.1 76.7h.8M406.3 63.1h.8M428 71.4h.8M456.8 70.4h.8M442 81.5h.8M444.4 81.5h.8M428.9 78.3h.8M434.4 56.2h.8M430.1 66.7h.8M439.6 73.7h.8M448.8 72.7h.8M430.7 79.1h.8M455.2 70.2h.8M433.2 69.1h.8M437.6 65.7h.8M440.3 66h.8M448.4 66.3h.8M446.4 71.5h.8M442.3 72.5h.8M427.1 83.3h.8M431.6 73.3h.8M440.7 67.2h.8M461.8 76.3h.8M436.8 72.6h.8M448.6 78.5h.8M453 69.1h.8M437.4 63.1h.8M443.5 74.4h.8M435.3 73.1h.8M442 67.1h.8M424.9 75.2h.8M471.9 73.5h.8M427 63.5h.8M443.4 73.2h.8M459.7 56.9h.8M463.4 71.2h.8M442 71.8h.8M436 67.9h.8M453.8 60.5h.8M438.8 72.6h.8M419.8 68.1h.8M459.4 72.2h.8M449.1 73.7h.8M443.1 71.6h.8M430.2 68.1h.8M463.6 63.5h.8M438.5 62.6h.8M433.8 65.1h.8M425 70.5h.8M428.5 72.1h.8M463.4 56.2h.8M438.7 58h.8M438.8 71.6h.8M442.8 76.3h.8M442.7 60.2h.8M459.3 64.9h.8M439.2 71.3h.8M429.4 69.7h.8M459.3 60.9h.8M419.6 66.5h.8M438.5 62.5h.8M411.5 73.7h.8M445.5 62.4h.8M447.6 69.4h.8M442.6 62.3h.8M437.6 72.1h.8M418.7 63.1h.8M452.2 80.9h.8M448.7 69.4h.8M426.9 66.9h.8M437.2 71.9h.8M436.8 83.1h.8M457.3 58h.8M425.8 69.1h.8M452.6 72.2h.8M406.3 59.5h.8M457.2 73.3h.8M472.3 74.9h.8M446 78.2h.8M434.9 66.4h.8M427.7 70.6h.8M445.8 74.9h.8M458.5 73.6h.8M455.9 68.7h.8M428.3 73.2h.8M452.9 77.4h.8M438.5 66.9h.8M435.8 71.4h.8M439.9 68.5h.8M443.7 68.1h.8M444.8 66.4h.8M421.2 67.3h.8M464.3 65.8h.8M451.7 77.4h.8M433.6 70.8h.8M411.8 71.9h.8M459.7 71.2h.8M415.7 65.6h.8M431.1 69.9h.8M444.1 67.4h.8M436.7 64.9h.8M447.6 70.9h.8M444.9 66.9h.8M446.7 68.1h.8M444.2 68.8h.8M432.3 63.2h.8M417.4 61.3h.8M445.7 87.8h.8M420.1 64.4h.8M439.8 89.4h.8M438.1 63h.8M445.4 81.3h.8M405.7 62h.8M456.2 63.5h.8M439.3 66h.8M450.3 61.7h.8M444.3 70.9h.8M447.5 72.1h.8M442.7 59.7h.8M436.6 64.1h.8M447.2 68.4h.8M442.2 75.7h.8M438.9 78.9h.8M451.2 61.6h.8M433 76.1h.8M434 76h.8M433.5 68.6h.8M453.6 61.1h.8M441.5 67h.8M442.3 79.2h.8M446.9 62.2h.8M452.6 67.4h.8M442.4 76.1h.8M436.4 74.8h.8M442.9 64.5h.8M436.8 61.8h.8M455.3 70.9h.8M452.8 63.7h.8M451.3 63.2h.8M444 69.6h.8M433.1 71h.8M441.1 64.7h.8M431.4 61.9h.8M457.6 70.9h.8M435.8 73.3h.8M429.9 62.7h.8M444.7 78.5h.8M444.2 70.5h.8M462.6 61.5h.8M478.9 64.5h.8M439.8 62h.8M425.3 67.7h.8M471.2 65.2h.8M432.7 70.8h.8M427.8 67.7h.8M451.1 57.6h.8M436.8 67.7h.8M434.1 68.7h.8M418.1 66.4h.8M434.2 63.5h.8M456 81.2h.8M450.6 64.9h.8M458.2 72.8h.8M430.2 72.6h.8M433.2 72.5h.8M451.8 76.3h.8M427.3 68.4h.8M440.7 62.6h.8M445.6 73.5h.8M423.3 65.9h.8M426.9 61.9h.8M426.9 76.8h.8M432.3 67h.8M452.7 75.6h.8M458.4 58.4h.8M450.2 59.9h.8M432.6 66.9h.8M433 80.3h.8M438.2 76h.8M438.3 69.1h.8M446.8 72.2h.8M447 59.9h.8M446.8 71.5h.8M448 69.4h.8M445.8 62.3h.8M454.9 63.1h.8M457.9 75.7h.8M439.8 67.8h.8M450.3 68.1h.8M425.6 70.6h.8M425.3 66.5h.8M462.8 74.7h.8M434.9 68.9h.8M432.4 69.2h.8M422.3 72.8h.8M440.8 66.1h.8M432.4 84.1h.8M435 66.7h.8M433.3 66.5h.8M456.7 73.8h.8M445.7 71.7h.8M426.7 55.5h.8M459.2 74.1h.8M443.2 71.2h.8M443 69.7h.8M437.6 56.8h.8M447.6 70h.8M452.7 71.6h.8M436.8 72.8h.8M442.9 67.1h.8M435.9 67h.8M436.8 66.9h.8M452.3 86.3h.8M438.9 75.8h.8M416.4 50.5h.8M434.6 68.4h.8M431.5 61.6h.8M430 66.3h.8M442.5 67.7h.8M425.6 67h.8M459.6 65.1h.8M441.1 75.2h.8M430.5 66h.8M476.5 77.6h.8M433.9 70.2h.8M441.7 70.4h.8M446.4 68h.8M412.9 63.2h.8M442.6 61.9h.8M436.2 77.9h.8M443.6 65.9h.8M442.1 75.5h.8M419.3 61.8h.8M432.3 66.8h.8M439.5 66.2h.8M441.8 70h.8M426 65.5h.8M425 70.7h.8M443.7 73.3h.8M429.7 66.2h.8M412.8 68.7h.8M420.2 70.8h.8M453.9 72.4h.8M448.3 71h.8M445 74.9h.8M455.9 81.3h.8M437 74.1h.8M451.2 72.2h.8M444.1 62.5h.8M454.2 64.9h.8M432.5 64.4h.8M447.6 64.3h.8M446.1 72.8h.8M441.8 67.6h.8M447.7 77.1h.8M434.9 63.4h.8M433.1 64.3h.8M437.6 68.5h.8M411.5 76.9h.8M430.4 66.8h.8M416.4 57.7h.8M427.8 70.4h.8M451.4 59.6h.8M443 78.1h.8M436.8 74.6h.8M444.5 64.4h.8M453 66.4h.8M445 67.4h.8M437.8 70.3h.8M457.3 60.5h.8M426.6 69.7h.8M452.7 68.8h.8M438.1 72.4h.8M460.3 65h.8M420.6 67.3h.8M450.3 62.4h.8M454.4 75.2h.8M450.5 65h.8M424.3 72.7h.8M443.6 73.5h.8M424.2 52.4h.8M454.3 75.5h.8M437 69.4h.8M446 73.9h.8M438.2 66.5h.8M428.2 74.9h.8M442.3 50.4h.8M444.9 66.4h.8M424.7 66.1h.8M424.6 66.5h.8M433.6 72.2h.8M428.2 58.9h.8M433.2 61.5h.8M449.8 68.6h.8M419.8 63.9h.8M440.2 69.3h.8M417.6 68.1h.8M444 75.2h.8M454.2 69.2h.8M424.3 66.9h.8M448.7 64.6h.8M456.3 64.6h.8M426.3 73.7h.8M439.2 71.3h.8M436.7 69.5h.8M432.9 79.9h.8M448.7 69h.8M446.2 74.4h.8M433.9 70.3h.8M443.1 66.4h.8M430.9 68.1h.8M436.8 67.1h.8M416.3 69.2h.8M448.6 70.1h.8M461.7 75h.8M436.2 65.6h.8M446.8 67.6h.8M420.3 69.6h.8M436.8 68.1h.8M448.1 70.8h.8M465.8 66.1h.8M439.2 71.2h.8M435.1 66.4h.8M462.5 62h.8M445.1 59.8h.8M445 58.9h.8M425.8 75.4h.8M459.7 70.8h.8M406.5 74.2h.8M443.7 63.4h.8M436.3 62h.8M439.3 69h.8M441.9 74h.8M432.8 56.9h.8M426.1 62h.8M436 66.9h.8M439.7 77.1h.8M441 63.5h.8M436.8 64.5h.8M437.4 72.6h.8M426.3 73h.8M462.5 78.7h.8M460.7 70.6h.8M423.3 80.2h.8M439.8 70.8h.8M436.2 64.1h.8M448.4 61.9h.8M423.3 72.1h.8M436 64.7h.8M446.4 77.6h.8M437 68.6h.8M447.3 74.9h.8M453.3 73.7h.8M432.1 72.2h.8M440.9 60h.8M455.8 73.2h.8M457.6 69.6h.8M449.6 69.4h.8M442.4 74.6h.8M441.1 72.9h.8M439.9 76.3h.8M448.9 60.5h.8M461.1 72.6h.8M434.3 65.8h.8M465.2 70.7h.8M446.7 73h.8M432.8 79h.8M466.8 65.9h.8M454.9 60.8h.8M436.3 69.7h.8M441.1 72.7h.8M445.5 71.7h.8M438.8 71.1h.8M433.3 80.2h.8M441.1 76.4h.8M441.8 68.7h.8M438.5 62.3h.8M466.2 72.6h.8M442.2 67h.8M456.5 68.1h.8M434.9 66.3h.8M459.6 71.8h.8M438.8 65.9h.8M456.4 71.6h.8M436.3 74.4h.8M451.6 64.3h.8M454.6 76h.8M437.7 62h.8M454.2 68h.8M438.1 67.8h.8M437 74h.8M426.9 72.1h.8M454.7 75.8h.8M449.4 71.3h.8M438.1 68.8h.8M429.4 78.5h.8M439.3 63.9h.8M450.6 78.2h.8M444.1 67.9h.8M426.7 72.7h.8M437.7 65.8h.8M448.2 62.6h.8M450.1 56.3h.8M433.2 61.4h.8M437.4 73.8h.8M424.3 76.6h.8M432.3 66.6h.8M453 65.9h.8M458.6 68.9h.8M439.6 64.2h.8M454.8 69.6h.8M434.8 64.1h.8M432.8 68.7h.8M431.6 73.6h.8M440.3 66.1h.8M446 77.6h.8M415 70.7h.8M453.9 70.7h.8M451 61.3h.8M431.3 74.8h.8M439.5 69.8h.8M448.3 71.8h.8M446.2 66.9h.8M436.8 76.6h.8M434.8 61.4h.8M436.2 74.3h.8M462.6 71h.8M433 72.6h.8M444.2 76.1h.8M446.9 73.9h.8M446.8 72h.8M429.6 68.3h.8M460.1 77.4h.8M452.4 72h.8M439.3 71.4h.8M436.5 75.4h.8M437 65.2h.8M420.7 77.5h.8M431.7 64.5h.8M445.4 79.5h.8M448.9 67.9h.8M447.8 65.2h.8M437.7 69.6h.8M440.8 73.8h.8M447 80.1h.8M451 68.3h.8M444 65h.8M433.4 67.4h.8M453.3 66.1h.8M421.9 63.4h.8M426.2 68.1h.8M437.3 63h.8M431.2 67h.8M445.5 73h.8M457 68.6h.8M448.5 70.2h.8M427.7 65.6h.8M467.5 69.4h.8M460.8 74.7h.8M461.1 69.1h.8M452.3 68.2h.8M427.6 62.7h.8M446.5 60.9h.8M445.5 64.9h.8M445.4 62.1h.8M451.3 68.6h.8M422.6 61.1h.8M442 60.6h.8M444.8 72.3h.8M432.7 76.9h.8M458.4 71.8h.8M446.4 72.3h.8M437.6 76.6h.8M434.9 55.6h.8M441.1 72h.8M451.1 63.8h.8M457.9 65.5h.8M448.5 73.8h.8M442.9 75.8h.8M434.7 80.6h.8M447 67.4h.8M472.5 70.4h.8M421.1 76.7h.8M459.8 66.9h.8M428.8 75.3h.8M441.9 64.3h.8M435.2 69.7h.8M452.6 78.5h.8M433.2 77.7h.8M422.6 72.9h.8M439.3 71.9h.8M435.8 65.5h.8M444.2 75.8h.8M414.2 69h.8M436.3 63.5h.8M424.7 71.9h.8M447.6 73.3h.8M417.2 60.5h.8M433.7 66.9h.8M462.4 68.1h.8M442.4 75h.8M461.1 72.2h.8M444.8 80.3h.8M436.4 59.5h.8M432 67.5h.8M456.8 71.7h.8M455.6 70.5h.8M441.6 66.4h.8M426 71.9h.8M445.3 72.8h.8M434.6 67h.8M445.5 73h.8M465.2 65.5h.8M452.8 74.7h.8M437.8 70.2h.8M440.1 77.9h.8M471.7 72.2h.8M437.8 74.6h.8M447 68.7h.8M450 74.6h.8M436.1 74.1h.8M414.2 61.7h.8M437.3 70.3h.8M423.2 77.1h.8M436.4 70.2h.8M440.4 73.7h.8M433.9 73.4h.8M431.2 61.1h.8M447.2 70.6h.8M452 59.2h.8M442.5 66h.8M438.8 67.3h.8M436.6 65.7h.8M453.6 60.5h.8M420.8 70.8h.8M465.5 66.1h.8M430.3 62.8h.8M428.5 76h.8M449.1 74.7h.8M445.2 70.9h.8M434.2 64h.8M448.1 83.4h.8M436.4 76.4h.8M432.5 69.5h.8M461.6 69.7h.8M448.8 66.7h.8M463.9 63.4h.8M447.8 68.4h.8M443.3 71.6h.8M456.8 74.8h.8M453.7 71.9h.8M427.9 76.5h.8M459.5 72.7h.8M450.7 68.5h.8M423.5 74.4h.8M431.9 79.8h.8M449.4 69.7h.8M433.6 69.9h.8M428.9 67.1h.8M460.4 68.5h.8M463.3 69.7h.8M446.2 64.6h.8M437.5 67h.8M423.9 79.7h.8M448.2 69.3h.8M427.8 69.3h.8M428.4 63.8h.8M438.4 81.4h.8M419.9 72h.8M434.9 53.3h.8M423.9 68.3h.8M441.9 65.4h.8M462.4 73.1h.8M433.6 60.2h.8M443.2 65.9h.8M453.5 64.1h.8M455.5 67.4h.8M443.4 68.1h.8M448.3 76.1h.8M434.5 64.3h.8M463.8 75.5h.8M463.9 75.5h.8M442.3 78.6h.8M432.9 66.9h.8M436 73.2h.8M430.7 68.2h.8M430.8 67.9h.8M454.4 76.1h.8M437.9 83.5h.8M432.4 71.8h.8M435.5 57.1h.8M426.4 75.9h.8M420.4 85.1h.8M439.4 71h.8M456.1 70.1h.8M433.3 65.9h.8M429.4 72.2h.8M435.1 72.2h.8M422.8 66.6h.8M465.9 72.3h.8M439.5 76h.8M444 78.1h.8M426.7 73.3h.8M427.9 72.9h.8M470.5 78.9h.8M430.4 71.5h.8M446.6 65.7h.8M444 63.7h.8M452.5 74.9h.8M438.8 73.3h.8M469.8 69.5h.8M418.1 70.7h.8M435.5 65h.8M451.7 75.4h.8M447.8 78.8h.8M433.3 67h.8M446.4 54.7h.8M407.6 70.4h.8M438.3 69.8h.8M429.1 70.4h.8M453.8 66.4h.8M447.7 68.9h.8M438.9 70.1h.8M459.1 73h.8M449.1 70.6h.8M414.6 74h.8M440.6 70h.8M434.9 60.8h.8M458.7 80.2h.8M460.2 59.9h.8M447.7 63.2h.8M438.6 66.6h.8M433.4 65h.8M434.8 73.6h.8M460.2 75.3h.8M440.7 68.7h.8M437.8 69.3h.8M433.3 68.3h.8M451.2 68.6h.8M430.9 68.5h.8M441.8 69.1h.8M437.5 73.3h.8M440.4 63.9h.8M447.8 65.8h.8M450 74.3h.8M446.6 71.4h.8M424.4 67.9h.8M442.2 73.1h.8M427.1 68.2h.8M422 69.9h.8M441.7 70.2h.8M460.8 74.2h.8M438.5 66.2h.8M435.2 73.7h.8M452 67.1h.8M439.4 67.1h.8M449.1 70.8h.8M432.1 64.3h.8M456.9 62.2h.8M419.1 51.8h.8M465.7 67.3h.8M451.1 72.9h.8M450.8 76.1h.8M435 69.3h.8M452.7 73h.8M431.6 65h.8M423 70.4h.8M434.5 60.7h.8M433.8 71.1h.8M443 68.4h.8M442.6 73.2h.8M426.2 64.6h.8M452.5 74h.8M423.7 65h.8M458.4 74.2h.8M438.8 75.1h.8M457.3 77.9h.8M423.9 61.8h.8M434.5 69.1h.8M436.3 70.7h.8M458.7 76.2h.8M452.9 69.9h.8M460.9 72.7h.8M443.7 69.5h.8M417.8 80.8h.8M440.3 74.5h.8M468.6 69.3h.8M426.3 74.7h.8M443.9 64.4h.8M452.6 69.9h.8M429.5 55.2h.8M428.4 71.3h.8M427.8 74.5h.8M467.8 72.1h.8M443.5 69.2h.8M451.3 70h.8M453.3 77.8h.8M451.4 64.5h.8M449 68.3h.8M444.4 75h.8M432.5 70.4h.8M459 65.5h.8M438.3 73.5h.8M437.7 75.1h.8M428.5 60.9h.8M445.4 68.9h.8M444.4 75h.8M453.7 68h.8M436.3 58.7h.8M428.7 70.5h.8M443.7 61.4h.8M450.4 69.6h.8M454.4 68h.8M452.8 63.8h.8M418 64.4h.8M449.3 72h.8M417.4 69.6h.8M448.7 79h.8M450.3 72.6h.8M421.2 71h.8M416.5 67.2h.8M436.3 64h.8M428.2 68.4h.8M448 66.2h.8M444.3 73.6h.8M440.1 80.1h.8M437 65.4h.8M417.1 74.7h.8M449.1 68.8h.8M444.6 68.9h.8M451.5 69.8h.8M443.5 69.2h.8M430.1 57h.8M447.6 62.9h.8M445.5 73.2h.8M464.1 66.1h.8M442.4 74.8h.8M432.5 66h.8M445.9 81h.8M453.9 75.2h.8M428.7 72.8h.8M455 63h.8M440.9 68.5h.8M449 60.2h.8M449.4 69.8h.8M437.8 57.8h.8M415.2 65.8h.8M448.7 72.1h.8M450.3 60.5h.8M443 77h.8M421.4 72.5h.8M431.6 72.3h.8M442.2 60.6h.8M427.5 76.1h.8M439.2 76.3h.8M444.7 74.6h.8M435.8 70.6h.8M436 74.4h.8M433.4 75.4h.8M460.3 63.4h.8M438.5 72.4h.8M462.5 76.5h.8M442.1 60.1h.8M451.2 66.6h.8M443 71.8h.8M423.1 74.8h.8M451.9 73h.8M448 71.7h.8M423.5 66.2h.8M450.8 68h.8M440.9 71.6h.8M441.7 71h.8M446.7 69.7h.8M427.1 67.6h.8M452.6 66.2h.8M446.4 71.4h.8M430.2 53.7h.8M440.6 65.3h.8M432.8 74.4h.8M431.1 71.1h.8M442.1 70.7h.8M465.6 59.5h.8M452.6 69.1h.8M437.3 65.8h.8M441.2 69.8h.8M429.1 78.2h.8M431.5 68.5h.8M425 69.9h.8M444.9 75.6h.8M452.9 67.1h.8M460.5 69.5h.8M459.6 79.5h.8M435.9 63.5h.8M447.1 77.6h.8M445.4 75.7h.8M447.9 74.6h.8M457.1 68.4h.8M423.2 68.3h.8M431.1 62.7h.8M438.5 73.4h.8M418.2 60.6h.8M450.7 65h.8M435.6 76.8h.8M454.5 71.9h.8M447.8 54.9h.8M447.5 71.8h.8M423.5 70h.8M446.3 69.1h.8M450.3 74.6h.8M441.4 68.2h.8M425.9 75.3h.8M433.6 71h.8M459.4 74.3h.8M425 68.6h.8M432.1 60.3h.8M430.7 72.4h.8M444.9 68.5h.8M443 63.2h.8M431.2 68.3h.8M450.5 68.1h.8M438.6 71.3h.8M459 63.2h.8M447.2 70.7h.8M439.7 70.8h.8M416.2 68.9h.8M437.9 62.7h.8M451.1 69.2h.8M436.3 73.5h.8M429.4 65.3h.8M450.7 74.6h.8M465.6 67.8h.8M423 60.9h.8M425.9 69.6h.8M437.8 65.7h.8M428.3 65.3h.8M436 75.9h.8M448.1 77.2h.8M450.6 74h.8M455.1 72.4h.8M459.4 76.3h.8M463 71.4h.8M430.7 83h.8M437.1 72.3h.8M436.1 65.6h.8M446.2 63.6h.8M438.4 77.2h.8M442 74h.8M448.4 71.8h.8M441.8 72.9h.8M428.6 72.3h.8M427.5 65h.8M433.6 62h.8M416.3 70.9h.8M446.7 73.3h.8M467.8 71.3h.8M449.9 65.7h.8M449.5 63.5h.8M465.1 65h.8M435.4 73.4h.8M413.3 76h.8M428.9 70.2h.8M452.7 70.7h.8M452.2 67.1h.8M448.3 57.9h.8M459.3 66.4h.8M429.9 69.3h.8M461.6 66.3h.8M440.4 67.5h.8M429.3 62h.8M447.7 73.6h.8M431.3 70.5h.8M446 71.7h.8M438.5 69.7h.8M444.2 63.8h.8M438.7 73.8h.8M433.5 76.5h.8M437.8 63.4h.8M437.2 62h.8M448.3 61h.8M440.8 68.2h.8M436.8 71.7h.8M444.2 66.6h.8M450.7 67.4h.8M451.4 77.2h.8M445 74.7h.8M424 72.1h.8M422.2 68h.8M449.6 55.1h.8M431.1 65h.8M429 69.3h.8M448.6 63.4h.8M433.2 59.2h.8M432.2 57.8h.8M421.9 71.5h.8M451.5 65.4h.8M445 65.4h.8M453.4 79.4h.8M410.4 63.9h.8M432.7 66.7h.8M459.5 78.7h.8M440.3 73h.8M421 67.3h.8M437 68.6h.8M444.4 61.1h.8M427.3 80.8h.8M419.2 69.2h.8M449.4 72.5h.8M441.5 60.7h.8M435 60.8h.8M464.7 72.2h.8M449.5 70.9h.8M435.5 75.8h.8M451.3 73.3h.8M447.6 73.8h.8M437 71.8h.8M441.6 68.2h.8M448.1 81.4h.8M415.3 76.6h.8M435 75.9h.8M428 68.1h.8M453.2 69.5h.8M445 63h.8M426.1 78.2h.8M442.5 69.1h.8M423.7 63.3h.8M427.8 68.9h.8M439.2 66.1h.8M432.2 69.9h.8M455.2 62.3h.8M422.8 75.1h.8M423 66.7h.8M441.7 79.5h.8M415.8 52.9h.8M439.3 75.3h.8M442.4 65.1h.8M443.2 58.3h.8M450.4 77.9h.8M437.9 73.9h.8M427.3 77.2h.8M432.7 64.9h.8M431.4 59.6h.8M448.5 80.7h.8M422.9 67.9h.8M446.1 66.6h.8M421.2 70.8h.8M452.9 70.4h.8M427.4 67.5h.8M416.7 68.5h.8M455.4 76h.8M439.4 71.8h.8M434.1 70h.8M433.1 70.2h.8M434.1 70.4h.8M449.1 69.7h.8M424.5 71.8h.8M437.6 66.7h.8M447.6 65.1h.8M451.9 72.9h.8M432.1 65.4h.8M439.2 64.5h.8M452.5 57.5h.8M442.4 67.7h.8M426.9 72.5h.8M434.5 71.8h.8M435.2 67.8h.8M446.8 74.9h.8M452.8 69.8h.8M458.8 68.2h.8M424.1 58.8h.8M422.9 64.2h.8M418.5 70.6h.8M440.9 69.3h.8M443.4 69h.8M437.5 67.7h.8M441.2 63.3h.8M456 78.4h.8M440.6 82h.8M428.4 74.1h.8M420.5 72.2h.8M431.2 74.7h.8M441.8 74.8h.8M447.9 72.6h.8M436.9 78.1h.8M444.8 72.3h.8M458.2 68.6h.8M461.8 76.1h.8M441.7 61.6h.8M455.5 68.3h.8M441.7 70.2h.8M452.2 73.3h.8M418.2 65.2h.8M444.8 70.6h.8M450.2 72.9h.8M460.6 66.1h.8M456.5 72.1h.8M444.1 73.4h.8M436.3 73.3h.8M437.9 73.4h.8M431 75.7h.8M422 65.4h.8M439.9 70.8h.8M430.8 67h.8M443.5 75.4h.8M456.5 67.4h.8M439.8 67.8h.8M421.9 66.5h.8M454.7 62.6h.8M475.5 75.9h.8M461.8 71.2h.8M412.2 71.1h.8M460.2 66.9h.8M456 74.1h.8M450.1 73.9h.8M447.6 73.3h.8M455.2 72.3h.8M448.3 72.1h.8M442.4 64.8h.8M418.7 63.3h.8M425.6 61h.8M449.1 68h.8M455.7 87.1h.8M450.1 67.3h.8M445.3 68.5h.8M443.7 81.1h.8M460 77.1h.8M443.8 79.4h.8M450.6 74.7h.8M426.3 65.7h.8M442.7 68.4h.8M434.5 58.3h.8M431.4 68.6h.8M444.6 63.7h.8M438.7 79.4h.8M442.9 58.8h.8M438.3 69.5h.8M456.1 71.1h.8M457.4 71.9h.8M454.8 77.4h.8M459.4 71.2h.8M447.9 91.3h.8M425.6 70.2h.8M446.6 65.8h.8M450.8 68.9h.8M450.3 70.9h.8M429 74.9h.8M465.1 75.3h.8M444.4 60.2h.8M444.6 69.5h.8M431.2 58.7h.8M445.9 75h.8M449 82.3h.8M417.3 70.8h.8M440 77.4h.8M440.4 64.2h.8M439.8 71.9h.8M431.7 64.9h.8M443.7 74.4h.8M437.7 72.1h.8M434.5 67.5h.8M442.8 74.9h.8M460.1 69.4h.8M445.8 80.5h.8M450.9 67.9h.8M445.9 61.8h.8M415.1 64.6h.8M432.1 61.9h.8M453.3 67.4h.8M441.7 70h.8M438.3 63h.8M464.7 59.3h.8M440.1 73.4h.8M438.2 68.9h.8M444.4 71h.8M436.4 75.4h.8M446.6 78h.8M442.1 58.6h.8M420.5 66.1h.8M446.5 60.7h.8M433.6 76.2h.8M444.9 65.7h.8M439.3 70.1h.8M435.6 67.7h.8M432.9 70.5h.8M459.8 78.2h.8M425.1 81.9h.8M439.5 61.8h.8M422.5 69.8h.8M443.6 66.1h.8M476.5 74.2h.8M481.2 77.5h.8M482.6 66.4h.8M477.4 76h.8M481.7 77.9h.8M473.4 80.7h.8M474.7 74.3h.8M478 73.3h.8M476.6 78h.8M483.6 76.3h.8M474.4 72.7h.8M479.8 76.5h.8M477.6 74.1h.8M491.8 75.2h.8M478.7 66.1h.8M476.7 80.9h.8M483.9 70.7h.8M483.6 75.6h.8M476.5 77.9h.8M477.4 73.9h.8M480.2 75.8h.8M478.1 76.1h.8M480.1 75.7h.8M481.8 72.7h.8M474 74.8h.8M485.6 76.2h.8M481.1 72.3h.8M475 70.5h.8M476 73.7h.8M473.2 74.6h.8M473.1 77.4h.8M480 68.7h.8M477.6 75.9h.8M481.8 77.8h.8M478.5 74.5h.8M479 77h.8M477 74.4h.8M480.7 73.8h.8M475.3 79.9h.8M482.3 71.7h.8M488.8 72.3h.8M476.2 73.7h.8M482.5 80.4h.8M486.2 77h.8M480.4 77.4h.8M476.6 72.5h.8M482.4 75.8h.8M481.1 71.3h.8M481.2 69.8h.8M484.2 75.1h.8M477.2 73.3h.8M492.5 86.4h.8M477 80h.8M467.2 79.1h.8M480.2 76h.8M475.8 70.3h.8M481.1 73.4h.8M482.3 78.9h.8M479.6 77h.8M480.9 75.9h.8M477.8 75.9h.8M482 75.3h.8M478.1 69.8h.8M475.3 80.7h.8M484.6 76.1h.8M481.4 74.5h.8M483.1 78.5h.8M479 76.1h.8M484.3 69.3h.8M475.9 73h.8M474.9 73.4h.8M476.3 73.6h.8M482.2 70.8h.8M480.5 80h.8M480.9 70.6h.8M477.4 79.3h.8M478.9 72.8h.8M483.6 72.4h.8M475.1 77.2h.8M480.2 72.7h.8M482.2 79h.8M484.9 75.4h.8M482.1 76.8h.8M473.5 81h.8M477.2 73h.8M476.4 71.5h.8M485 75.1h.8M477.5 68.4h.8M480.8 74.8h.8M475.5 74.7h.8M472 77.4h.8M474.7 76.8h.8M480.5 67.4h.8M475.1 72.7h.8M483.6 77.2h.8M482.9 81.1h.8M478.8 73.2h.8M471.8 71.3h.8M482.6 72h.8M476.2 78.5h.8M469.2 80.1h.8M485.8 68.5h.8M482.2 75h.8M484.1 73.8h.8M479.6 80.1h.8M477.5 76.5h.8M482.9 74.6h.8M484 76.9h.8M483.8 68.9h.8M475.5 76.1h.8M485.3 80.2h.8M480.2 72.3h.8M475.3 68h.8M477.9 77.1h.8M479.8 69.7h.8M479.7 75.2h.8M476.8 80.3h.8M482 79h.8M480.5 71.5h.8M484.9 79h.8M477.5 70.2h.8M483.7 73h.8M475 74.7h.8M482.5 72.3h.8M480.3 78.6h.8M483.4 69.4h.8M483.3 81.5h.8M484.2 74.7h.8M481.7 69.3h.8M477.5 73.2h.8M489.3 75h.8M475.8 81.2h.8M485.5 69.1h.8M479.2 68.9h.8M484.7 66.8h.8M488.3 71.2h.8M475.5 82.7h.8M482.5 76.3h.8M483.9 71.5h.8M484 74h.8M482.4 75.9h.8M486.2 70.4h.8M474 77.4h.8M490.5 77h.8M479.4 77.5h.8M474.8 75.4h.8M472.7 75.5h.8M483.3 81.2h.8M477.9 78.4h.8M486 71.2h.8M478.9 68.3h.8M476.2 76.6h.8M471.2 74h.8M483.3 80.2h.8M469.1 76.4h.8M477.4 66.7h.8M475.6 77.2h.8M480 77.6h.8M478.8 77.4h.8M475.8 71.5h.8M479.4 68.7h.8M485.5 74.1h.8M475.8 71.9h.8M475.8 75.5h.8M478.5 78.2h.8M475 74.8h.8M473.5 73.3h.8M486.1 74.6h.8M484 74.8h.8M475.3 71.8h.8M475.1 76.3h.8M481.1 85.7h.8M487.4 78.1h.8M475.8 75.5h.8M476.1 83.6h.8M476.9 79.3h.8M474.2 77.8h.8M474.7 73.3h.8M480.8 75.5h.8M479.8 74.8h.8M476.3 74.6h.8M479.8 71.6h.8M482.6 75.7h.8M476.8 79.8h.8M477.6 68.1h.8M485.6 73.7h.8M486.5 76.6h.8M476.2 79.1h.8M482.1 78.4h.8M480.3 80.7h.8M484.2 73.8h.8M473.5 74.9h.8M480.4 71.4h.8M479.2 80.5h.8M478 79.1h.8M476 71.5h.8M484.2 74.4h.8M481 78.8h.8M487.2 70.5h.8M482.6 75.9h.8M480.7 81.6h.8M479 72.9h.8M482.3 67.6h.8M481.7 71.8h.8M481.5 72.3h.8M482.3 74.1h.8M476.9 77h.8M483.4 69.2h.8M474.4 74.1h.8M478.4 79.9h.8M487 76.8h.8M484.9 73.8h.8M474.1 76.1h.8M472.3 81h.8M481.2 79.3h.8M477.2 69.1h.8M479.2 76.8h.8M479.1 73.2h.8M480.4 74.3h.8M486.2 70.2h.8M470.3 74.7h.8M481.3 69.4h.8M479.9 76.6h.8M481.5 76.1h.8M476.8 69.7h.8M484.3 73.7h.8M474 80.7h.8M483.3 64.8h.8M491.4 75.6h.8M473 78.5h.8M481.5 79.6h.8M480.1 68.9h.8M479.3 73.5h.8M481.3 74.3h.8M482.5 70.6h.8M477.6 73.1h.8M481.9 68.8h.8M480.1 83.8h.8M472.1 78.8h.8M480.5 78.7h.8M480.3 76h.8M481.7 76.7h.8M474.8 74.5h.8M488.1 80.2h.8M476.3 71.6h.8M479.3 78.9h.8M484.1 72.9h.8M469.6 74.8h.8M472.7 79.4h.8M486.6 77.5h.8M482.7 77.1h.8M488.2 79h.8M486.4 70.8h.8M477.8 75h.8M470.2 74h.8M480 74.8h.8M491.2 74.3h.8M479.2 74.6h.8M478.5 69.8h.8M485 75.1h.8M481.6 75.1h.8M476.6 69.2h.8M478.8 77h.8M479.5 77.7h.8M476.6 73.9h.8M480.7 74.6h.8M480.8 80.3h.8M478.2 75.5h.8M477.2 77h.8M481 72.3h.8M475.6 70.6h.8M478.8 75.6h.8M477.9 74.6h.8M480.6 83.6h.8M485.2 83.5h.8M480.6 75.8h.8M488.6 76.4h.8M482.9 73.2h.8M477.6 77.9h.8M477.4 72.6h.8M473.4 76.1h.8M479.6 77h.8M476.2 70.5h.8M484.9 75.1h.8M483.5 70.8h.8M474.3 65.7h.8M481.3 78.6h.8M485.9 81.5h.8M472 71h.8M477.7 72.1h.8M479.1 72.1h.8M473.5 74.9h.8M480.6 72.2h.8M480.2 70.2h.8M478.6 73.8h.8M478 74.7h.8M474.4 70.1h.8M476.3 77.7h.8M475.8 71.6h.8M488.8 74.1h.8M478.3 71.8h.8M486.5 76.9h.8M481.2 80.9h.8M474.7 68.8h.8M484.9 76.6h.8M477.7 77.9h.8M479.6 82.2h.8M474.4 76.3h.8M484.3 78.3h.8M478.4 73.5h.8M478.1 77.5h.8M478.2 74.5h.8M484.5 74.6h.8M481.1 74.5h.8M480 66.9h.8M475.9 76.4h.8M477.2 72.7h.8M480.2 83.4h.8M476.6 71.5h.8M472.1 76.7h.8M479.8 71.9h.8M478.2 78.6h.8M484.5 76.4h.8M485.1 78.7h.8M478 77.9h.8M480.7 77.8h.8M481.2 82.9h.8M474.4 76.3h.8M475.2 83.5h.8M477.7 73.7h.8M479.9 74.8h.8M487.6 74.8h.8M481.1 78.9h.8M486.7 71.5h.8M481.3 70.1h.8M482.2 80.2h.8M477.7 74h.8M485.3 76.6h.8M483.6 73.3h.8M478.6 73.6h.8M486.9 69.5h.8M477.7 80.7h.8M479.7 71h.8M481 74.2h.8M479.5 76.8h.8M483.5 69.5h.8M480.9 80.5h.8M474.1 74.6h.8M474.9 77.5h.8M476.2 73.8h.8M478.2 76.7h.8M474.2 69.8h.8M480.8 80h.8M477.8 76.5h.8M481.2 75.4h.8M479.9 73h.8M478.9 79.4h.8M482 79.7h.8M476.8 75.4h.8M477.1 70.1h.8M484 74h.8M481.1 69.8h.8M478.9 74.5h.8M478.3 78.8h.8M482 75.5h.8M481 73.4h.8M476.8 74h.8M475.5 74.4h.8M479.5 79.2h.8M478.1 84h.8M477.7 75.5h.8M479.9 72.7h.8M479.7 68.4h.8M484.9 72.9h.8M479.9 68.3h.8M482.5 70.2h.8M486 71.1h.8M476.7 77.5h.8M485.6 67.7h.8M472.5 81h.8M481.9 69.4h.8M478.1 77.6h.8M478.3 80.6h.8M476.8 75.6h.8M485.1 80.5h.8M481 77.2h.8M478.5 74.8h.8M477.4 76.4h.8M483.7 71.3h.8M474.8 75.2h.8M488.8 75.8h.8M480.6 74.8h.8M472.6 72.4h.8M486.6 67.2h.8M487.9 70.5h.8M489 84.8h.8M486.6 74.5h.8M482.6 72.9h.8M478 75.8h.8M466.1 77.1h.8M478.6 70.9h.8M478.7 77.4h.8M476.6 76.3h.8M474 75.3h.8M474.9 77.9h.8M475.4 77.3h.8M471.2 75.6h.8M484.8 71.9h.8M480.2 71.8h.8M482.1 77.8h.8M485 80h.8M485.7 72.3h.8M480.5 77h.8M480.8 70.1h.8M488.9 84.5h.8M480.2 65.3h.8M488 74.3h.8M489.9 71.1h.8M482.3 78h.8M473.6 73.7h.8M482.1 77.5h.8M481.7 65.2h.8M469.4 76.4h.8M487 69.2h.8M481.7 78.5h.8M475.7 69h.8M481.1 73.3h.8M479.5 74.2h.8M479.4 76.2h.8M477.6 74.9h.8M477.5 71.7h.8M481.5 71.9h.8M482.3 74.9h.8M484.7 77.2h.8M471.1 74.9h.8M482.9 75.4h.8M480.1 79.1h.8M482.9 69.9h.8M480.4 78.8h.8M480.6 70.2h.8M483.4 77.3h.8M485 75.6h.8M480.5 78.2h.8M475.1 81.4h.8M481.7 75.8h.8M483.3 78h.8M470.2 78.5h.8M479.5 72h.8M483.9 78.5h.8M481.6 72.6h.8M480.4 71.4h.8M491.1 72.5h.8M483.8 81.1h.8M476.2 73h.8M470.1 74.1h.8M474.1 75.6h.8M479 75h.8M480.1 73.2h.8M480.4 74.7h.8M476.8 73.8h.8M477.4 70.1h.8M479.8 68h.8M482.3 74.9h.8M480.7 79.3h.8M484.2 73.3h.8M481.5 79.5h.8M479.3 76.4h.8M481.8 71.1h.8M481.2 73.5h.8M478.8 76.6h.8M482.8 71.6h.8M478.8 74.2h.8M475.8 76.4h.8M479 72.3h.8M484.1 74.7h.8M474.8 74.6h.8M479.1 76.1h.8M489.9 77.1h.8M486.3 74.3h.8M482 76.9h.8M479.5 75.9h.8M478 77.6h.8M476 81.4h.8M463.6 69.8h.8M479.4 76.4h.8M480.6 68.9h.8M481.8 71.7h.8M480.8 73.4h.8M478.7 69.3h.8M474.2 72.9h.8M475.2 75.9h.8M473.8 75.8h.8M482.4 72.2h.8M475.7 73.7h.8M483.4 80.2h.8M489.4 75.3h.8M482.7 75.7h.8M479.9 70.9h.8M478.4 79.2h.8M486 72.7h.8M472.8 82.1h.8M480.1 76.7h.8M479.2 68.2h.8M481.3 71.3h.8M478.7 72.6h.8M478.8 84h.8M486.6 67.6h.8M473.1 73.1h.8M477 77.9h.8M486.8 72.2h.8M482.4 74.2h.8M471.2 79.4h.8M487.6 71.9h.8M482.7 73h.8M479.5 73.3h.8M479.3 75.2h.8M477.2 76h.8M474.2 78.1h.8M475.7 68h.8M483.6 73.7h.8M477.6 78.4h.8M479.8 82.3h.8M481.8 69.6h.8M477.7 72.5h.8M478.7 81.3h.8M491.9 81.4h.8M481.9 77h.8M480.7 66.7h.8M486.1 82.5h.8M477.6 74.9h.8M476.8 74.2h.8M476.1 70.7h.8M485.3 67.6h.8M484.5 70.7h.8M478.8 67.4h.8M482.8 71.2h.8M490.9 71.5h.8M481 77.5h.8M475.6 71.9h.8M475.2 77.1h.8M481.2 78.8h.8M473.6 71.5h.8M479.4 73.3h.8M481.3 79.2h.8M480.5 72h.8M479.8 72.3h.8M477.1 82h.8M482.9 81.9h.8M479 74.7h.8M474.4 75.9h.8M483.1 77.6h.8M474.8 75.4h.8M484 73.2h.8M483 73.1h.8M479.9 72.8h.8M473.4 71.8h.8M480.7 73.9h.8M479.9 72.8h.8M483.8 74.3h.8M481.7 73.2h.8M485.7 74.6h.8M481.9 83.3h.8M481.8 69.1h.8M477 76.2h.8M474.1 69.4h.8M479.4 69h.8M484.7 76.6h.8M478.6 79.5h.8M476.9 70.5h.8M483.9 75.1h.8M478.9 78.9h.8M479.3 77.4h.8M480.9 79.4h.8M482.4 73.2h.8M486.6 73.6h.8M487.6 70.2h.8M480.2 66.6h.8M482.2 80h.8M478.2 76.8h.8M479 80.4h.8M481.4 76.3h.8M484.8 69.3h.8M483 75.5h.8M485.7 75.1h.8M482.6 74.8h.8M475.6 73.1h.8M479.2 70h.8M479.8 73.2h.8M488 74.1h.8M480.5 75.3h.8M483 68.9h.8M472.3 81h.8M476.3 71.6h.8M485.1 76.1h.8M476.4 77.8h.8M475 81.1h.8M478.6 76.3h.8M479.9 82.2h.8M475.8 74.6h.8M489.4 67.3h.8M477.8 76h.8M479 76.7h.8M485.1 70.7h.8M477.1 80h.8M488.6 64.9h.8M482.4 78.7h.8M477 71.7h.8M475 74.2h.8M474.9 77.7h.8M477 76.9h.8M473.1 78.3h.8M482.9 78.6h.8M481.2 83.7h.8M484.2 75.2h.8M487.1 73.7h.8M480.7 81.2h.8M478 75h.8M481.1 75.7h.8M479 78.8h.8M489.5 73.5h.8M473.5 73.2h.8M473.9 70.2h.8M475.4 79h.8M480.7 77.7h.8M479.5 78.8h.8M478.2 79.9h.8M483.9 75.8h.8M473.5 70.9h.8M481.1 71.1h.8M479.3 74.4h.8M486.1 72.4h.8M480.6 73.3h.8M476.7 76.6h.8M484.3 69.6h.8M486.6 83.4h.8M480.7 77h.8M475.4 73.5h.8M481.4 74.7h.8M486.1 71.7h.8M478.9 77h.8M479.7 74.1h.8M479.5 76.5h.8M471.5 84.8h.8M483.3 71h.8M476 70.8h.8M481.9 68h.8M490.8 72.9h.8M473.8 82.8h.8M480 76.9h.8M479.2 74h.8M489.1 67.6h.8M481.1 72.2h.8M478.5 74.8h.8M471.9 77.3h.8M480.9 77.1h.8M477.4 77.8h.8M478 77.9h.8M485.9 77.3h.8M473.7 75.3h.8M475.5 82.3h.8M480.9 70.2h.8M473.3 80h.8M475.6 76.5h.8M478.6 74.5h.8M478.1 75h.8M487.1 71.7h.8M482.3 76.8h.8M477.1 70.9h.8M476.1 77.2h.8M480.7 78.9h.8M481.6 75.4h.8M480.1 75.9h.8M480.2 77.5h.8M476.2 79h.8M487.2 74.7h.8M482.5 70.6h.8M480.5 69.6h.8M484.4 75.2h.8M484.8 79.2h.8M476.8 78.1h.8M486.8 83.3h.8M479.6 77.1h.8M477.2 77.4h.8M482.7 80.4h.8M479.4 75.2h.8M482.2 74.4h.8M489.1 66.7h.8M472.5 73.1h.8M483.1 75.1h.8M481.9 69.4h.8M482.6 77h.8M487.2 78.1h.8M477.3 72.3h.8M475 73.2h.8M479.6 79.7h.8M487.3 75.3h.8M482.7 74.4h.8M474.3 77h.8M476.8 69h.8M476.3 80.6h.8M474.9 80.1h.8M474 74.8h.8M482.3 73.5h.8M475.8 75h.8M487.4 77.5h.8M480.9 77.2h.8M485.3 80h.8M478.8 71.7h.8M475.7 75.3h.8M478.7 75h.8M477.3 84.3h.8M477 80.3h.8M476.2 72.1h.8M474.9 71h.8M472.8 71.9h.8M479 77.6h.8M472.2 76.7h.8M479.5 75h.8M470.5 76.8h.8M483 79.3h.8M478.7 79.6h.8M480.3 71.6h.8M482.3 78.7h.8M481.1 74.9h.8M478.9 77.5h.8M472 76.1h.8M474.3 73.1h.8M480.9 79.6h.8M480 71.6h.8M492.1 76.2h.8M468.1 74.7h.8M476.8 72.8h.8M484.7 82.9h.8M480.5 70h.8M483.9 75.4h.8M478.2 75.8h.8M474.9 75.7h.8M481.6 79.4h.8M488.9 72.7h.8M481.7 72.1h.8M480.6 79.3h.8M482.9 73.9h.8M488 78.3h.8M485.5 75.3h.8M486 74.5h.8M483.9 75.2h.8M480 69.3h.8M484.4 77.2h.8M477.3 75.3h.8M482.7 77.4h.8M470.8 80.6h.8M475.5 82.1h.8M485.1 75.6h.8M480.9 76.1h.8M478.2 80.7h.8M477 73.1h.8M479 69.1h.8M484.7 70.6h.8M486.8 78.6h.8M489 72.8h.8M478.7 73.4h.8M483.6 71.7h.8M478.6 66.4h.8M480.2 75.8h.8M488.9 71.9h.8M484.4 77.2h.8M484 70.9h.8M464.4 73.2h.8M484.4 75.7h.8M486.5 83.1h.8M476.9 73.5h.8M486.9 68.8h.8M468.8 76h.8M481.5 80.7h.8M483.3 74.9h.8M477.5 68.2h.8M482.4 72.7h.8M478.3 76.2h.8M470.9 74.7h.8M477.2 82.5h.8M479.5 79.3h.8M475.6 69.1h.8M484 73.7h.8M474 79.1h.8M482.3 68.6h.8M479 82.5h.8M480.5 69.9h.8M476.3 80.3h.8M486.8 77.6h.8M473.2 78.2h.8M476.3 73.1h.8M477.8 79.1h.8M482.4 77.2h.8M478 73.1h.8M484.9 72.7h.8M478.8 77.1h.8M479.2 78.8h.8M482.6 77.5h.8M490.5 73h.8M489.6 70.2h.8M476.5 65.6h.8M477 72h.8M483.3 79.8h.8M490.6 73h.8M484.9 74.3h.8M471.6 59.2h.8M478.4 67.6h.8M484 71.5h.8M483 72.5h.8M482.2 71.4h.8M481.9 82h.8M481.7 69.8h.8M476.5 75.5h.8M483.7 70.3h.8M475.9 68.8h.8M488.1 76.1h.8M481.5 73.3h.8M488.8 77.2h.8M479.6 79.7h.8M482.7 73.9h.8M478.4 75h.8M486.4 69.6h.8M472.5 77.6h.8M484.9 80.6h.8M482.7 69.3h.8M483.8 75.7h.8M475.4 68.9h.8M473 75.3h.8M474.2 76.4h.8M479.3 77.5h.8M484 71.5h.8M478.3 77.9h.8M477.1 78.9h.8M482.8 78.5h.8M477.3 78h.8M479.1 75.9h.8M482.9 72.9h.8M479.8 65.8h.8M476.9 77.4h.8M475.1 66.9h.8M473.5 73.9h.8M483.1 77.1h.8M473.6 76.6h.8M474.5 79.2h.8M481.8 72.6h.8M477.9 74.7h.8M477.4 79.5h.8M481.4 72.8h.8M482.1 69.7h.8M480.8 73.7h.8M477.4 74.8h.8M481.1 69.3h.8M481.7 86.4h.8M483.6 72.7h.8M481.7 81.4h.8M475.2 81.4h.8M478.4 82.3h.8M476.3 79h.8M477.5 79.9h.8M484.1 76.3h.8M476.3 79h.8M481.7 70.8h.8M482.5 74.3h.8M479.5 71.2h.8M481 78.3h.8M476.3 78.1h.8M471.9 75.4h.8M481.2 71.3h.8M480.7 69.9h.8M488.4 76.5h.8M484.9 71.4h.8M469.9 74.7h.8M486 74.4h.8M485.2 76.5h.8M481.5 79.1h.8M477.4 73.4h.8M484.9 76.8h.8M477.6 70.8h.8M486.7 62.5h.8M484.1 74.4h.8M474.3 76.6h.8M482.2 83.8h.8M481.3 65.2h.8M475.9 77.9h.8M477.9 74.8h.8M479.7 80.5h.8M481.5 74.4h.8M477.2 78.9h.8M477 76.6h.8M481.9 77.9h.8M483.5 76.1h.8M488.7 78h.8M476.7 71.5h.8M477 80.1h.8M475.2 81.1h.8M481.9 72.7h.8M475.7 74.6h.8M483.4 74.7h.8M483.2 75.6h.8M486 73.1h.8M479.5 70.6h.8M478.6 71.1h.8M473.4 74.1h.8M483 66.3h.8M474.5 69.6h.8M481.6 77.2h.8M481.4 74.3h.8M476.7 75.7h.8M476.2 74.1h.8M481.8 74h.8M485.2 66.6h.8M473.1 78.9h.8M477.6 73.2h.8M477.6 74.8h.8M479.3 76.4h.8M484 82.2h.8M470.8 74.6h.8M476.2 75.8h.8M475.7 75.3h.8M481.2 74.8h.8M481 77.5h.8M475.4 74.8h.8M484.6 78.6h.8M484.3 71.8h.8M477.1 78.8h.8M480 76.1h.8M478.5 78.5h.8M480.8 71.2h.8M481.6 73.6h.8M478.9 77.2h.8M480.7 72.8h.8M475 73.3h.8M479.4 70.4h.8M477.3 84h.8M477.3 75.2h.8M474.7 73.7h.8M481.1 75.6h.8M472.7 75.1h.8M475.8 79.2h.8M479.6 81.1h.8M481.6 70.5h.8M484.1 73.1h.8M479.5 75.4h.8M474.4 79.5h.8M480.7 71h.8M474.1 76.8h.8M485.3 76.6h.8M481.4 73.4h.8M484.8 77.1h.8M476.6 72.6h.8M470.7 79.4h.8M493 74.5h.8M481.9 77.9h.8M479.1 83.3h.8M475.6 71.8h.8M487 78.5h.8M483.3 74.6h.8M479.8 75.6h.8M481.9 72.7h.8M484.5 81.7h.8M477.7 71.3h.8M480.6 84.5h.8M475.9 80.2h.8M477.1 72.1h.8M484.7 74.3h.8M479.8 77.7h.8M484.9 75.9h.8M486.7 72.4h.8M477.8 77.6h.8M482.8 68.3h.8M478.7 77.7h.8M479.3 81.9h.8M473.2 75.8h.8M476.4 68.9h.8M479 74.8h.8M478.2 72.6h.8M483.7 71h.8M477.3 69.6h.8M485 69.4h.8M487.5 71.5h.8M479.8 81.3h.8M475.4 80.1h.8M474.4 73.3h.8M482.4 76.3h.8M481.5 76.2h.8M486.8 68.8h.8M477 78.4h.8M473.7 72.4h.8M490.6 80.2h.8M482.2 75.4h.8M479.3 71.7h.8M476.2 71.3h.8M474.5 75.6h.8M481.8 71.4h.8M480.6 70h.8M481.6 73.8h.8M479.7 75.8h.8M485.7 75.9h.8M477.2 75.7h.8M481.7 77.1h.8M484.6 71.9h.8M474.8 77.5h.8M475.1 76.8h.8M491.8 79.8h.8M473.6 71.9h.8M481.7 74h.8M483 76h.8M481.5 77.2h.8M473.2 79.5h.8M473.9 71.7h.8M469.5 75.1h.8M481.8 73.6h.8M474.8 66.7h.8M482.4 70.6h.8M478.4 76h.8M479.7 76.6h.8M487.2 77.8h.8M475.6 74.9h.8M479 71.8h.8M482.9 73.6h.8M481 77.5h.8M489.2 72.7h.8M483.2 83.3h.8M487 76.2h.8M476.8 75.7h.8M477.3 73.5h.8M472.5 74h.8M471.3 78.9h.8M482.3 73.5h.8M480.2 75.5h.8M478.9 76.2h.8M479.2 76.8h.8M476.5 75.4h.8M487.4 72h.8M476.5 78.7h.8M481.4 75.7h.8M480.8 73.5h.8M477.7 77.1h.8M480.8 77.6h.8M482 83.7h.8M480.4 80.5h.8M480.7 83.8h.8M484.3 72.2h.8M487 72.9h.8M484.5 72.2h.8M481.6 75.7h.8M486.3 66.8h.8M471.6 78.9h.8M483.3 73.2h.8M480.5 68.4h.8M478.4 72.6h.8M483.9 76.1h.8M479.3 79.6h.8M477.2 78.1h.8M479 76.9h.8M478.7 80.5h.8M478.1 82.9h.8M483.5 72h.8M478.1 80.3h.8M486.5 70.5h.8M480.8 77.6h.8M490.5 77.7h.8M479.2 78.7h.8M480.4 71.9h.8M479.9 74.3h.8M479.1 75.5h.8M481.6 72.2h.8M483 69.1h.8M483 77.1h.8M481.9 69.4h.8M477.8 76h.8M482.1 78.1h.8M473.3 75.3h.8M484.8 70.7h.8M474.7 73.4h.8M478.9 74.2h.8M485.5 76.3h.8M471.6 78.2h.8M480.5 78.5h.8M479.9 80.5h.8M480.7 73.3h.8M474.8 78.8h.8M479.4 68.5h.8M483.8 80.2h.8M470.9 77.4h.8M482.9 81.8h.8M485.4 72.4h.8M482.1 78.1h.8M473.6 80.8h.8M482.2 78.5h.8M476.1 78.4h.8M479.8 74.1h.8M480.2 76.6h.8M473.4 75.3h.8M481.7 69h.8M487.5 85.1h.8M483 75.3h.8M475.5 71h.8M474.6 78.7h.8M476.2 76h.8M478.1 78.7h.8M485.7 78.8h.8M483 79.4h.8M487.6 71.9h.8M481.2 72.8h.8M480.3 74.4h.8M480.6 78h.8M474.3 65.3h.8M481.2 79.3h.8M478.3 80.9h.8M490 75.5h.8M479.1 77.3h.8M483.4 69.5h.8M482.2 67.4h.8M475.3 76.2h.8M481.4 70.7h.8M480.2 80.2h.8M472.8 77.5h.8M485.6 70.1h.8M485.3 77h.8M478.7 75.4h.8M479.9 75.4h.8M479.1 72.5h.8M484 81.8h.8M479.2 80.7h.8M476.6 70.4h.8M482.8 76.2h.8M482 71.6h.8M478.3 79.2h.8M487.1 76.3h.8M481.7 65.2h.8M477.2 80.3h.8M488.4 72.1h.8M468.9 77.3h.8M474.3 73.7h.8M477.4 73.9h.8M475.8 77.8h.8M481.4 70.3h.8M473.1 83.3h.8M482.5 76.1h.8M472.5 83.6h.8M475.4 75.8h.8M481.5 72.5h.8M480.6 73.6h.8M470.9 70h.8M477.3 73.3h.8M481.9 81.7h.8M479 83.7h.8M478.1 75.7h.8M479 68.8h.8M479.7 74.5h.8M476.3 78.2h.8M481.8 74.1h.8M476.1 76.5h.8M476.4 72h.8M477.8 79h.8M478.7 74.7h.8M478.5 77.6h.8M479.3 78.5h.8M479.3 78.6h.8M478.7 72.5h.8M481.8 74.6h.8M478 80.9h.8M477.8 72.3h.8M478.5 80.9h.8M474.1 79.8h.8M482.2 73.8h.8M478.5 72.5h.8M471 71.8h.8M473.8 69.2h.8M478 77.6h.8M475.8 74.1h.8M476.5 74.6h.8M481.6 80h.8M482.5 76.8h.8M485.9 78.1h.8M482 77.5h.8M483.5 71.4h.8M476 75.7h.8M472.1 74.3h.8M478.4 76.6h.8M482.9 80.4h.8M469.5 76.2h.8M481.3 80.9h.8M477.1 77h.8M479.2 71.7h.8M480.9 79.1h.8M478.3 75.7h.8M484.6 74.6h.8M478.4 76.5h.8M481.8 76.9h.8M485.2 77.1h.8M474.6 69.1h.8M479.4 81.8h.8M480 73.7h.8M481 77.4h.8M485.2 70.4h.8M483.2 76.1h.8M483.4 79.5h.8M470 78.9h.8M482 72.3h.8M479.2 79.4h.8M473.2 78.8h.8M483.3 82.1h.8M476.1 73h.8M484.2 74.3h.8M481.6 65.3h.8M490.3 68.2h.8M472.6 77.3h.8M482 72.2h.8M470.1 77.5h.8M480.8 71.8h.8M480.3 73.1h.8M475.3 78.1h.8M479.8 75.5h.8M474.3 72.6h.8M478.5 73h.8M481.3 75.5h.8M478.8 74.7h.8M481.5 79.3h.8M475 79.1h.8M483.7 78.4h.8M477.3 76.2h.8M489 70.2h.8M483.4 74.4h.8M487 75.9h.8M483.5 73h.8M477.6 81.6h.8M474.2 73.3h.8M478.6 70.5h.8M482.5 70.6h.8M479.9 74.4h.8M470.1 75.9h.8M473 75.5h.8M469.5 73.3h.8M483.3 76.4h.8M484.7 81.7h.8M483 74.6h.8M479.2 77.8h.8M474.3 71.3h.8M479.7 82.1h.8M474.9 76.3h.8M476.6 78.1h.8M481.3 75.2h.8M483.7 74.4h.8M472.4 83.5h.8M479.3 76.6h.8M483.2 72.2h.8M477.7 72.4h.8M482.3 76.9h.8M480.6 70.3h.8M476.1 69.7h.8M473.8 72.5h.8M481 77.3h.8M471.9 77.8h.8M481.3 81.5h.8M483.5 69.5h.8M481.9 76.3h.8M481.2 72.5h.8M486 75.7h.8M477.2 68.3h.8M478.6 70h.8M473.3 81.7h.8M479.4 79.1h.8M484.6 78.2h.8M477.9 70.8h.8M479 75.8h.8M479.1 74.2h.8M480.4 69.7h.8M484.4 70.7h.8M480.3 71.9h.8M485.7 73.2h.8M475.7 73.9h.8M483.6 70.5h.8M474 73.3h.8M483.1 63.9h.8M483.8 84.2h.8M479 79h.8M479.2 68.1h.8M477.8 77.7h.8M474.8 74.2h.8M476.8 76.9h.8M490.6 75.6h.8M474 81.8h.8M478.4 73.7h.8M481.9 78.3h.8M480.7 76.7h.8M480.5 70.6h.8M483.2 78.7h.8M476.3 68.5h.8M477.1 76h.8M486 76.2h.8M465.4 72.9h.8M480 76.3h.8M473 73.9h.8M480.4 78h.8M483.3 81.8h.8M476.7 73.6h.8M477.8 77.3h.8M488.6 76h.8M478.9 69.3h.8M467.1 86h.8M476.8 83.8h.8M484.3 71.9h.8M479.6 69.4h.8M482.7 74.1h.8M484 82.7h.8M472.7 80h.8M481.1 71.7h.8M479.8 82.7h.8M478.9 81.1h.8M480.4 82.9h.8M476.5 72.9h.8M482.7 60.8h.8M473.3 84.5h.8M471.5 86.5h.8M490.8 71.9h.8M471.4 77.4h.8M485 85.9h.8M490.1 70.6h.8M484.7 71.8h.8M486.4 77.9h.8M489.4 74.5h.8M484.4 67.1h.8M469.6 78.2h.8M478.5 80.5h.8M496.5 71.1h.8M467.9 68.4h.8M472.5 82.2h.8M480.8 73.1h.8M483.2 73.9h.8M479.8 74.9h.8M466.5 80h.8M479.1 88.8h.8M478.5 71.2h.8M479.1 70.4h.8M477.4 72.6h.8M480.4 69.2h.8M476.8 72.4h.8M469.6 74.5h.8M483.4 79.5h.8M480.3 74.2h.8M485.5 73.2h.8M483.2 64.1h.8M467.8 70.4h.8M487.1 73.3h.8M481.5 68.1h.8M465.2 92.4h.8M491.3 85.9h.8M477.8 70.8h.8M479.8 73.4h.8M473.9 59.4h.8M479.6 61.1h.8M473.5 65.3h.8M494.3 66.9h.8M474.5 77.2h.8M475.1 76.4h.8M485.4 70.9h.8M482 74.1h.8M466.9 76.7h.8M468.8 81.4h.8M477.8 76h.8M486 69.7h.8M471.2 83.9h.8M483.8 77.6h.8M461.2 75h.8M469.9 71.1h.8M464.2 64.6h.8M474.1 77.2h.8M473.6 73.7h.8M478.4 83.3h.8M472.9 75.7h.8M500.8 74.7h.8M484.6 67.4h.8M469 72h.8M503.5 70.9h.8M489.6 71.7h.8M467.3 63.1h.8M479.2 81.5h.8M471.2 72.3h.8M468.5 70.2h.8M486.4 71.4h.8M469 78.7h.8M480.1 74.5h.8M495.2 76.7h.8M487.6 67h.8M477.3 82.8h.8M484.2 80.5h.8M465.4 73h.8M492.1 84h.8M451.8 62.9h.8M489.4 79.8h.8M489.1 57.2h.8M478.6 79.8h.8M488.3 68.7h.8M486.9 79.8h.8M473.5 84.8h.8M488.7 80.4h.8M473.9 76.6h.8M477.7 85.2h.8M498.8 69.4h.8M495.1 77.6h.8M472.1 70.2h.8M491.1 76.8h.8M472.2 73.6h.8M474.6 74h.8M493.4 70.5h.8M475.2 55.7h.8M482.3 80.7h.8M495.6 70.9h.8M475.4 72.3h.8M467.2 74.8h.8M471.2 73.3h.8M479.3 79.5h.8M478.5 89.9h.8M480.8 78.1h.8M482.4 74.2h.8M486.3 75.7h.8M466.3 71.4h.8M490.8 64.6h.8M493.2 75.5h.8M480.2 82.6h.8M479.9 71.8h.8M459 70.9h.8M467.8 79.1h.8M478.8 68.8h.8M488.2 80.3h.8M497.3 76.4h.8M467.3 75.4h.8M484.6 80.3h.8M466.5 77.7h.8M483.8 77.2h.8M463.9 71.8h.8M477 73.3h.8M485.9 72.3h.8M462 61.4h.8M482.2 69.7h.8M477.6 81.6h.8M473.4 74.5h.8M465.4 67.1h.8M483.1 82h.8M472.3 73.5h.8M480.9 71.9h.8M478.6 72.2h.8M483.2 71.5h.8M473.9 66.1h.8M471.3 65.4h.8M476.8 80.9h.8M466.8 69.3h.8M471.3 77.5h.8M475.4 72.6h.8M469.7 73h.8M474.9 69.6h.8M490.3 77.7h.8M476.6 76.6h.8M498 78.5h.8M473.3 74.4h.8M488 77.5h.8M475.6 75.2h.8M468.2 72.6h.8M474.4 73.1h.8M489.9 74.8h.8M488.1 74.6h.8M464.9 82.2h.8M473.3 73.9h.8M487.6 83.3h.8M479.4 82.5h.8M473.7 78.6h.8M470.1 80.7h.8M473.1 78.7h.8M467.5 83.5h.8M492.2 73h.8M478.6 68.6h.8M476.3 65.6h.8M484.3 74.2h.8M488.2 74.6h.8M476 69.4h.8M483.6 73.8h.8M467.6 65.4h.8M486.4 73.9h.8M477.4 71.2h.8M473.4 74.5h.8M479.7 67.2h.8M499.6 80.2h.8M461.3 75h.8M487.8 70.6h.8M466.1 77.9h.8M472.6 74.5h.8M492.4 74.6h.8M489.6 69.7h.8M462.1 72.2h.8M474.6 78.7h.8M481.9 62.3h.8M468.3 71.9h.8M471.7 70.6h.8M475.1 75.5h.8M464.9 68.8h.8M470 82h.8M476.5 65.4h.8M482.3 80.3h.8M463.9 67h.8M481.9 74.9h.8M483.3 84.4h.8M483.8 80.7h.8M473.8 83.2h.8M471.9 76.6h.8M460.4 72h.8M484.9 68.9h.8M473.9 61.2h.8M475 66.5h.8M478.5 71.6h.8M472 72.5h.8M474.4 74.5h.8M475.7 81.6h.8M487.3 59.1h.8M489.7 73.2h.8M481.1 68.9h.8M483.3 78h.8M473.1 67.6h.8M482.5 77.2h.8M470.1 61.4h.8M468.3 77h.8M489.1 68.5h.8M473.1 67.8h.8M481.1 69.6h.8M492.6 78.1h.8M476.3 72h.8M486.8 72.1h.8M474.7 75.1h.8M487.2 83.2h.8M475 67h.8M470.2 73.4h.8M483.6 58.4h.8M483.7 77h.8M479.8 65.4h.8M478.9 71.3h.8M469.9 78.2h.8M488.9 75.6h.8M483.1 80.6h.8M478.4 71.9h.8M491 70.7h.8M475.5 76.5h.8M474.5 68.6h.8M487.6 74.3h.8M472.2 70.9h.8M483.2 79.4h.8M479.9 81.5h.8M478.1 84.1h.8M486 67.5h.8M477.4 76.4h.8M478.1 68.4h.8M482.3 74h.8M465.4 66.6h.8M474.9 80.1h.8M477.9 75.6h.8M486.4 73.1h.8M478.4 74h.8M486 70.4h.8M481.5 70h.8M479 81.1h.8M471.5 77.4h.8M478.9 75.8h.8M482.7 74.9h.8M482.5 85.4h.8M472.4 67.9h.8M484.6 76.8h.8M495.2 70.7h.8M484.4 71.1h.8M474.2 70.8h.8M471.4 68.7h.8M475.6 73.5h.8M478.8 79.4h.8M470.7 73.9h.8M471 79.5h.8M470.6 72.3h.8M471.7 80.9h.8M468.1 67.5h.8M475 72.3h.8M470.6 81.3h.8M473.7 61.8h.8M476.6 66.5h.8M472.8 71.5h.8M470.8 71.9h.8M475 78.2h.8M499.4 70.2h.8M474.5 81.3h.8M492.5 79.2h.8M476.1 86.1h.8M479 81.7h.8M473.8 67h.8M489.5 69.1h.8M469.6 75.3h.8M470.6 78.5h.8M479 73.2h.8M473.6 83.3h.8M489.8 81.3h.8M467.4 84.4h.8M479.2 84.8h.8M482.7 70.4h.8M464.5 70.4h.8M488.4 71.7h.8M492 66.7h.8M483.7 73.8h.8M466.7 76.7h.8M475 72.7h.8M461 68.4h.8M472.8 73.5h.8M471.4 86.8h.8M474.9 75.7h.8M475.6 82.1h.8M483.1 80.5h.8M465.5 75.4h.8M477.1 78.3h.8M472.7 75.3h.8M470.1 72.3h.8M481.2 71.4h.8M471.2 73.6h.8M481 77h.8M468.4 71.9h.8M468.6 68.4h.8M498 81.8h.8M484.1 72.7h.8M485.4 83.8h.8M488.5 78.8h.8M470 89h.8M484.6 79.7h.8M481.1 76.7h.8M474.9 64.2h.8M493 90.2h.8M482.2 78.6h.8M478.1 79.1h.8M476.9 74h.8M483.4 64.1h.8M489.8 72.1h.8M482.7 78.2h.8M491.5 84.7h.8M467.4 68.7h.8M479.5 64.6h.8M483.3 73.7h.8M471.6 79.6h.8M470.3 70h.8M478 79.7h.8M476.4 72.4h.8M479.7 72.2h.8M462.6 80.1h.8M482.1 81.2h.8M479.1 77.3h.8M464.1 66.2h.8M462 81.6h.8M472.2 82.6h.8M481.6 71.7h.8M477.2 69.7h.8M474.2 76.5h.8M483.6 71.5h.8M464.8 81.4h.8M468.7 78.8h.8M465.2 69h.8M461.3 78.4h.8M481.6 93.3h.8M493.5 75.3h.8M460.7 73.1h.8M480 76.7h.8M479.1 68.4h.8M475.3 85.9h.8M473.3 72.1h.8M467.8 70.7h.8M487.9 76.7h.8M473.5 72.3h.8M484.6 71h.8M471.1 72.6h.8M456.4 81.4h.8M471 79.1h.8M477.7 80.6h.8M473.3 89.4h.8M482.4 73.2h.8M480.3 61.9h.8M468.2 62.1h.8M475.5 87.7h.8M480.6 65.6h.8M464.7 76.8h.8M483 73.2h.8M489.9 76h.8M494.7 79.6h.8M495 58.4h.8M484.1 79.2h.8M490.2 78.1h.8M481.1 76.4h.8M479.4 77.9h.8M491.2 64.7h.8M474 65.6h.8M472.8 76.2h.8M479.2 76.8h.8M483.8 77.1h.8M474.9 73.8h.8M468.8 71.8h.8M476.8 76.8h.8M464.4 81.2h.8M477.1 65.1h.8M476.3 78h.8M478.5 72h.8M470.2 75.8h.8M479 76.3h.8M474.4 81.9h.8M462.4 74.5h.8M463.9 62.7h.8M479.1 79.5h.8M475.2 77.2h.8M476.1 81.4h.8M472.6 77.7h.8M480.3 65h.8M487.4 71h.8M468 70.5h.8M484.7 72h.8M484.1 68.8h.8M479.7 64.1h.8M475.1 82.3h.8M473.1 75.6h.8M462.4 84.5h.8M475.6 77.2h.8M474.3 68.2h.8M474.6 72.5h.8M468.8 73.5h.8M469.3 71.5h.8M453.8 68.6h.8M480.1 75.8h.8M475.5 76.9h.8M491.8 76.6h.8M478.5 73.9h.8M480.3 78.3h.8M458.9 87.1h.8M485.4 77.3h.8M472.4 73.8h.8M471.1 82.5h.8M471.7 64.8h.8M475.6 69.4h.8M479 75.3h.8M470.4 65.2h.8M474.6 66.7h.8M475.8 75.5h.8M474.1 75.4h.8M474 84.3h.8M462.6 68h.8M486.7 67.1h.8M482.5 73.1h.8M477.3 66h.8M473.9 73.6h.8M459.6 74.5h.8M473.6 61h.8M478.6 72.3h.8M464.7 81.3h.8M476.2 67.7h.8M469.8 76.2h.8M472.6 78.6h.8M466.8 76h.8M480.9 77.5h.8M470.4 68.8h.8M467.7 75h.8M460 91h.8M474.9 81.6h.8M474.5 82.3h.8M475 80.4h.8M485.4 76.1h.8M466.7 76.9h.8M478.4 72.6h.8M475.2 78.5h.8M460 77.7h.8M490.4 70.4h.8M487.2 71.7h.8M474.6 72.3h.8M476.9 69.9h.8M472.2 73h.8M469.5 74h.8M485.5 69.5h.8M478.7 69.9h.8M467.6 74.3h.8M474.7 80.3h.8M482.8 74.9h.8M471.7 82.4h.8M466.3 69.9h.8M483 76.8h.8M482.1 73.1h.8M483 81.3h.8M461.3 77.5h.8M485 68.3h.8M469.2 76.5h.8M482.1 74.3h.8M463.7 75.6h.8M476.2 72.1h.8M485.4 61.8h.8M477.9 70.8h.8M481.8 72.5h.8M491.1 75.4h.8M472.6 64.8h.8M474.8 74.1h.8M489.9 76.5h.8M478.5 69h.8M478.7 68.7h.8M465.5 76.9h.8M473.4 66.5h.8M486.4 81.5h.8M480.7 64.7h.8M470.2 68.6h.8M479.1 94.3h.8M484.5 73.7h.8M470.2 66.1h.8M471.1 75.3h.8M475 77.3h.8M481.4 67.6h.8M483.9 74.5h.8M490.2 73.5h.8M474.2 73.6h.8M487.1 77.4h.8M486.7 80.4h.8M479.8 88h.8M476.4 73h.8M486.2 67.5h.8M479.7 80.2h.8M469.8 63.2h.8M465.5 81h.8M497.5 69.1h.8M466.4 66.9h.8M490 78.8h.8M482.7 70.1h.8M482.6 70h.8M481.8 69.9h.8M466.8 71.7h.8M480.6 76.2h.8M472.7 79.7h.8M464.1 62.8h.8M482.1 73.4h.8M476.9 71.6h.8M481.6 75.6h.8M488.6 68.7h.8M466.9 73.5h.8M475.2 72.5h.8M459.6 76.4h.8M491.1 76.4h.8M487.4 77.8h.8M479.5 76.6h.8M486.3 77h.8M482.7 73.9h.8M471.2 76.4h.8M474 77.7h.8M459.1 84.7h.8M488.2 83.2h.8M480.6 68.1h.8M474.1 67.4h.8M480.8 74.4h.8M478.8 63.4h.8M465.1 61.4h.8M489 77.2h.8M477.9 72.2h.8M462.7 72.1h.8M474 69.3h.8M485.8 62.4h.8M478.9 79h.8M484.2 65.4h.8M454.4 82.4h.8M489.3 73.3h.8M475.3 76.3h.8M486.5 75h.8M474.7 75.5h.8M480.7 86.4h.8M477.8 68.8h.8M493.5 83.1h.8M489.9 68.7h.8M472.7 66.2h.8M476.6 82.1h.8M485.5 74.6h.8M479.6 77.2h.8M476.6 68.1h.8M471.9 84.1h.8M469.9 67.6h.8M482.5 72.3h.8M474.9 75.2h.8M476.6 64.6h.8M485.6 75.6h.8M492.1 79.3h.8M473 71.7h.8M471.8 61.3h.8M484 70.3h.8M486.1 75.3h.8M476.9 83.9h.8M470 84.7h.8M474.7 87h.8M487.6 71.2h.8M492.6 76.8h.8M480.8 72h.8M477.5 71.9h.8M475.1 79h.8M484.8 81.7h.8M488 73.9h.8M484.3 72.8h.8M482.8 78h.8M481.2 69.7h.8M468.1 84.4h.8M471.4 70.7h.8M481.3 72.1h.8M481.6 82.4h.8M465.1 74.9h.8M483 66.1h.8M484.2 83.1h.8M478.3 77.2h.8M475.6 80.2h.8M473.8 74.4h.8M472.5 70.1h.8M487.7 74h.8M485.5 65h.8M468.1 69.1h.8M494 81.2h.8M496.7 71.7h.8M483.2 76.5h.8M475.9 77.9h.8M477.9 77.2h.8M463.2 68.2h.8M469.8 84.3h.8M485.4 68.7h.8M482.3 71h.8M468.6 69h.8M503 74.9h.8M477.3 81.7h.8M480.4 67.9h.8M496.1 87.4h.8M484.7 69.4h.8M477.6 75.1h.8M468.8 90h.8M478.2 71.1h.8M475.9 72.5h.8M457 75.2h.8M487.9 75.7h.8M481.8 73.9h.8M463.5 77.9h.8M483.8 68.3h.8M468.6 71h.8M467 59.8h.8M474.7 70.9h.8M479.1 81.4h.8M470.5 65.2h.8M477.2 78.4h.8M490.1 79.9h.8M479.2 74.7h.8M463.6 78.5h.8M484.6 73.9h.8M475.6 76.8h.8M481.8 77.4h.8M481.6 65.4h.8M473.4 64.7h.8M484.7 89.6h.8M471.5 73.6h.8M480.2 70.2h.8M472.1 71.8h.8M474.8 81h.8M464.9 67.6h.8M469.8 69.7h.8M457.3 70h.8M468.7 67.4h.8M460.7 74.8h.8M460.4 74.8h.8M469.3 68.7h.8M455.1 65.7h.8M469.5 73.3h.8M462.5 69.2h.8M468.3 68.8h.8M478.1 72.3h.8M452.6 75.6h.8M463.6 70.8h.8M461 76.2h.8M459.2 77.8h.8M457.5 74.9h.8M453.2 75.1h.8M456.3 69.8h.8M466.5 67.5h.8M465.2 70.9h.8M469.7 74.8h.8M463.5 70.1h.8M456.7 77.1h.8M460.6 65.4h.8M457.3 62.6h.8M456.9 68.9h.8M463.4 74.9h.8M466.9 62.9h.8M459.2 73.5h.8M464 70.8h.8M457.3 74h.8M461.5 69.8h.8M461.3 69.9h.8M463.7 75.7h.8M462.4 68.1h.8M461.3 70.2h.8M464.9 74.2h.8M471.7 74.8h.8M452 67.1h.8M454.5 72.2h.8M475.8 72.9h.8M458.6 76.9h.8M465.6 67.3h.8M456.3 77.3h.8M466.4 61.7h.8M457.5 73.3h.8M453.9 70.8h.8M456.7 63.5h.8M458.9 68.5h.8M463.6 63.3h.8M463.4 69.2h.8M452.5 76.1h.8M459.2 72.7h.8M471.1 72.6h.8M467.4 71.8h.8M458.5 71.7h.8M452.6 73h.8M466.8 72.7h.8M457.9 65.6h.8M457.5 69.6h.8M453.4 79.3h.8M457.1 71.4h.8M459.1 71.4h.8M449.1 66.4h.8M461.7 70.7h.8M464.2 68.5h.8M466.7 71.8h.8M461.6 70.9h.8M468.1 70.7h.8M471.1 71.4h.8M463.3 70.9h.8M463.6 72.9h.8M458.1 74.3h.8M477.1 73.2h.8M462.5 67.3h.8M457.3 67.3h.8M463.4 67.8h.8M471.4 69h.8M456.5 66.9h.8M461.3 70.2h.8M467.4 67.7h.8M463.8 75h.8M460.1 63.2h.8M463.2 75.3h.8M464.2 70.9h.8M450.3 77.9h.8M460.7 65.6h.8M459.8 71.5h.8M462.1 66.9h.8M476.1 76.3h.8M467.8 73.6h.8M459.5 65.7h.8M454.2 75.5h.8M462.3 78h.8M448.4 76.7h.8M464.6 68.5h.8M467.1 67.9h.8M460.2 73.1h.8M462.7 72.1h.8M463.1 75.4h.8M456.8 62.1h.8M456.3 60.2h.8M473.4 67.9h.8M461.6 72.3h.8M457.2 68.7h.8M463.3 70.9h.8M466.6 69.8h.8M457.8 64.5h.8M451.8 72h.8M463.7 69h.8M469 59h.8M465.6 65.6h.8M459.8 69.8h.8M457.3 69.6h.8M463.5 81.3h.8M461.8 74h.8M466.7 66.7h.8M464.7 69.1h.8M467.1 68.3h.8M468.2 66.9h.8M459 74.6h.8M467.9 74.6h.8M473.7 75.3h.8M461.7 74.9h.8M456.9 74.4h.8M464.2 70.2h.8M457.5 75.5h.8M449.8 70.1h.8M453.4 69.3h.8M459.2 67.2h.8M458.1 72.1h.8M473.5 78.5h.8M460.6 69h.8M465.4 67.2h.8M452.9 75.1h.8M459.4 77.5h.8M463.8 64.4h.8M463.5 73h.8M462.1 64.8h.8M452.8 79h.8M445.1 66.6h.8M466.6 78.7h.8M465.6 70.7h.8M464.1 75.9h.8M458.6 76.4h.8M463.3 71.8h.8M464.4 72.2h.8M456.3 77.7h.8M458.9 69.7h.8M447.8 63.6h.8M465.2 70.4h.8M461.2 69.2h.8M465.5 68h.8M453 63.7h.8M457 72.2h.8M470.4 73.3h.8M457.7 65h.8M466.7 73.1h.8M461.5 73.6h.8M465.3 73.1h.8M469.7 64.1h.8M457.9 68.5h.8M455.9 79.5h.8M463.9 72.7h.8M466.5 69.8h.8M466.8 69.9h.8M466.3 73.3h.8M469.6 64.1h.8M456.3 67.5h.8M456.9 72.5h.8M467.6 69.3h.8M468.2 74.8h.8M458.3 73.8h.8M470.3 68.7h.8M448.7 73.3h.8M463.5 73.6h.8M464.9 70.6h.8M461.7 67.3h.8M473.5 77.7h.8M461 67.1h.8M464.4 77.9h.8M462.1 67.2h.8M467.4 72h.8M457.1 69.9h.8M462.8 66h.8M463.5 76.5h.8M468.1 76.4h.8M466.3 70.5h.8M465.5 76.3h.8M462.1 73.2h.8M458.2 70.9h.8M459 66.2h.8M464.2 80.7h.8M451.8 68.8h.8M463 67.6h.8M462.9 74.7h.8M452.2 70.5h.8M465.4 73.4h.8M472.7 71.8h.8M469.3 68.4h.8M456.5 68.5h.8M459.3 74.9h.8M466.4 71h.8M456.6 71.6h.8M459.4 69.3h.8M451.6 77.9h.8M465.4 84.1h.8M477.8 71.2h.8M475.1 69.1h.8M478.5 70.7h.8M451 70.9h.8M466.7 78.5h.8M467.7 78.8h.8M463 64.2h.8M462.9 67.1h.8M466.9 61.5h.8M456.1 65.8h.8M462.6 75.5h.8M460.2 65.2h.8M458.9 70.3h.8M468.8 71.5h.8M470.2 58.3h.8M472.5 80.8h.8M458.9 83h.8M452.7 75.1h.8M454.2 68.2h.8M464.9 72h.8M463.7 70.1h.8M450.9 63.7h.8M456.9 66.5h.8M459.2 63.4h.8M461.2 73.1h.8M459 76.9h.8M463.2 75.1h.8M456.6 71.9h.8M453.5 62.5h.8M451.5 69.2h.8M463.4 80.5h.8M463.8 69.3h.8M468.2 71.5h.8M462 71.6h.8M467.8 78.1h.8M453.5 71.4h.8M459.1 71h.8M476.1 69.9h.8M447.3 74.8h.8M459.1 66.8h.8M460.3 105.5h.8M448.6 106.6h.8M438.7 118.6h.8M439.7 112.9h.8M440 112.3h.8M424.7 117.5h.8M427.7 111.4h.8M431.8 115.5h.8M439.4 111.7h.8M439.9 116.1h.8M425.4 119.9h.8M437.6 109.8h.8M450.3 103.8h.8M449.7 107h.8M441 115.1h.8M428.3 114.9h.8M433.4 106.4h.8M437.5 112.6h.8M426.6 116.9h.8M436.4 124.1h.8M450.9 106.4h.8M445 113.6h.8M444.1 113.9h.8M451.2 112.5h.8M447.2 104.2h.8M447.4 111h.8M449.9 113.8h.8M442.1 108.4h.8M449.4 109.8h.8M441.9 112.5h.8M442.4 111h.8M442.7 108.1h.8M446.8 108.3h.8M453.7 103.2h.8M439.3 107.1h.8M456.3 99.1h.8M436.8 112.8h.8M440.8 110.7h.8M451.9 101.2h.8M438.5 110.9h.8M442 103.4h.8M447.2 105h.8M433.9 122.2h.8M433.1 119.5h.8M439.8 109.1h.8M427.9 117.3h.8M446.1 107h.8M438.8 116.5h.8M441.3 111h.8M432.1 111.5h.8M438.2 114.1h.8M438.6 113.9h.8M438.7 111.6h.8M441.3 112.2h.8M425.2 122.1h.8M438.6 110.7h.8M450 109.3h.8M450.4 107.2h.8M444.3 109.1h.8M444.9 105.4h.8M440.6 112.5h.8M437.4 108.3h.8M439.4 110.3h.8M437.6 115.9h.8M448.6 105.8h.8M432.5 116.2h.8M437.5 109h.8M436.9 114.4h.8M437.6 115.1h.8M433 119.3h.8M436.2 114.8h.8M440 109.5h.8M444.7 100.9h.8M443.5 111.7h.8M439 112h.8M432.7 116.6h.8M440.8 108.5h.8M440.2 109.9h.8M433.5 115.9h.8M437 117.3h.8M438 118.7h.8M440.6 111h.8M436.5 115.8h.8M430.6 111.9h.8M439.7 103.1h.8M447.7 103.8h.8M452.3 103.7h.8M449.4 98.8h.8M438.2 113.9h.8M437 113.9h.8M440.9 113.6h.8M446.6 97.9h.8M442.9 104.7h.8M449.4 98.7h.8M435.9 116.6h.8M440.9 113.7h.8M441.9 107h.8M431.5 122.3h.8M439 111.7h.8M438.1 111.8h.8M435.8 114.8h.8M440.1 106.3h.8M430.7 120.4h.8M445.9 105.1h.8M438.6 110.4h.8M443.4 108.7h.8M435.4 111.7h.8M444.6 109.7h.8M438.5 114.2h.8M418 125.4h.8M438.1 104.6h.8M437.1 114.5h.8M450.4 105.7h.8M433.8 119.6h.8M440.4 114.6h.8M427.7 113.5h.8M430.6 120.6h.8M449.6 105.6h.8M441.8 109.8h.8M440.2 107.2h.8M451 106.9h.8M447.4 105.9h.8M448.6 109.3h.8M460.6 101.2h.8M433.9 112.6h.8M447.9 107.9h.8M444.8 108.3h.8M435.3 115.4h.8M431 119.1h.8M458.3 101.4h.8M433 112.9h.8M459.1 100.5h.8M438.2 115.1h.8M436.4 109.7h.8M442.8 111.6h.8M447.6 101h.8M450.8 102.8h.8M428.6 123.7h.8M448.9 107.3h.8M445 104.3h.8M441.3 103.9h.8M441 121.1h.8M453.3 103.6h.8M444.5 108.6h.8M445.7 108.3h.8M433.5 114.7h.8M425.5 118.3h.8M440.3 112.8h.8M453.6 95.2h.8M455 99.1h.8M437.6 112.9h.8M454.3 96.8h.8M439.2 114.3h.8M448.4 107.1h.8M443.6 113h.8M436.9 120.1h.8M438.1 114.5h.8M433 114h.8M449 107.4h.8M441.1 114h.8M459.1 87.9h.8M426.5 121.9h.8M430.6 122.4h.8M434.9 115.1h.8M438.9 120.7h.8M448.5 98.5h.8M445 106.7h.8M452 104.3h.8M434.7 113.5h.8M444.5 115.2h.8M440.5 109h.8M439.6 115.2h.8M442 117.2h.8M447.5 106.8h.8M441 109.5h.8M426.2 126.2h.8M451.3 102.6h.8M440.3 105.8h.8M439.8 112.4h.8M440.4 111.5h.8M449.4 107.8h.8M445.4 105.3h.8M437.2 113.5h.8M426.6 115.2h.8M443.3 109.2h.8M443.8 113.7h.8M426.3 123h.8M436.7 108.6h.8M448.4 111.3h.8M430.4 118.6h.8M447.9 106.1h.8M439.5 115.8h.8M428.5 119.6h.8M436.1 114h.8M432.2 117.8h.8M450.6 105.8h.8M430.6 116.1h.8M432.6 110.8h.8M447.1 108.5h.8M442.5 115.8h.8M444.9 105.7h.8M440.9 110.3h.8M443.4 114.5h.8M448.1 101.8h.8M451.9 96.5h.8M443.7 118.9h.8M448.1 110.6h.8M442.9 111.6h.8M439.1 118.2h.8M438.4 110.5h.8M434.5 124.5h.8M428.3 115.8h.8M444.5 108.5h.8M454.6 103.7h.8M441.8 107.1h.8M442.1 104.2h.8M438.2 118.5h.8M440.7 106.4h.8M436.1 113.8h.8M443.6 109.8h.8M441.1 98.7h.8M442.5 102.1h.8M437.9 113.6h.8M447.3 103.9h.8M429.8 115.5h.8M447.4 116.1h.8M431.1 115.9h.8M438 117.6h.8M444.7 107.6h.8M446.2 113.6h.8M436.7 109.3h.8M438.8 107.5h.8M444.3 112.1h.8M440.2 115.3h.8M453.2 109.7h.8M439.6 114.3h.8M448.4 109h.8M448.8 107.4h.8M447.8 109.8h.8M445.6 110h.8M442.9 109.3h.8M427.9 120h.8M440.2 109.2h.8M440.3 116.6h.8M434.8 106.1h.8M437 113.3h.8M450.5 105.4h.8M443.7 106.8h.8M433.9 109.5h.8M445.6 107.8h.8M436.1 114.7h.8M450.8 107.8h.8M449 110h.8M442.8 109.7h.8M442 112.2h.8M429.4 120.4h.8M439.6 108.4h.8M439.3 116.9h.8M438.1 112.7h.8M449.8 100.7h.8M439.9 110h.8M437 113.1h.8M444.4 107.4h.8M449.2 108.1h.8M433.5 116.5h.8M437.3 108.3h.8M430.3 122.7h.8M445.5 112.7h.8M453.7 105h.8M446.1 112.5h.8M439.4 110.5h.8M449.3 107.7h.8M436.6 112.4h.8M436.1 123h.8M437.4 111.5h.8M435.8 112.6h.8M442 110.4h.8M441.9 100.2h.8M445.2 114.7h.8M440.3 109.1h.8M454.2 99.4h.8M446.4 108.1h.8M438.1 109h.8M442.6 110.7h.8M451 97.6h.8M431.1 120.2h.8M425 110.9h.8M440.9 115.7h.8M425.2 116.1h.8M449.9 101h.8M434.4 115h.8M452 102.3h.8M446.2 106.5h.8M433.9 117h.8M430.2 122.8h.8M429.9 119.5h.8M425.6 121.5h.8M442.5 106.9h.8M454.8 101.1h.8M441.3 104.8h.8M437.9 114.1h.8M447.4 108.7h.8M428.2 114h.8M435.2 119.6h.8M426.2 116.5h.8M441.7 110.2h.8M438.9 109.1h.8M443.2 108.9h.8M440 112.5h.8M439 111.6h.8M450.3 107.1h.8M441.7 110.9h.8M448 100.5h.8M427.4 120.8h.8M426.7 116.7h.8M442.9 110.4h.8M437 110.7h.8M429.2 116.4h.8M435.1 115h.8M446.9 105.5h.8M433.7 117.8h.8M450.1 105.7h.8M437 112.2h.8M436.6 109.8h.8M446.8 105.5h.8M456.8 104.5h.8M442.4 120.3h.8M436 111.3h.8M428.4 119.9h.8M443 108h.8M441 112.8h.8M435.2 114.8h.8M441.9 116.3h.8M445.4 107.3h.8M433.4 115.7h.8M434.6 114h.8M444.9 111.4h.8M446.9 104.3h.8M442.2 109.9h.8M451 112.6h.8M449.8 108.3h.8M443.6 111.1h.8M427.6 121.8h.8M439.8 111.6h.8M452 115.7h.8M440.5 106.4h.8M439.8 115.1h.8M446.3 107.9h.8M443.3 106.1h.8M447.5 97.9h.8M437.1 110.7h.8M438.1 113.9h.8M443.6 113h.8M455.3 102.8h.8M434.5 115.7h.8M434 112.7h.8M439.9 115.5h.8M436 115.8h.8M437.3 117.1h.8M446.3 101.4h.8M444.5 105h.8M443.1 109.1h.8M444.5 103.4h.8M455 102.4h.8M438.9 117.6h.8M451.5 105.6h.8M435.9 111.3h.8M437.8 119.7h.8M441.3 110.6h.8M440.8 116h.8M440.1 115.1h.8M427 117.8h.8M441.5 106.8h.8M450.5 95.9h.8M444.7 110.5h.8M444 108.6h.8M447 120.9h.8M441.7 108h.8M425.6 129.4h.8M444.3 115.9h.8M442.9 114h.8M449.4 102.7h.8M427.1 125.6h.8M451.6 97.4h.8M437.3 113.3h.8M440.3 113.9h.8M441.3 113.1h.8M432.3 110.8h.8M454.2 102.6h.8M441.6 105.9h.8M444.1 108.6h.8M444.6 108.9h.8M451 109.5h.8M437.8 111.7h.8M443.3 103.5h.8M435.3 113.5h.8M430 126.6h.8M438.7 111.8h.8M433.8 118.3h.8M435.6 110.1h.8M446.3 113.4h.8M430.5 118.3h.8M455.8 99.6h.8M439.1 118.8h.8M444.4 112.3h.8M453.7 104.5h.8M447 114.5h.8M428.3 115.4h.8M438.3 110.5h.8M436.2 106.8h.8M431.1 121h.8M440.4 113.1h.8M438.3 112.9h.8M433.8 123.3h.8M445.8 102.2h.8M438.5 114.2h.8M437.9 113h.8M438.9 105h.8M447.1 108.5h.8M433.8 115.3h.8M439.8 110.7h.8M438.4 106.7h.8M442.2 111.8h.8M444.6 110.3h.8M437.3 114.2h.8M447.9 106.4h.8M442.7 110.1h.8M442.3 104.9h.8M442.2 113.6h.8M435.8 117h.8M437 112.2h.8M431.4 114.2h.8M446.4 101.2h.8M439.4 106.6h.8M456.5 102.8h.8M433.3 111.9h.8M439.7 113.3h.8M455.4 106.6h.8M434.6 116.5h.8M446.1 104.5h.8M439.5 115.8h.8M431.4 118h.8M439.9 110.6h.8M438 106.5h.8M445.9 105.7h.8M458.5 106.5h.8M441.5 118.5h.8M449.4 101.8h.8M441.5 115.5h.8M435.3 113.7h.8M420.7 119.8h.8M431.5 114.9h.8M436.4 115.3h.8M442.1 108.7h.8M431.9 118.5h.8M445.2 107.8h.8M449.7 102.9h.8M447.4 107.5h.8M453.3 108.8h.8M429.4 112h.8M448.8 106.7h.8M442.6 108.1h.8M438.1 118h.8M443.3 107.2h.8M441.9 111.6h.8M430.7 115.8h.8M444.8 108.9h.8M432 118.7h.8M456.1 102.7h.8M430.9 116.3h.8M435.2 112h.8M434.1 113.6h.8M438 108.1h.8M448.1 107.3h.8M456.2 103.5h.8M448.7 107.6h.8M438.2 108.7h.8M445.9 107.9h.8M437.2 115.3h.8M442.1 107.6h.8M450.2 102.5h.8M443.9 113.2h.8M436.8 112.8h.8M443.6 107.9h.8M435.4 110.5h.8M441.9 108.9h.8M448.7 109.6h.8M442.4 113.2h.8M439.2 118.8h.8M436.9 113.4h.8M437.5 111.5h.8M446.6 107.1h.8M436.3 117.5h.8M442.4 112.4h.8M441.6 108.7h.8M427.9 119.2h.8M437.2 118.7h.8M442.3 116h.8M459.3 102.7h.8M455.9 96.7h.8M435.6 110.7h.8M429.3 114.3h.8M445.7 104.5h.8M439.9 114.2h.8M441.1 117.2h.8M450.7 107h.8M453.7 104.2h.8M444.5 113h.8M445.8 102.2h.8M450.7 108.2h.8M429.3 127.7h.8M444.9 114h.8M433.3 117.4h.8M434.7 112.2h.8M440.2 105.8h.8M442.2 113h.8M433.8 111.8h.8M446.7 110.7h.8M446.4 105.1h.8M440.9 116.7h.8M447.8 107.6h.8M442.4 109.5h.8M446.7 109.9h.8M441.9 111.5h.8M431.2 117.5h.8M452.5 103.7h.8M430.7 116.6h.8M444.5 114.4h.8M455.9 100.3h.8M440.3 112.1h.8M435.9 120h.8M434.2 118.9h.8M436 110.5h.8M446.6 113.8h.8M433.1 117.6h.8M438.3 117.3h.8M428.5 114.9h.8M436 109.5h.8M445.1 102.3h.8M440.6 109.4h.8M446.9 104.8h.8M443 116.5h.8M447.9 111.2h.8M451.9 105.3h.8M440.1 105.1h.8M428.4 118.5h.8M445.2 112.6h.8M435.1 114h.8M453.4 97.8h.8M439.6 111.7h.8M439.1 118.5h.8M429.5 118.2h.8M428.1 117.5h.8M448 98.1h.8M429.5 119.4h.8M442.2 107.3h.8M443.8 108.4h.8M438.6 113.2h.8M447.3 101.9h.8M447.6 107.6h.8M438.2 110.2h.8M445 111.5h.8M436 117.7h.8M442.9 113.1h.8M442.6 109.2h.8M443.8 111.7h.8M431 118.3h.8M424.7 123.6h.8M437.8 113.5h.8M449.7 108.6h.8M452.7 106.5h.8M438.1 110h.8M457.7 96.5h.8M439.4 114h.8M435.7 115.5h.8M441.5 108.6h.8M434 116.3h.8M442.2 106.3h.8M442.2 110.7h.8M435.7 116.6h.8M433.3 120.2h.8M438.1 117.3h.8M441.9 110.7h.8M433.2 119.7h.8M437.7 122.4h.8M444.5 109.4h.8M442.6 112.7h.8M445 109.8h.8M446.8 106.3h.8M449.4 99h.8M430.8 120.7h.8M438.1 107.2h.8M431.4 115.1h.8M451.1 106.5h.8M427 115.7h.8M439.7 107.1h.8M435.7 112.6h.8M442.5 112.4h.8M435.2 113.2h.8M446 114h.8M443.2 108.1h.8M447.3 106.1h.8M432.8 119.6h.8M450.3 100h.8M444.1 104h.8M440.3 111.2h.8M438.4 112.5h.8M444.8 106.4h.8M438.9 111.4h.8M441.7 108h.8M447.1 108h.8M434.5 110.6h.8M441.2 115.1h.8M445.5 107.9h.8M458.1 105.1h.8M447.3 112.2h.8M438.6 111.3h.8M439.1 104.9h.8M440.3 109.6h.8M451.5 105.9h.8M451 102.1h.8M451.6 104.1h.8M445.5 109.5h.8M434 119.7h.8M439.2 115h.8M438.9 108.7h.8M439.5 113.3h.8M442.2 117h.8M449.7 105.3h.8M441.3 116.7h.8M443.6 113.9h.8M427.9 112.5h.8M448.2 109.7h.8M439.7 111.4h.8M445.3 110.1h.8M440.6 111.4h.8M444.8 112.7h.8M441.1 100.6h.8M443 108.5h.8M449.9 107.6h.8M437.3 113.4h.8M424.7 122.2h.8M433.7 116.8h.8M438.5 117.9h.8M449.4 103.7h.8M437.4 118.9h.8M431.1 116.8h.8M438.9 113.6h.8M439.7 108.3h.8M447.9 107.7h.8M446.4 113.6h.8M454.6 102.4h.8M437.7 112.3h.8M438.2 108.7h.8M435.2 113.1h.8M446.1 110.4h.8M420.9 118.9h.8M434.8 111.2h.8M437.5 106.5h.8M439.8 112.7h.8M443 107.9h.8M445.4 110.9h.8M436.7 109.9h.8M438.1 114.3h.8M439.8 105.1h.8M427.6 114.2h.8M454.4 103.2h.8M440.1 107h.8M430.2 126.9h.8M440.7 101.4h.8M453 104.1h.8M441.2 111.9h.8M443.5 101.2h.8M440.6 106.2h.8M437.8 112.5h.8M436.7 111.1h.8M441.5 109.1h.8M444.3 111.7h.8M434.7 114.8h.8M436.7 117.4h.8M448.1 110.1h.8M448.7 106.1h.8M432.7 113.9h.8M449.7 105.3h.8M445.5 105.5h.8M443.1 117.3h.8M444.9 101.9h.8M436.5 114.8h.8M450.2 108.4h.8M449.3 110h.8M447.5 109.8h.8M432.7 112.1h.8M439.9 116.9h.8M448.4 101.4h.8M439.3 112.6h.8M445.7 109h.8M451.9 104.3h.8M439.1 111.4h.8M448.1 104.9h.8M443.9 107.3h.8M428.9 111.1h.8M437.5 110.3h.8M446 106h.8M436 117.6h.8M442.1 118.7h.8M438 113.5h.8M438.6 118.9h.8M442.6 109h.8M436.4 105.9h.8M449.8 104.8h.8M447.5 103h.8M449.8 102.1h.8M445.1 116.2h.8M437.6 113.6h.8M440.2 112.1h.8M441.8 109.9h.8M443.3 107.7h.8M451.6 106.2h.8M432.1 115.3h.8M440.6 115.2h.8M429.7 123.6h.8M426.2 119.1h.8M434.4 114.3h.8M448.3 109.6h.8M439.9 111h.8M436.5 119h.8M442.8 120.7h.8M428.9 117h.8M449.3 112.5h.8M439.7 113.7h.8M437.2 114.7h.8M427.6 123.2h.8M438.1 114.8h.8M438.3 109.1h.8M428.4 116.1h.8M442.1 113.2h.8M450.7 108.1h.8M457.2 103.5h.8M455 104.2h.8M440 104.9h.8M447.5 105.8h.8M435.8 109.4h.8M449.8 104.7h.8M436.6 111.1h.8M441.3 112.6h.8M445.4 108.3h.8M442.7 110.1h.8M440.3 116.2h.8M439 110.2h.8M451.2 100h.8M438.1 113.6h.8M439.7 111.7h.8M449.6 108.9h.8M435.3 122.7h.8M430.9 114.1h.8M443.9 105h.8M434.3 119.2h.8M445.3 109.5h.8M452.8 106.8h.8M436.9 112.1h.8M443.1 107.8h.8M444.5 112.1h.8M440.2 106h.8M452.4 102.7h.8M440.3 104.9h.8M438.3 107.8h.8M451.2 101.9h.8M431.2 117.6h.8M434.7 115.8h.8M431.2 111.1h.8M439.1 111.2h.8M436.8 116.8h.8M446.7 106.6h.8M441.1 112.4h.8M447.8 106.9h.8M434.4 118.3h.8M458.8 100.9h.8M442.2 107.9h.8M431.3 120h.8M445.9 109.4h.8M444.5 113.7h.8M436.7 106.6h.8M440.4 112.2h.8M447.5 108.7h.8M446.7 108.8h.8M440.9 106.5h.8M440.7 115.3h.8M447.4 95.8h.8M439.2 110.6h.8M443.3 101.6h.8M437.5 114.3h.8M432.1 110.4h.8M453.5 101.1h.8M442.6 112.4h.8M452.9 99.7h.8M439.3 110.9h.8M449.4 108.8h.8M451.2 102h.8M431.4 115.4h.8M428.4 121.4h.8M427.5 122.4h.8M434.5 117.4h.8M451.1 103.4h.8M440.1 111.8h.8M437.3 115.1h.8M439.5 112.7h.8M436.3 116.5h.8M441.7 107.1h.8M437.8 107.7h.8M429 115.1h.8M443 108h.8M441.2 112h.8M438.6 112h.8M441.1 119.6h.8M436.4 116.8h.8M442.7 117.1h.8M432.8 116.5h.8M442.7 107.8h.8M456.3 101.2h.8M440.6 104.6h.8M441.6 105.8h.8M445.5 109.3h.8M439 110.2h.8M434.1 113.4h.8M450.2 101.3h.8M439.6 113.7h.8M430.7 116.7h.8M449.3 106.1h.8M446.2 110.2h.8M436.2 105h.8M447.3 108.8h.8M424 122.3h.8M448.6 101h.8M450.2 110.2h.8M439.6 110.9h.8M435.1 117.8h.8M443.7 111.4h.8M440.6 111.5h.8M438.8 116.9h.8M442.3 115.1h.8M445.8 104.7h.8M435.1 119.4h.8M443 108.2h.8M444.3 100.5h.8M444.2 107.3h.8M444.9 105.9h.8M438.9 115.3h.8M440.8 105.4h.8M445.9 110.3h.8M427.6 116.7h.8M431.1 114.2h.8M439.7 119.6h.8M432.1 113.6h.8M441.6 115.9h.8M439.9 115.6h.8M447.3 104.9h.8M445.5 111.8h.8M445.6 114.2h.8M446.6 113.4h.8M434.4 116.7h.8M421.5 119.2h.8M436.3 112.8h.8M440.3 113.6h.8M427.6 113.8h.8M446.7 108.2h.8M449.1 108.6h.8M442.1 108.2h.8M442.6 106.2h.8M431.1 116.7h.8M454.6 97.5h.8M449.9 104h.8M451.9 101.2h.8M431.4 115.3h.8M440.6 113.6h.8M436.2 115.2h.8M457.3 99.5h.8M450.4 114.8h.8M435.6 114.9h.8M439 113.5h.8M434.7 114.3h.8M446 107.5h.8M429.6 123.7h.8M447.1 114.4h.8M435.7 116.2h.8M436 117.7h.8M439.3 117.4h.8M437.5 104.8h.8M434.2 118.5h.8M448 110.1h.8M443.5 107.4h.8M441.8 110.6h.8M442.8 113.7h.8M433.8 114.9h.8M449.8 104.2h.8M443.7 107h.8M443.7 114.3h.8M452.1 103.3h.8M439.2 118.3h.8M427.3 120.1h.8M450.3 113.8h.8M447.9 105.6h.8M440.3 111.3h.8M433.4 114.8h.8M439.8 105.1h.8M429.6 107.3h.8M447.6 106.8h.8M426.5 115.4h.8M439 119h.8M442 105.8h.8M434.2 109.3h.8M430.9 111.3h.8M454.7 104h.8M450.7 105.9h.8M437.5 117.5h.8M442.8 106.9h.8M429.2 119.3h.8M431.7 116.4h.8M423.1 116.4h.8M448.5 107.8h.8M441.3 109.7h.8M440.3 107.6h.8M449.2 111.5h.8M433.6 110.1h.8M437.6 106.5h.8M454.4 101h.8M444 109.5h.8M435.8 111.7h.8M437 121.8h.8M443.4 113.6h.8M450.7 102.9h.8M436.4 112.6h.8M441.5 106.6h.8M447 105.7h.8M436.7 116.8h.8M449.1 101.6h.8M439.1 111.6h.8M446 110.6h.8M438.1 109.3h.8M438.2 116.5h.8M454.1 102.4h.8M439.8 122h.8M447.4 103.4h.8M430.1 115h.8M464 99.6h.8M432.3 114h.8M435.7 109.5h.8M442.8 105.2h.8M440.2 113.9h.8M440.9 115h.8M439.3 116.9h.8M434.9 112.9h.8M431.1 119.4h.8M445.6 107.7h.8M452.1 105.6h.8M440 104.9h.8M440.2 113h.8M435.2 121.1h.8M445.9 113.5h.8M435.5 122.2h.8M450.7 104.6h.8M441.4 117.2h.8M433.4 115.5h.8M448.5 105.2h.8M432.8 112.1h.8M439.7 117h.8M458.2 94.7h.8M433.4 118.9h.8M438.7 110.9h.8M442.3 115.5h.8M444.8 105.2h.8M442 105.2h.8M444.8 99.9h.8M439.4 115.8h.8M453.9 103.9h.8M426.4 120.5h.8M448.6 108.2h.8M442.4 107.6h.8M426.2 119.6h.8M440.6 108.5h.8M435.4 116.5h.8M438.7 113.3h.8M446.9 103.8h.8M445.6 103h.8M447.8 107.8h.8M445.7 110.6h.8M438.9 105.3h.8M453.1 103.2h.8M442.3 110.2h.8M443.1 108.5h.8M429 114.7h.8M454.5 103.8h.8M436.3 120.9h.8M440.6 106.6h.8M434 113.2h.8M450.3 107.4h.8M438.5 111.7h.8M436 115h.8M435.1 118.7h.8M441.9 114.2h.8M452.5 104h.8M441.1 98.3h.8M434.7 116.5h.8M436.7 118.5h.8M438.1 112.3h.8M427.1 123.6h.8M439.7 117.2h.8M444.3 108.3h.8M446.5 105.9h.8M434.9 115.1h.8M441.2 115.2h.8M433.8 111.7h.8M452.1 106.7h.8M438.5 113.3h.8M432.5 123.8h.8M432.8 107.9h.8M440.9 113.1h.8M445.9 108.4h.8M442.2 109.4h.8M439.8 110.8h.8M458.6 98.7h.8M437.8 104.7h.8M441.6 112.8h.8M442.8 103.2h.8M443.4 115.8h.8M439.1 111.5h.8M444.9 107.8h.8M435.8 112h.8M428.9 120.3h.8M446.1 109.8h.8M436.3 116h.8M430.2 111.9h.8M442.9 104.4h.8M430.3 117.3h.8M441.5 117h.8M452.2 111.6h.8M438.9 105.7h.8M432.2 118.3h.8M431.9 119.2h.8M449.4 107.4h.8M431 122.7h.8M455.1 105.2h.8M456.1 96.8h.8M441.6 114.1h.8M450.9 110.1h.8M438.4 109.9h.8M438 110.1h.8M440.8 109.7h.8M445 105.2h.8M445.9 104.2h.8M452 108.2h.8M440.2 110.6h.8M444.2 110.5h.8M435 118.2h.8M425.4 117.3h.8M432.7 117.7h.8M430.3 108.8h.8M447.4 104h.8M439.2 113.6h.8M444.5 110.9h.8M432.3 118.5h.8M449.2 108.2h.8M448.5 99.6h.8M446.6 101h.8M433.3 117.3h.8M459.9 102.5h.8M440.1 112h.8M446.3 102.1h.8M437.2 111.2h.8M450.5 106.5h.8M445.5 112.8h.8M437.3 109.8h.8M443.8 101.4h.8M442.8 109.6h.8M429.8 119.7h.8M437.4 119.2h.8M448.1 109.6h.8M447.9 106h.8M450 107.1h.8M447 111.1h.8M451.7 96.3h.8M434.8 109.3h.8M433.4 119.3h.8M433.6 115.4h.8M438.8 116.6h.8M452.6 103.2h.8M434.9 112.9h.8M436.4 107.5h.8M432.7 117.7h.8M443 110.3h.8M441.9 107.3h.8M438.2 108.8h.8M438.7 104.3h.8M445.1 109h.8M438.3 113.5h.8M448.3 106h.8M457 104.6h.8M441.4 109.9h.8M430.5 114h.8M442.6 110.3h.8M446.8 113.8h.8M444.7 110h.8M437.2 109.2h.8M437.6 113h.8M447.4 109.3h.8M433.6 115.8h.8M443.5 103.2h.8M436.4 108.2h.8M438.4 117.6h.8M447.9 115.1h.8M435.5 118.7h.8M436.7 107.4h.8M442.8 110.6h.8M441.5 115.7h.8M440.2 114.6h.8M440 109.5h.8M445.8 112h.8M453.5 107h.8M426.5 115.8h.8M441.5 115.6h.8M428 120.9h.8M434.2 119.1h.8M447.8 105h.8M452.1 106.2h.8M442.8 115.7h.8M455.9 100h.8M443.5 110.6h.8M446.1 105.7h.8M441.8 115.3h.8M442.8 115.2h.8M446.4 114.3h.8M449.3 100.3h.8M445.5 106.8h.8M438.6 116.3h.8M449.6 107.1h.8M452.1 109.9h.8M444.9 110.8h.8M447.5 112.6h.8M434.9 115.1h.8M431.6 115.4h.8M443 108.2h.8M435.4 114.1h.8M453.2 111h.8M440.7 108.3h.8M441.4 108.2h.8M444.9 111.1h.8M453.3 99.2h.8M438.7 109.3h.8M446.9 102.9h.8M453.9 109.4h.8M431.4 122.5h.8M457.5 99.7h.8M444.8 116.8h.8M439.5 111.7h.8M436.1 117.3h.8M449 102.1h.8M448.1 108.1h.8M452.1 102.8h.8M436.3 115.4h.8M444 107.9h.8M435.9 117.4h.8M427.8 115.7h.8M437.8 107.8h.8M441.6 103.9h.8M440.7 113h.8M449.1 101.8h.8M445.6 112.8h.8M436.3 116h.8M451.4 108.3h.8M441.5 112.2h.8M437.3 116h.8M443.3 107.3h.8M459.4 100.7h.8M435.5 115.2h.8M442.7 105.6h.8M436.4 117.5h.8M440.7 111.1h.8M448.1 105h.8M428.6 115.3h.8M439.8 111.1h.8M436.8 110.4h.8M428.5 119h.8M444.8 109.6h.8M451.5 115.9h.8M431.9 115.1h.8M437.7 103.5h.8M446 107.1h.8M463.4 94.7h.8M440.6 111.5h.8M438.3 110.2h.8M449.6 106.3h.8M443 108.6h.8M427 119.2h.8M424.2 120.5h.8M443.2 108.4h.8M444.9 114.9h.8M447.1 110.9h.8M438.3 111.7h.8M434.3 122h.8M449.1 105h.8M445 109.3h.8M451.8 105.5h.8M438.5 108.5h.8M419.4 116.8h.8M441.9 115.5h.8M435.7 113.9h.8M448.8 112.3h.8M424.4 122.4h.8M439.3 115.7h.8M435 108.1h.8M421.2 118.2h.8M436.1 110.1h.8M435.4 123.4h.8M429.9 117.7h.8M449.7 104.9h.8M426.9 121.2h.8M443.6 114.8h.8M432.3 110.9h.8M436.1 109.9h.8M443.8 111.8h.8M440.5 111.2h.8M429.7 113.3h.8M446 113.4h.8M451.6 113.6h.8M429.8 110.1h.8M441.2 112h.8M431.3 110h.8M446.9 98.9h.8M446.3 110.7h.8M450.3 104.2h.8M447.2 105.6h.8M448.9 110.9h.8M437.4 106.3h.8M438.2 100.5h.8M449.7 102.2h.8M439.1 116.5h.8M448.3 107.9h.8M438.4 115.9h.8M441.3 109.3h.8M436.3 116.3h.8M438.3 118.4h.8M426.3 117.3h.8M439 105.3h.8M451.5 97.7h.8M435.9 112.9h.8M445 114h.8M437 111.8h.8M450.2 104.4h.8M446.7 107.2h.8M436.1 111.9h.8M432.4 113.8h.8M438.5 115.5h.8M445.1 112.5h.8M437 108.5h.8M425.9 134.5h.8M453 103.3h.8M441.4 105.4h.8M430 125.6h.8M447.9 115.2h.8M448.1 110.3h.8M436 118.6h.8M426.8 120.5h.8M415.7 120.2h.8M442.1 108.2h.8M409.9 124.5h.8M444.2 111.4h.8M438.8 121.5h.8M446.8 107.3h.8M448.4 128.6h.8M440.4 109.4h.8M426.9 119.5h.8M438.9 95.8h.8M441.2 110h.8M444 114.1h.8M419.5 124.2h.8M417.1 129.2h.8M433.7 128.1h.8M420.6 131h.8M425.3 120.1h.8M428.9 140.4h.8M435.1 119.1h.8M451.3 90.4h.8M431.8 111.5h.8M432.4 116.1h.8M445.3 118.6h.8M443 124.4h.8M428 110.7h.8M424.4 133.9h.8M435.8 122.5h.8M439.8 106.2h.8M452.9 113.3h.8M456.1 110.8h.8M428.5 128.4h.8M431.7 106.6h.8M444.3 109.5h.8M448.4 125.2h.8M447.8 105.6h.8M448.8 119h.8M443.5 123.1h.8M440.6 110.2h.8M449.5 106.1h.8M430.7 117.6h.8M424.5 135.9h.8M417.1 112.9h.8M430.3 100.3h.8M437.6 123.8h.8M442 117.2h.8M429.9 112.6h.8M443.3 120.3h.8M440.8 123.8h.8M409.5 126.9h.8M409.6 131.5h.8M432.8 107.5h.8M431.3 120h.8M428.1 120.9h.8M446.3 110.7h.8M449.1 113h.8M432.3 120.9h.8M443.4 107.2h.8M436.2 129.5h.8M448 115.8h.8M431.1 119.3h.8M442.7 117.1h.8M440.5 103.9h.8M441.1 104.5h.8M425.5 120.1h.8M436.6 127.5h.8M458.3 123.1h.8M431.1 122.6h.8M441.9 96.9h.8M453.4 124.2h.8M443.2 105.6h.8M436.9 118.6h.8M425.8 114.6h.8M444.3 103.6h.8M442.4 102.8h.8M419 107h.8M421.3 146h.8M429 118.7h.8M438.7 101.8h.8M442.2 124.5h.8M451.6 121.5h.8M428.9 107.8h.8M439.6 120.4h.8M425.6 121.7h.8M446.8 131.8h.8M427.1 116.1h.8M432.3 114h.8M435.1 113.2h.8M421.9 120.5h.8M426.1 140.9h.8M449.8 107.1h.8M442.2 120.1h.8M436.1 108.9h.8M432.2 128.2h.8M436.4 121.5h.8M437.2 125.5h.8M436.7 119.6h.8M433.4 99.8h.8M451.9 119.8h.8M425 109.3h.8M436.8 108.5h.8M434.6 133.9h.8M431.1 110.5h.8M426.3 128.1h.8M442.1 117.4h.8M422.9 119.9h.8M435.1 114.5h.8M436.2 114.3h.8M437.4 118.5h.8M449.1 121.3h.8M427.4 103.7h.8M444 97.4h.8M444.9 123.3h.8M449.1 121.7h.8M447.2 131.6h.8M434.7 102.5h.8M442.6 110h.8M444.3 105.1h.8M439.4 102.8h.8M433.9 118.1h.8M444.4 104.1h.8M445.3 122.2h.8M426.8 139.2h.8M437.1 119h.8M455.6 103.8h.8M449.8 120.6h.8M456.8 115.5h.8M433 123.5h.8M417.6 118.2h.8M432.7 116.9h.8M428.1 115.6h.8M447.4 97h.8M436.4 105.1h.8M436.3 109.2h.8M411.5 114.7h.8M454 117.5h.8M433.5 117.6h.8M433.2 104.4h.8M456.8 132.7h.8M425.2 108.9h.8M431.5 120.8h.8M442 130.7h.8M440.4 109h.8M437.2 112.4h.8M436.5 132.3h.8M432.7 114.3h.8M449.4 105.7h.8M434.6 92.6h.8M438.5 104.9h.8M437.4 125.5h.8M443.4 90h.8M448.5 106.1h.8M437.2 127.1h.8M433.2 114h.8M433.8 116.9h.8M437.1 127.6h.8M448.8 100h.8M430.1 120.4h.8M430.1 122.7h.8M438.4 115.9h.8M431.3 123.8h.8M423 122.7h.8M435.8 118.3h.8M444.2 110.2h.8M429.3 126.3h.8M439.2 123.1h.8M459.8 116.3h.8M432.2 110.5h.8M438.3 114.2h.8M422.8 111.6h.8M443.5 102.8h.8M451.7 117.3h.8M429.9 125.8h.8M429.5 107.7h.8M431.6 122h.8M442.8 105.8h.8M439.7 125.3h.8M429.9 115.1h.8M424.3 129.9h.8M425.7 115.1h.8M429.1 115h.8M462.3 94.1h.8M438.4 103.4h.8M446.8 113.7h.8M443.6 134.5h.8M422.8 115.9h.8M429.8 121.2h.8M444 111.3h.8M425 115.5h.8M450.4 103.3h.8M453.1 104.9h.8M431.6 116.9h.8M445.4 119.1h.8M435.7 122.8h.8M417 114.4h.8M419.4 124.3h.8M433.7 126.1h.8M431.5 116.4h.8M427.2 109.1h.8M433.8 138h.8M435.7 103.5h.8M426.8 127.4h.8M405.2 115.9h.8M429.7 116.2h.8M439.4 104.7h.8M426.6 128.3h.8M428.2 124.3h.8M416.9 126.8h.8M447.7 95.5h.8M435.7 116.6h.8M437.4 115.1h.8M440.8 107.6h.8M428.7 124.4h.8M430.7 103.3h.8M442.2 109.6h.8M446.2 110.6h.8M423.2 122.6h.8M448.2 119.4h.8M438.1 122.5h.8M450.8 110.3h.8M453.6 111.9h.8M422 114.9h.8M436.8 133.9h.8M443.9 103.2h.8M446.1 131.1h.8M429.1 122.4h.8M437.4 125h.8M420.4 131.6h.8M444 123.4h.8M442.8 116.8h.8M429.1 125.1h.8M440.4 132.5h.8M440.2 115.1h.8M438.8 116.5h.8M436.2 123.9h.8M432.7 111.1h.8M448.9 116.2h.8M445.9 106.9h.8M452.9 121.1h.8M445.1 115.5h.8M429.4 106.8h.8M427 123.2h.8M449.5 113.7h.8M432.9 122h.8M432.6 112.9h.8M440.6 123h.8M424.3 121.7h.8M432 110.5h.8M430.3 126.1h.8M457.9 103.6h.8M439.4 131.1h.8M429.8 103.4h.8M422.9 107.6h.8M440.7 128.9h.8M471.5 125.8h.8M445 108.4h.8M429.2 118.6h.8M422.6 117.8h.8M441.1 115.7h.8M438.2 114.7h.8M425.6 130.5h.8M441 122.4h.8M434 109.3h.8M449.7 116.2h.8M438 123.5h.8M439.2 111h.8M435.8 110.5h.8M447.9 105.3h.8M454.5 122.9h.8M440.8 121.2h.8M442.5 95h.8M460.3 107.2h.8M426.4 126h.8M458.1 103.8h.8M455.2 115.2h.8M432.8 123.7h.8M450.1 100.5h.8M435.7 112.7h.8M431.3 119.2h.8M414.1 126.7h.8M416.6 121.8h.8M436.5 127.8h.8M430.8 130.1h.8M429.8 114.6h.8M421.9 129.1h.8M440.1 122.9h.8M421.9 107.3h.8M448.6 122.5h.8M438.1 117.8h.8M443.1 115.7h.8M461.2 99.7h.8M446.2 119.8h.8M434.5 102.3h.8M439.5 112.3h.8M432.1 129.8h.8M432.8 124.2h.8M433.4 125.7h.8M446 102.8h.8M434 128.5h.8M433.6 130h.8M436.8 108.6h.8M438 129.6h.8M446 112.7h.8M444.4 123h.8M433.1 123.4h.8M447.7 123.1h.8M433 118.3h.8M438.8 114h.8M437.5 122.5h.8M431.5 118.5h.8M440.4 116.3h.8M433.4 119h.8M422.5 120h.8M425.6 114.5h.8M461.2 121.5h.8M434.6 118.1h.8M434.4 115.7h.8M436.1 126.9h.8M436.4 105.2h.8M435.5 110.3h.8M439.8 108h.8M436.8 110.3h.8M437.2 120.9h.8M437.5 103.6h.8M428.4 115.3h.8M422.4 129.8h.8M433.8 116.7h.8M437.7 134.3h.8M417 105.5h.8M435.2 121.4h.8M426.5 123.3h.8M414.3 130.4h.8M433.5 110.6h.8M422 117.3h.8M437 127.7h.8M435.3 112.4h.8M436.1 125.6h.8M426.8 115.6h.8M444.5 112.2h.8M448.5 107.1h.8M436.2 122h.8M439.2 116.2h.8M425.2 118.8h.8M427.7 118.8h.8M445.2 102.9h.8M443.5 117.1h.8M427.1 134h.8M441 118.2h.8M443.6 122.5h.8M437.9 110.3h.8M427.3 115.5h.8M425.9 116.6h.8M443.7 122.1h.8M439.9 125.3h.8M450.9 114.4h.8M409.9 110.6h.8M449.5 113.5h.8M420.5 121.3h.8M439.2 115.6h.8M424.7 125.1h.8M422.1 125h.8M444.2 115h.8M434.5 125.1h.8M454.1 102.8h.8M431.8 106.8h.8M437.2 101.3h.8M439.2 124.6h.8M427.9 91.6h.8M418.5 106.3h.8M427.7 109.3h.8M463.7 110.5h.8M426.3 121.5h.8M442.1 123.2h.8M453.3 112.5h.8M410.7 104.4h.8M417.2 119.4h.8M438.3 103.3h.8M452.8 114.1h.8M441.6 122.1h.8M435.1 128.7h.8M435.3 112.5h.8M420.1 108.4h.8M436.4 122.8h.8M431.1 116.7h.8M466.4 125.1h.8M429.9 134.2h.8M436.7 117.1h.8M428.1 120.7h.8M441.9 117.9h.8M429.2 117.2h.8M450.1 122.9h.8M435.4 123.3h.8M445.7 114.7h.8M428.5 123.2h.8M432.8 109.1h.8M437.5 116.7h.8M437.9 132.6h.8M436.1 109.4h.8M447.1 107.4h.8M422.1 115.6h.8M441.9 102.2h.8M442.3 118h.8M435.1 125.7h.8M446.6 109.9h.8M440.2 121.5h.8M443.8 125.4h.8M444.7 112.7h.8M437.5 112.9h.8M440.1 107.9h.8M431 108.9h.8M461.1 103.5h.8M439.8 119.8h.8M427.9 137.6h.8M424.4 131.9h.8M436.9 124.6h.8M444.4 114.6h.8M445.3 108.4h.8M438 113.4h.8M425.7 114.2h.8M448.5 126.1h.8M426.9 119.2h.8M432.3 124.2h.8M418.9 131.1h.8M425.5 115.1h.8M440.4 116.8h.8M445.5 123.3h.8M428.8 133.6h.8M453.4 129.9h.8M452.6 111.5h.8M419.8 131.4h.8M455.5 112.6h.8M430.8 109.3h.8M430.9 106.9h.8M427.7 119.4h.8M438.1 110.1h.8M436.4 117.3h.8M442.5 119.4h.8M440.3 112h.8M435.8 111.7h.8M422.9 121h.8M427.6 103.5h.8M446.2 114.4h.8M417.4 120.3h.8M418.1 107.5h.8M422.4 131.2h.8M428.2 144.9h.8M457.7 118.4h.8M447.2 121.6h.8M445.3 101.8h.8M448.5 101.4h.8M421.6 101.6h.8M426 107.6h.8M460.5 104.7h.8M443.4 107.9h.8M448.6 114.6h.8M435.9 123.2h.8M427.1 111h.8M410.1 119.3h.8M451.8 126.4h.8M429.7 116h.8M448.9 107.3h.8M440.4 114.9h.8M407.4 123.8h.8M440.5 115.6h.8M428.2 109.8h.8M437 114.1h.8M426.4 122h.8M449.4 130h.8M443.4 103.6h.8M437.4 101.1h.8M410.7 127.2h.8M459 109.3h.8M432.2 124.4h.8M416 129.4h.8M421.8 114.9h.8M429.5 114.1h.8M434.2 106.3h.8M442.9 117.5h.8M447.9 116h.8M448.7 119.6h.8M454.2 115.9h.8M442.3 100.2h.8M441.4 128.7h.8M434.7 126h.8M453.7 119.1h.8M432.3 122.7h.8M438.8 122.3h.8M418.2 129.2h.8M448.4 109.1h.8M453.6 120h.8M436.6 113.1h.8M426 112.5h.8M432 118.6h.8M443.2 105.9h.8M430.1 121.2h.8M440.9 127.1h.8M444 126.6h.8M425.7 98.5h.8M430.1 110.5h.8M432.9 110.5h.8M444.6 109h.8M443.4 133.6h.8M431.8 115.9h.8M437.2 124.3h.8M439.7 115.6h.8M445.6 105.1h.8M448.1 117.8h.8M437.8 111.5h.8M441 125.5h.8M417.9 145.3h.8M432.5 129.6h.8M444.3 116.4h.8M440 110.2h.8M453.2 106.6h.8M444.2 110.1h.8M439.1 126.6h.8M427.6 123.2h.8M421.6 111.5h.8M446.8 110.6h.8M419 128.7h.8M464.8 108.7h.8M436.7 120.9h.8M435.5 120.4h.8M436.8 119.1h.8M436.7 125.9h.8M417.6 113.1h.8M417.6 123.5h.8M440.9 120.1h.8M437.6 101.2h.8M424.9 131.6h.8M457.3 109.5h.8M440.7 124.9h.8M457.8 112.9h.8M437.8 113.5h.8M429.8 117.6h.8M427.1 127.4h.8M445.8 108.1h.8M447.9 116.4h.8M435.7 117.4h.8M448.1 101.9h.8M428.5 118.7h.8M432.5 125.9h.8M441.7 111.1h.8M435 100.4h.8M449.4 132.6h.8M441.8 103.5h.8M442.7 106.6h.8M446.3 117.7h.8M432.1 139h.8M421.7 123.1h.8M446.8 116.6h.8M437.9 113.3h.8M446.7 114.2h.8M439.4 126.8h.8M449.7 102.5h.8M428.5 112.4h.8M426.5 126.2h.8M439.9 100.7h.8M436.6 120.8h.8M435.7 126.8h.8M442.9 112.6h.8M450.4 111.6h.8M450.9 113.9h.8M442 129h.8M432.6 124.1h.8M430.3 113.5h.8M430.3 133.5h.8M455.6 115.6h.8M421.5 134.5h.8M441.3 120.4h.8M442.8 119.3h.8M447 121.4h.8M436.4 112.3h.8M417.6 133.6h.8M414.2 127h.8M436.6 116.3h.8M438.4 134h.8M429.3 134.7h.8M433.9 118.1h.8M440.2 119.7h.8M422.9 132h.8M435.7 117.9h.8M437 116h.8M443.8 103.7h.8M432.4 125.5h.8M439.8 124.6h.8M408.6 134.2h.8M446.4 128.7h.8M442.8 103.9h.8M443.7 104.2h.8M438.6 112.4h.8M427.7 131.8h.8M441.3 111.1h.8M425.5 117.3h.8M441.1 125.5h.8M432.7 119.5h.8M427.7 111.2h.8M430.7 115.2h.8M449.6 110.3h.8M449.3 108h.8M445.5 125.5h.8M442.1 114.5h.8M443.6 116.1h.8M445.4 105.3h.8M428.7 114h.8M452 113.4h.8M437 122.9h.8M459.5 109.8h.8M432.1 111.1h.8M455 131h.8M447.3 107.1h.8M426.9 133.9h.8M427.3 119.8h.8M456.3 99.9h.8M447.4 136.6h.8M442.8 89.7h.8M443.8 110.1h.8M436.1 111.7h.8M443.3 119.4h.8M438.1 124.4h.8M439.1 104.1h.8M455.4 106.2h.8M452.3 121h.8M448.4 133.6h.8M423.8 115.7h.8M442.5 131.9h.8M456.7 112h.8M426.2 120.7h.8M435.8 119h.8M426.5 124.8h.8M434.8 123.2h.8M425.5 119.6h.8M441.7 120.6h.8M438.9 117.6h.8M432.9 113.8h.8M429.1 113.9h.8M444.2 116.2h.8M431.6 112.2h.8M432.6 118.5h.8M445.4 107.9h.8M436.2 111.1h.8M442.2 110.8h.8M420.1 109.5h.8M432.3 116.8h.8M442.5 100.8h.8M425.7 112.5h.8M445.9 113.7h.8M436.4 123.5h.8M436.4 112.6h.8M439.4 121.4h.8M454.1 122.7h.8M440.2 115.5h.8M434.2 110.8h.8M438.1 121.8h.8M432 117.5h.8M427.6 129.4h.8M447.2 110.1h.8M439.7 117.2h.8M436.6 115.2h.8M456.8 125.7h.8M448.2 112.4h.8M428 111.1h.8M446 108.9h.8M440.2 109.8h.8M423.1 147.1h.8M428.3 128.9h.8M440.6 98.3h.8M438.3 115.1h.8M430.4 138.8h.8M434.8 123.7h.8M446 129.5h.8M426.7 120.3h.8M443.1 120h.8M442.3 124.6h.8M450 112.3h.8M419.8 119.5h.8M419.4 124.3h.8M453.1 122h.8M443.1 121.5h.8M432.1 117.5h.8M436.5 101.2h.8M431.3 112.4h.8M442.2 119.2h.8M445.3 124.8h.8M443.8 124.8h.8M430 101.8h.8M432.8 111.2h.8M422.7 103.4h.8M433.2 116.3h.8M425.4 122.7h.8M445.2 112.2h.8M439.5 106.6h.8M449.2 99.7h.8M426.3 126.3h.8M448.7 121.9h.8M448.6 118.6h.8M423.4 128.3h.8M421.5 106.4h.8M445.8 99.4h.8M447.1 118.4h.8M429.6 112.4h.8M449.7 108.4h.8M439.2 116.8h.8M443.2 118.9h.8M443.3 122.4h.8M430.6 108.2h.8M432.1 125.9h.8M429.6 124.3h.8M441.3 107.7h.8M431 108.8h.8M427.5 128.4h.8M434.1 108.2h.8M429.8 115.2h.8M431 114.9h.8M442.6 135.2h.8M426.2 111.4h.8M438.8 127.8h.8M438.1 122.8h.8M431.9 116.4h.8M452 109.4h.8M434.8 125.4h.8M417 116h.8M432.3 116.1h.8M432.2 108.1h.8M440.2 112.9h.8M436.1 120.8h.8M438.4 126.3h.8M430.1 124.7h.8M425.1 102.7h.8M425.3 120h.8M435.2 105.5h.8M429.3 117.4h.8M420.9 122.7h.8M450.2 117.1h.8M423.6 118.6h.8M420.3 107.4h.8M454.6 97.6h.8M437.4 111.7h.8M427 108.7h.8M476.4 116.5h.8M477.8 123.7h.8M478.3 121.2h.8M482.1 107.5h.8M484.5 116.1h.8M489 113.1h.8M483.9 124.1h.8M474.8 104.4h.8M475 125h.8M480.3 126h.8M476.3 124.5h.8M480.1 123.1h.8M482.5 118.9h.8M485.1 105.9h.8M478.9 126.7h.8M476.5 124.2h.8M480.4 120.4h.8M471.6 110.4h.8M482.7 107.7h.8M483 124h.8M469.7 118.9h.8M476.2 108.8h.8M474.4 120.5h.8M484.7 139.6h.8M485.4 113.9h.8M474.4 127h.8M483 118.4h.8M475.3 107.5h.8M479.3 130.9h.8M485.7 109.8h.8M473.9 116.9h.8M483.1 111.3h.8M480.6 125.7h.8M474.1 133.7h.8M485.3 118.6h.8M481.2 122.7h.8M477.6 124.4h.8M480.5 111.4h.8M479.9 115.5h.8M478.5 124.1h.8M483 126.1h.8M478.6 123.7h.8M479.2 132.5h.8M476.3 126.9h.8M478.3 103.1h.8M482.9 106.6h.8M477 117.4h.8M481.7 116.9h.8M481.6 120.4h.8M474.3 128.6h.8M485.3 112.9h.8M482.7 115.5h.8M477.2 115.5h.8M473.2 112.5h.8M482.6 126.7h.8M481.9 120h.8M477.9 126.3h.8M487 121h.8M486.5 119.1h.8M479.3 125.7h.8M480.6 116h.8M478.3 119.1h.8M480.1 104.2h.8M481.9 132.7h.8M481.5 122h.8M482.1 125.7h.8M483 115.2h.8M476.2 121.9h.8M481.8 113.4h.8M479.3 122.1h.8M485.8 112.9h.8M476.9 117.9h.8M477.4 113.8h.8M476.9 128.1h.8M481.8 119.6h.8M485.9 145.3h.8M482.4 125.5h.8M476.8 123h.8M478.1 105.3h.8M481.7 113.2h.8M485.4 115.8h.8M479.3 110.8h.8M479.7 117.4h.8M482.5 111.6h.8M477.7 109h.8M477.8 114.7h.8M479.7 112.4h.8M483.5 111.9h.8M481.1 116.9h.8M481.6 118.8h.8M478.7 117.9h.8M478.4 116.9h.8M484.3 125.2h.8M485 111h.8M484.5 121.8h.8M482.5 115.8h.8M486.4 110.6h.8M481.1 106.7h.8M479.2 121.4h.8M481.1 120.4h.8M484.9 109.3h.8M474.1 126.8h.8M474.9 115.4h.8M488.5 124.3h.8M479.8 126h.8M477.3 124.4h.8M478.8 112.2h.8M476.8 113.1h.8M481.2 133.4h.8M483.6 126h.8M479.8 132.6h.8M479.9 130.3h.8M475.9 123.3h.8M476.5 115.4h.8M479.6 102.7h.8M481.6 118.8h.8M474.2 117.2h.8M479.9 104.7h.8M477.9 126.8h.8M478.8 116.5h.8M479.9 116.3h.8M476.4 116.8h.8M473.3 119.4h.8M479.2 106.8h.8M474.9 119.8h.8M478.7 112.7h.8M478.3 119.9h.8M483.9 114.5h.8M473.5 110.6h.8M476.9 121.7h.8M484.2 121.1h.8M477.3 126.1h.8M478.7 108.1h.8M479.6 135.3h.8M480.1 112.3h.8M482.9 111.4h.8M484.3 124.1h.8M475.6 114.6h.8M479 111.3h.8M481.5 116.1h.8M486.2 120.3h.8M483.6 126.2h.8M481.8 125h.8M477.8 126.5h.8M483.7 127.1h.8M478.3 113.4h.8M484.3 117.5h.8M489.2 122.4h.8M476.2 123.5h.8M481.1 102.2h.8M478.2 99.6h.8M489.5 108.3h.8M477.3 115.3h.8M477.5 128.3h.8M479.4 106.2h.8M482.9 120.9h.8M475.3 125.9h.8M475.6 110.5h.8M485.4 113.9h.8M480.4 111.1h.8M479.2 101h.8M479.2 111.5h.8M483.5 114.4h.8M477.3 114h.8M473.6 121.4h.8M474 107.7h.8M481.2 115.3h.8M487.4 106.3h.8M481.5 133h.8M478 107.1h.8M483.8 133.6h.8M477.5 125h.8M482.6 119h.8M483.1 115.8h.8M482.5 115.9h.8M479.7 108.9h.8M480.1 117.2h.8M477.1 111.9h.8M478.9 129.8h.8M481.9 123.6h.8M484.9 123.9h.8M486.1 129.9h.8M482.8 117.2h.8M480.7 117.3h.8M477.7 105.1h.8M481.7 106.8h.8M482.7 132.7h.8M480.6 110.2h.8M478 123.1h.8M480 114.4h.8M481.2 108.3h.8M476.7 121.3h.8M477.7 123.2h.8M478.6 118.7h.8M479.7 128.7h.8M479.3 118.7h.8M476.3 119.2h.8M479.7 120.6h.8M473.2 123.2h.8M480.5 120.6h.8M481.7 126.5h.8M476.9 113.6h.8M481.1 105.6h.8M488 101.3h.8M482.2 114h.8M482.5 130.6h.8M486.9 112.1h.8M480.5 111.7h.8M475.5 119.1h.8M478.1 107.7h.8M479.1 113h.8M476.3 119.7h.8M482.2 121.1h.8M477.9 110.5h.8M472.3 123.8h.8M483.7 110.8h.8M475.5 108h.8M485.2 116.4h.8M478.8 118.6h.8M480.3 115.4h.8M479.7 123.4h.8M483.6 108.9h.8M479.8 117.4h.8M480.9 137.8h.8M482.7 124.2h.8M479.9 122.6h.8M484.5 128.1h.8M477.4 119.5h.8M481.5 109.1h.8M479.1 114.2h.8M483.4 118.4h.8M487.3 122.5h.8M478.8 120.3h.8M480.6 111.4h.8M481.6 106.6h.8M481 114.2h.8M480.6 112.3h.8M486.3 112.6h.8M483.1 118.6h.8M484.4 112.4h.8M475.9 123.8h.8M483.9 123.5h.8M466.9 132.1h.8M485.4 118.3h.8M477.2 122.3h.8M474.3 115.5h.8M482.4 129.4h.8M478.9 116.3h.8M475.5 117h.8M477.9 118.2h.8M477.7 121.7h.8M479.9 112.4h.8M482.3 122.4h.8M479.4 116.5h.8M483.1 122.2h.8M479.7 134.1h.8M478.6 107.4h.8M478 119.8h.8M474.2 133.6h.8M483.5 110.2h.8M481.6 107.6h.8M480.2 116.1h.8M485.7 102.9h.8M478.5 102.6h.8M478.6 115.4h.8M480.3 126.6h.8M477.1 113.5h.8M485.4 118.4h.8M476.9 118.2h.8M476.4 110.9h.8M478.4 105.7h.8M486.5 114.8h.8M481.1 116h.8M479.9 111.4h.8M481.7 114.5h.8M477.3 125.5h.8M485.6 121.7h.8M482.1 115.4h.8M480.7 123.9h.8M480.4 128.9h.8M485.2 120h.8M481.1 111.2h.8M478.8 112.7h.8M479.1 110.7h.8M481.6 120.7h.8M479.7 131.3h.8M481.2 117.6h.8M481 113.2h.8M482.9 110.6h.8M480.1 134.2h.8M481.3 109.4h.8M476.4 127.4h.8M473.8 131.5h.8M484.9 114.3h.8M481.2 114.2h.8M477 121.6h.8M477.9 122.9h.8M481.4 113h.8M480.6 118.4h.8M479.7 116.2h.8M484.5 112.1h.8M480.8 126.4h.8M481.7 114.7h.8M476.3 115.8h.8M473.5 114.4h.8M480.2 128.7h.8M482.5 126.5h.8M481.9 120h.8M474.8 113.4h.8M479.5 117.3h.8M476 105.6h.8M480.9 115.8h.8M480.3 116.2h.8M479.4 108.7h.8M483.3 121.2h.8M480.2 131.9h.8M477.8 124.7h.8M480.1 118.2h.8M483.3 118h.8M480.2 108.4h.8M481.3 121.2h.8M478.8 108.6h.8M483.6 119.2h.8M484.3 117.5h.8M489.2 108.3h.8M482.8 119.1h.8M481.1 116.3h.8M482.2 124.9h.8M480.6 109.8h.8M483.7 126h.8M476.2 120h.8M485.6 123h.8M478.5 120.3h.8M481.5 109.3h.8M479.3 115.5h.8M479.1 128.7h.8M474.1 109.9h.8M477.8 128.1h.8M480 116h.8M479.5 130.6h.8M487 119.9h.8M476.9 115.9h.8M474.2 125.5h.8M479.6 126.9h.8M478.3 112.1h.8M472.8 120.1h.8M483.9 100.8h.8M476.6 117.4h.8M483.9 133.1h.8M486 120.3h.8M475.3 111.4h.8M482.1 118.2h.8M477.5 117.4h.8M480.8 136h.8M479.2 122.6h.8M481.3 124.1h.8M477.9 129.9h.8M485 122.1h.8M476.5 109.5h.8M479.6 117.1h.8M477.2 117.1h.8M474.9 116.6h.8M475.6 120.3h.8M471.7 112.1h.8M478.8 106.4h.8M478.7 116.4h.8M484.8 123.5h.8M478.8 124.5h.8M480 124.4h.8M478.8 120.2h.8M479.1 125.6h.8M486.3 130.8h.8M485.1 116.8h.8M485.8 115.7h.8M480.2 111h.8M483.5 105.1h.8M480 123.5h.8M476.4 121.9h.8M476.5 115.4h.8M481.5 129.2h.8M487.5 110.1h.8M474.5 112.2h.8M481 117.1h.8M475.7 111.1h.8M481 118.4h.8M487.3 108.7h.8M478.3 145.7h.8M476 126.7h.8M478.5 119h.8M484.5 113.5h.8M479.4 118.2h.8M480.4 131.6h.8M485.2 112.9h.8M484.7 105.9h.8M477.9 112.3h.8M478.1 119.3h.8M481.2 110.8h.8M481.6 112.7h.8M482.1 120.3h.8M476.3 110.7h.8M483.6 117.3h.8M481.2 115.3h.8M485.6 121.5h.8M477.8 119.6h.8M476.5 114.7h.8M479 109.8h.8M477.2 126.4h.8M477.1 116.1h.8M476 127.8h.8M476.9 123.8h.8M482.4 122.2h.8M478.5 100.5h.8M477.1 116.1h.8M475.2 108.7h.8M481.3 117.9h.8M483.8 121.5h.8M484.7 120.1h.8M479.7 119.4h.8M483.3 125.5h.8M482.5 114.2h.8M476.6 125.9h.8M483.9 109.9h.8M480.4 110.2h.8M480.5 134.8h.8M479 114.6h.8M480 114.3h.8M481.6 105.4h.8M482.8 111.9h.8M480.4 137.7h.8M484.5 119.5h.8M479.8 121.8h.8M483.5 144.6h.8M487.1 129.6h.8M477.5 129.6h.8M479.7 119.4h.8M479 115.2h.8M482.2 119.5h.8M482.8 113.9h.8M477.2 114.7h.8M479.4 120.9h.8M486.6 119.1h.8M479.4 138h.8M486.6 125.2h.8M483.7 103.9h.8M479 117.8h.8M480.3 102.5h.8M481.3 132.4h.8M485.1 120.2h.8M482.1 118h.8M472.9 122.3h.8M483.6 106.5h.8M488.4 124.2h.8M482.1 129.5h.8M477 117.3h.8M475.1 125.6h.8M482 136.3h.8M482.9 114.7h.8M473.2 115.4h.8M479.1 117.6h.8M478.5 115.4h.8M480.8 113.2h.8M477.4 116.2h.8M475 99.7h.8M480.1 110.1h.8M475.1 116.8h.8M480.3 128.1h.8M478.3 117.8h.8M479.6 113h.8M475.6 102.4h.8M473.8 109.2h.8M477.1 113.7h.8M473.8 120h.8M481.5 108h.8M477.7 114.3h.8M482.4 127.3h.8M482.3 123.5h.8M484.6 123.3h.8M481 122.2h.8M483.6 119.2h.8M483.8 113.6h.8M476.4 117.6h.8M482.2 134.3h.8M479.6 109.7h.8M474 110.6h.8M479 114.6h.8M481.4 118.1h.8M478.1 137.9h.8M478.3 115.7h.8M475.9 112.8h.8M481.2 104.1h.8M479.1 111.8h.8M480.5 122.7h.8M479.9 125.5h.8M478.4 120.6h.8M476.9 104.8h.8M476.6 115.5h.8M482 132.6h.8M481.7 122.9h.8M477.2 131.4h.8M478 116.9h.8M486.9 125.3h.8M487.8 113.1h.8M481.6 108.1h.8M481.5 112.8h.8M484.8 122.2h.8M474.3 114.9h.8M477.5 118.6h.8M483.8 108.3h.8M479.4 123.3h.8M477.1 114.5h.8M477.9 126.2h.8M482.9 108.8h.8M484 130.9h.8M479.1 120.6h.8M482.3 123.5h.8M487.9 118.8h.8M479.2 119.7h.8M479.9 103.3h.8M483.3 120.3h.8M477.3 110.9h.8M468.5 122.7h.8M480.2 122.6h.8M484.5 118h.8M471.2 121.6h.8M488.3 136.4h.8M478.4 142.3h.8M472.5 114.5h.8M476 144.1h.8M460 124.2h.8M478.8 110.6h.8M481 98.4h.8M479.9 109.8h.8M473.8 124h.8M477.7 114.9h.8M478.5 112.6h.8M486.6 124.7h.8M480.3 136.7h.8M490.2 103.8h.8M479.3 107.1h.8M482.5 114.3h.8M474.1 117.8h.8M485.7 109.9h.8M480.7 117.7h.8M476.4 122.3h.8M489.6 116h.8M479.8 125.2h.8M468.8 117.7h.8M481.9 125h.8M479 109.6h.8M476.2 127.4h.8M473.9 131.5h.8M481 139.1h.8M468.4 120.6h.8M468.5 108.1h.8M490.8 129.1h.8M480.7 108.8h.8M478.6 126.3h.8M486.8 98h.8M477.9 107.6h.8M492.2 138.9h.8M478.7 117.3h.8M487.6 139.6h.8M475.8 131.6h.8M480.4 123.5h.8M469.3 144.5h.8M477.9 108.7h.8M470 138.1h.8M480.2 131.7h.8M479.2 105.1h.8M477.2 111.8h.8M471.6 122.6h.8M473.9 124.5h.8M479.3 115.1h.8M472.8 117.9h.8M485 133h.8M486 111.2h.8M472.9 123.5h.8M478.3 128.3h.8M481.1 104.6h.8M479.9 138h.8M477.8 120.2h.8M478.8 103h.8M482.9 125.6h.8M483.8 114.6h.8M474 108.8h.8M477.5 120.5h.8M482.1 109.9h.8M473.8 107.6h.8M475.3 130.6h.8M484 121.1h.8M485.5 125.8h.8M475.6 128.3h.8M470.5 112.6h.8M479.8 121h.8M474.3 117.1h.8M471.7 111.9h.8M495.6 127.7h.8M484.5 134.6h.8M468.7 129.4h.8M473.8 104.6h.8M475 122.1h.8M485.2 133.3h.8M479.4 135h.8M465.8 119.5h.8M482.3 148.9h.8M468.4 92.2h.8M477.1 117.8h.8M481.7 118.3h.8M472.5 115.6h.8M480.2 149.2h.8M460.3 107.1h.8M477.1 115.4h.8M468.9 115.2h.8M474.8 122.2h.8M481.9 116.1h.8M482.2 112h.8M474.8 124.4h.8M475.9 128.8h.8M483.6 113.7h.8M491.8 128.6h.8M474.6 107.2h.8M477.4 121.1h.8M482.5 124.5h.8M482.4 103.7h.8M474.7 119.9h.8M483.3 119.2h.8M479.9 109.3h.8M485.7 121.5h.8M470.1 117.5h.8M476.8 122.4h.8M490.7 107h.8M486.8 106.6h.8M477.8 107.7h.8M478 133.3h.8M489.3 131h.8M477.6 130.2h.8M468.9 118.9h.8M473.9 96.5h.8M476.5 105.9h.8M485.9 110.3h.8M485.9 117.9h.8M485.1 127.9h.8M487 110.3h.8M470.2 122.7h.8M493.4 134.7h.8M478.9 133.1h.8M478.3 123h.8M486.2 124.4h.8M477.7 122h.8M485.9 135.5h.8M488.1 126.2h.8M472.3 130.7h.8M476.6 111.5h.8M477.8 112.4h.8M470.4 121.7h.8M472.6 130.8h.8M480.5 106.4h.8M481.3 125.3h.8M471.1 129.9h.8M476 117.4h.8M483 95.9h.8M475.1 128.7h.8M480.9 137.2h.8M482.1 121.5h.8M485.8 119h.8M483.5 91.1h.8M469.3 133.1h.8M485.3 126.7h.8M485 100.9h.8M481.3 105.4h.8M475.1 111.5h.8M485.3 111.5h.8M484.6 129.4h.8M480.7 125.4h.8M486.2 123.4h.8M483.1 126.6h.8M468 142.7h.8M481.9 119.9h.8M482.5 110h.8M477.5 107.2h.8M477.7 133.2h.8M470.3 109h.8M481.9 113.3h.8M495 110.6h.8M485.8 121.2h.8M481.5 132.9h.8M490.9 136.4h.8M482.9 119.5h.8M483.6 130.7h.8M478.2 110.8h.8M472.8 104.3h.8M480.9 133.4h.8M482.1 118.3h.8M471.6 126.1h.8M496.3 138.9h.8M478.1 137.3h.8M478.7 120.8h.8M479.3 105.5h.8M488.7 115.6h.8M479.4 123.7h.8M482.4 111.8h.8M474.3 117.7h.8M472.6 111.1h.8M483.3 117.4h.8M482.6 117.6h.8M480.9 113.3h.8M488.3 114h.8M481.7 141.7h.8M488.4 113h.8M474.3 123.9h.8M480.4 135.5h.8M475.9 127.6h.8M477.6 114.1h.8M487.9 137.9h.8M482.6 124.7h.8M476.4 141.8h.8M472.9 134.3h.8M474.7 128.3h.8M479.6 116.8h.8M477.4 123.7h.8M475.9 112.9h.8M487.4 112h.8M479.4 107.9h.8M470.8 115.1h.8M492.5 123h.8M483.4 130.7h.8M472.2 110.1h.8M478.1 132.6h.8M479.7 107.1h.8M478.1 102.3h.8M480.5 105.4h.8M472.8 99.5h.8M473.6 113.8h.8M484 115.9h.8M477.1 114.7h.8M479.1 116.2h.8M471 117.8h.8M482.4 101.8h.8M466.3 130h.8M477.6 110.9h.8M468.9 117.5h.8M485.3 113.5h.8M479.7 147.1h.8M483 119.3h.8M471.2 135h.8M484.9 117h.8M483.7 127.4h.8M489 131.4h.8M479.4 129.8h.8M477.3 108.7h.8M476.5 115.7h.8M486.3 121.9h.8M482.1 111.6h.8M483.4 114.3h.8M469 128.1h.8M480.1 137.3h.8M489.4 120.7h.8M470.1 95.7h.8M478.9 105.2h.8M487.1 126.8h.8M471.1 98.4h.8M488.2 133.5h.8M485.2 138.5h.8M482 112.5h.8M480 121.3h.8M474.7 119.4h.8M460.8 107.4h.8M477.1 94.4h.8M479.8 113.2h.8M494.3 137.4h.8M484.5 118.5h.8M465.9 107.5h.8M476.3 132.1h.8M465.2 118.5h.8M486.4 127.5h.8M472.1 119h.8M481.1 133.2h.8M475.7 117.8h.8M477.5 107.3h.8M474.7 129.1h.8M475.7 114.5h.8M473.8 111.1h.8M483.2 124.2h.8M481.2 122.9h.8M478.9 128.4h.8M474 116.7h.8M471.3 135.3h.8M483.4 121.7h.8M481.3 128.9h.8M483.2 127.9h.8M478.6 119.6h.8M485 129.2h.8M481.1 134h.8M473.7 121.1h.8M471.5 133.8h.8M483 121.3h.8M475.8 119.3h.8M462 130.4h.8M482.7 127.3h.8M473.5 116.3h.8M475.4 119.9h.8M474.3 110.4h.8M490.4 113.1h.8M480 125.6h.8M486.8 135.4h.8M476.4 128.2h.8M484.2 125h.8M465.6 99.4h.8M473.8 141h.8M485 119.1h.8M479.2 123.8h.8M478.6 129.4h.8M473.6 115.4h.8M477.1 105.7h.8M470.6 111h.8M470.5 130.6h.8M485.1 126.3h.8M471.6 124.5h.8M479.2 104.5h.8M485.7 125.8h.8M482.9 95.8h.8M472.4 145.3h.8M472.6 140.2h.8M481.3 113.9h.8M473.5 110.2h.8M475.5 93.1h.8M487.5 150.5h.8M479.7 121.3h.8M474.6 118.8h.8M475 133.8h.8M473.4 119h.8M487.9 137.5h.8M474.2 99.8h.8M490.3 110.7h.8M476.3 121h.8M483.5 114.9h.8M476.1 115.6h.8M471 132.4h.8M475.5 122.7h.8M473.9 130.6h.8M490.9 112.8h.8M478.8 120.2h.8M488 114.4h.8M485.8 124.1h.8M484.3 114.8h.8M473.5 117.1h.8M484.2 119.3h.8M483.5 139.1h.8M468.4 108.1h.8M474.6 112.8h.8M481.9 107.5h.8M472.8 119.1h.8M478.1 121.8h.8M478.2 102h.8M474.9 126.2h.8M480.4 125.5h.8M471.2 112.6h.8M467 117.4h.8M472.1 128.3h.8M476.3 134.1h.8M492.1 123.9h.8M481.1 106.2h.8M475 92.1h.8M474 148.1h.8M482.4 135.9h.8M476.9 117.3h.8M479.3 115.3h.8M481.6 128.2h.8M469.7 96.1h.8M476.8 118.2h.8M469 128.8h.8M487.1 126.9h.8M469.3 122.9h.8M472.2 132.3h.8M480.5 124.8h.8M483.9 127.9h.8M495 104.3h.8M479.2 130.6h.8M483.3 89.3h.8M485.3 115h.8M471.7 141.2h.8M477.3 129.7h.8M482.1 127.7h.8M485.2 124.7h.8M486.6 120.8h.8M472.6 137.6h.8M478.8 129.7h.8M469 90.6h.8M479.2 123.8h.8M488.2 105.7h.8M472.8 123.8h.8M486.1 124h.8M481.7 130.5h.8M492.2 138h.8M476.6 101.8h.8M467.2 117.1h.8M472.4 122h.8M477.3 93.4h.8M484.6 128.1h.8M472.8 105.1h.8M487.7 123.7h.8M476.7 109.1h.8M473.9 139.2h.8M473.6 120.5h.8M475.8 118.7h.8M470.4 135.5h.8M478.9 130.1h.8M471.9 118.5h.8M491.2 120.1h.8M475.5 104h.8M474.1 127.2h.8M475.4 113h.8M485.5 139.8h.8M477.7 152.8h.8M475.9 115.8h.8M468 109h.8M473.5 149.5h.8M471 119.8h.8M479.3 126.3h.8M463.7 118.3h.8M470.6 119.2h.8M465.7 115.5h.8M476.4 106.8h.8M479.2 125.1h.8M483.5 106.6h.8M469.7 120.7h.8M478.6 113.5h.8M467.5 120.4h.8M485.3 109.5h.8M481.8 105.7h.8M482.6 104.2h.8M485 119.7h.8M485.4 115.6h.8M469.3 109h.8M471.7 123.6h.8M474 127.2h.8M477.4 114.8h.8M474.8 117.3h.8M481.4 136.1h.8M475.1 121.1h.8M484.9 137.1h.8M472.5 106.4h.8M474.5 135.3h.8M475.3 131.9h.8M477.2 127.7h.8M481.1 119.2h.8M474.1 121.5h.8M493.6 108.8h.8M483.3 117.8h.8M469.6 119.4h.8M483.9 105.9h.8M471 129.5h.8M469.4 134.6h.8M485.6 112.6h.8M479.3 134.6h.8M484.2 96.8h.8M468.7 121.8h.8M485.6 139.3h.8M480.8 119.4h.8M472.7 129.2h.8M478.4 144.1h.8M490.8 130.3h.8M473.1 119.9h.8M485.5 124.2h.8M481.9 113.8h.8M463.4 129.5h.8M490.3 116h.8M479.8 99h.8M487.8 149.5h.8M487.4 108.7h.8M479.2 122.8h.8M480.7 114h.8M481.4 122.9h.8M470.8 109.1h.8M489.3 124h.8M481.4 145.3h.8M474.2 135.6h.8M485.8 112.4h.8M477.4 125h.8M468.3 100.8h.8M474.4 136.6h.8M476.8 139.8h.8M467.3 117.2h.8M480.7 134.4h.8M483.5 133.8h.8M483 123h.8M488.6 130.8h.8M474.3 131.5h.8M482.5 123.4h.8M482.4 117.9h.8M475.9 102.1h.8M475.8 137.7h.8M461.8 116.5h.8M482.5 128.8h.8M468.3 120.6h.8M480 133.8h.8M479.1 113.3h.8M482.2 122.5h.8M471.2 121.3h.8M480.3 120.2h.8M455.9 111.8h.8M459.5 119.1h.8M451.2 107.1h.8M463.3 107.7h.8M452.5 99.6h.8M449 102.5h.8M458.4 118.3h.8M460 113.6h.8M463.2 111.3h.8M449.9 113h.8M460 132.6h.8M459 132.9h.8M457.9 98.7h.8M457 109.5h.8M458.2 108.8h.8M475.2 115.1h.8M457.7 111.7h.8M458.7 122.7h.8M458.9 121.3h.8M452.2 114.4h.8M458.2 113.9h.8M450.6 105.8h.8M448.1 116.3h.8M467.7 111.8h.8M449.1 108.6h.8M466.4 96.1h.8M456.6 113.1h.8M455.6 114.6h.8M461.9 115.6h.8M465.1 122.3h.8M447.9 101.6h.8M457.3 113h.8M460.2 100.9h.8M450.1 129.3h.8M459.9 115.5h.8M471 93.6h.8M460.5 109.8h.8M458.1 125.7h.8M458.2 98h.8M450.8 99.3h.8M466.8 106.1h.8M450.9 110.2h.8M449.3 116.4h.8M459.6 114.2h.8M466.8 108.2h.8M465.2 95.7h.8M465.4 129.8h.8M453.1 119.8h.8M451.8 113.2h.8M462.5 106.9h.8M451.2 111.1h.8M458.4 115.9h.8M459.4 95.2h.8M466.5 116.8h.8M448.5 110.6h.8M466.2 132.7h.8M457.9 106.8h.8M467.6 111.6h.8M458.7 96.6h.8M451.6 116h.8M471.8 115.8h.8M457.7 108.5h.8M450.8 100.5h.8M464.1 130.2h.8M456.6 103.7h.8M447.9 107.7h.8M466.1 96h.8M456.8 124.1h.8M469.9 105.3h.8M460.7 116.9h.8M460 111.4h.8M460.2 113.9h.8M457.6 110.2h.8M456.3 134.6h.8M458.9 122.8h.8M452.6 126.5h.8M466.3 113.6h.8M476.1 120.1h.8M471.9 103.6h.8M443.3 119.5h.8M459.3 105.9h.8M451.7 117.5h.8M464.8 123.1h.8M458.7 108h.8M449.3 102.6h.8M468.4 99.2h.8M458.2 107.4h.8M454 99.6h.8M456 116.8h.8M456.9 115.3h.8M454.1 102h.8M464.5 110.9h.8M457.1 117.3h.8M465.7 106.6h.8M459.3 109.9h.8M468.3 99h.8M453.8 111.4h.8M441.8 97.2h.8M462.2 123h.8M470.4 109.2h.8M462.6 112.5h.8M453.5 114.4h.8M458.5 124.7h.8M457.1 98.3h.8M460.6 106.2h.8M459.7 115.9h.8M446.4 95.5h.8M461.3 120.1h.8M454.7 111.6h.8M462.2 106.3h.8M458.2 107.1h.8M466 111.8h.8M452 114.4h.8M453.7 109h.8M450.1 109.9h.8M464.4 118.9h.8M463 103.7h.8M458.7 111.6h.8M457.1 109.2h.8M448.3 130.3h.8M453.4 78h.8M481.3 95.5h.8M448.5 75h.8M434.5 64.2h.8M457.1 93h.8M455.7 89.2h.8M465.3 81.4h.8M425.8 103.6h.8M438.5 55.1h.8M462.7 95.8h.8M445.5 68.3h.8M490.2 145.7h.8M422.7 129.6h.8M494.7 70.4h.8M486.1 122.3h.8M454.3 112.3h.8M443.4 87.6h.8M472.2 137.3h.8M437.5 68h.8M455.2 118.6h.8M430.3 60.1h.8M414.7 80.3h.8M471.7 116.4h.8M496.3 70.7h.8M423.3 117.7h.8M466.3 80.6h.8M412.1 105.9h.8M458.2 99.4h.8M437.8 106.9h.8M462.7 115.3h.8M421.7 99.5h.8M484.9 64.8h.8M473.8 147.6h.8M415.6 74h.8M479.7 105.1h.8M459.2 132.4h.8M438.3 106.2h.8M494.6 147.5h.8M444.2 98.5h.8M419.9 104.3h.8M474.4 63.9h.8M474.2 113.7h.8M468 92.8h.8M422.8 130.1h.8M481.7 120.1h.8M473.7 65.3h.8M492.3 119.6h.8M500.3 58.9h.8M493.5 90h.8M412.7 125.1h.8M468.2 55.6h.8M439.2 101h.8M498 80.2h.8M412.2 148.5h.8M425 131.4h.8M415.5 101.7h.8M466.7 109.4h.8M500.8 77.5h.8M436.3 106.3h.8M426.1 122.4h.8M474.5 90.5h.8M434.9 83.6h.8M456.4 95.7h.8M415 69.9h.8M481.9 145.4h.8M425.7 96h.8M451 89.5h.8M462 51.9h.8M501 149.9h.8M463.9 117h.8M454.6 73.1h.8M489.3 68.5h.8M412.6 145.4h.8M479.9 57.6h.8M482.7 82.6h.8M473.6 65.9h.8M490.8 95.4h.8M461 104.2h.8M414.8 99.6h.8M459.1 61.1h.8M467.4 98.8h.8M485.3 74.4h.8M461.4 87.2h.8M431.9 65.2h.8M450.3 65.4h.8M429.5 129.1h.8M480 140.8h.8M483.3 94h.8M415.5 58.6h.8M472.7 146.3h.8M487.4 86.8h.8M488.6 128.2h.8M468.3 135.9h.8M430.5 116.2h.8M481.3 102.6h.8M484.6 119.7h.8M432.5 116.9h.8M478.2 114.8h.8M434 57.5h.8M451.8 124.7h.8M479.5 142.5h.8M485.6 99.8h.8M439 104h.8M491.4 80.8h.8M427.8 139.5h.8M497.3 123.3h.8M500.2 131.3h.8M466.3 118h.8M460.4 138h.8M434.2 128.8h.8M474.3 92.1h.8M411.9 59.2h.8M491.1 121.2h.8M488.2 105.5h.8M440 93.6h.8M445.9 75.9h.8M439.8 92.7h.8M424.2 65.6h.8M493.3 137.2h.8M413.5 77.1h.8M456.9 94.2h.8M483.2 100.7h.8M438.5 110.3h.8M475.4 113.5h.8M418.7 148.9h.8M446 70.1h.8M443.1 63.5h.8M428.3 143.1h.8M426.5 141.4h.8M483.5 75.1h.8M493.7 58.5h.8M448.9 149h.8M438.4 135.5h.8M460.4 116.7h.8M496.3 132h.8M432 118.4h.8M444.8 112.9h.8M483.5 78h.8M432.1 66.4h.8M423.1 149.1h.8M487.5 66.9h.8M419.5 61.2h.8M469.1 127h.8M457.6 78.3h.8M434.7 75.2h.8M460.1 56h.8M490.4 127.5h.8M446.3 142.7h.8M492.3 107.1h.8M413.4 107.3h.8M438.7 130.1h.8M462.6 129.4h.8M430.9 76.6h.8M431.4 87.1h.8M459.2 97.1h.8M499.2 115.4h.8M467.8 79.9h.8M478.4 54.6h.8M465.5 149h.8M420.1 137.1h.8M434.7 85.2h.8M445.6 87.9h.8M495.9 96.4h.8M443.4 59.2h.8M496.3 102h.8M501.6 74h.8M440.2 106.5h.8M492.1 134.1h.8M486.6 58.5h.8M454.7 102h.8M477.6 68.3h.8M448.4 120.2h.8M410.5 96.2h.8M451.6 141.5h.8M501.6 125.3h.8M465.5 138.4h.8M475.3 60h.8M457.2 56.8h.8M426.6 126.7h.8M495.5 63h.8M474.2 125.1h.8M498.8 117h.8M477.7 112h.8M499.3 59.6h.8M448.4 86h.8M500.6 144.2h.8M437.9 68.9h.8M462 76.4h.8M499.9 120.5h.8M481.9 85.6h.8M459.3 108.7h.8M477.5 101.9h.8M447.7 70.1h.8M431.1 126.2h.8M470.6 113.2h.8M491.5 66.2h.8M489.2 87.7h.8M444.6 146.9h.8M442.7 77h.8M498.1 124.2h.8M453.5 115.5h.8M419.4 80.5h.8M458.6 128.6h.8M494.7 146.1h.8M489.7 135.8h.8M472.1 113h.8M420.3 116.7h.8M487.7 90.4h.8M420.8 71.7h.8M492.4 137.4h.8M436.3 68.9h.8M476.7 91.7h.8M435.6 140.5h.8M423.3 113.5h.8M498.8 61.9h.8M464.7 60h.8M466.7 59.4h.8M461 109.3h.8M480.6 90.4h.8M421.9 140.1h.8M469.4 117.4h.8M456 143.2h.8M459.7 75.3h.8M453.6 122.5h.8M453.3 94.5h.8M438.9 79.1h.8M443.5 86h.8M474 109.8h.8M410.3 87h.8M409.7 122.2h.8M434.1 135.5h.8M470 117.1h.8M482.8 110h.8M478 128.8h.8M416.2 118.7h.8M487.8 77.2h.8M444.8 136.9h.8M495.8 75.2h.8M455.8 99.9h.8M463.4 71.9h.8" stroke="#111" stroke-width="0.8" fill="none" opacity="0.8"/>
<path d="M458.2 45.8V156.3M401.7 96H516.3" stroke="#777" stroke-width="0.9" fill="none"/>
<line x1="422.3" x2="422.3" y1="156.3" y2="158.9" stroke="#555" stroke-width="0.7"/>
<text x="423.2" y="167.3" font-size="5.7" text-anchor="middle" style="fill:#1a1a1a;stroke:#1a1a1a;stroke-width:.2px">10<tspan dy="-2.2" font-size="4.1">2</tspan></text>
<line x1="431.2" x2="431.2" y1="156.3" y2="157.70000000000002" stroke="#777" stroke-width="0.45"/>
<line x1="436.4" x2="436.4" y1="156.3" y2="157.70000000000002" stroke="#777" stroke-width="0.45"/>
<line x1="440.1" x2="440.1" y1="156.3" y2="157.70000000000002" stroke="#777" stroke-width="0.45"/>
<line x1="443" x2="443" y1="156.3" y2="157.70000000000002" stroke="#777" stroke-width="0.45"/>
<line x1="445.3" x2="445.3" y1="156.3" y2="157.70000000000002" stroke="#777" stroke-width="0.45"/>
<line x1="447.3" x2="447.3" y1="156.3" y2="157.70000000000002" stroke="#777" stroke-width="0.45"/>
<line x1="449" x2="449" y1="156.3" y2="157.70000000000002" stroke="#777" stroke-width="0.45"/>
<line x1="450.5" x2="450.5" y1="156.3" y2="157.70000000000002" stroke="#777" stroke-width="0.45"/>
<line x1="451.9" x2="451.9" y1="156.3" y2="158.9" stroke="#555" stroke-width="0.7"/>
<text x="452.8" y="167.3" font-size="5.7" text-anchor="middle" style="fill:#1a1a1a;stroke:#1a1a1a;stroke-width:.2px">10<tspan dy="-2.2" font-size="4.1">3</tspan></text>
<line x1="460.8" x2="460.8" y1="156.3" y2="157.70000000000002" stroke="#777" stroke-width="0.45"/>
<line x1="466" x2="466" y1="156.3" y2="157.70000000000002" stroke="#777" stroke-width="0.45"/>
<line x1="469.7" x2="469.7" y1="156.3" y2="157.70000000000002" stroke="#777" stroke-width="0.45"/>
<line x1="472.6" x2="472.6" y1="156.3" y2="157.70000000000002" stroke="#777" stroke-width="0.45"/>
<line x1="474.9" x2="474.9" y1="156.3" y2="157.70000000000002" stroke="#777" stroke-width="0.45"/>
<line x1="476.9" x2="476.9" y1="156.3" y2="157.70000000000002" stroke="#777" stroke-width="0.45"/>
<line x1="478.6" x2="478.6" y1="156.3" y2="157.70000000000002" stroke="#777" stroke-width="0.45"/>
<line x1="480.1" x2="480.1" y1="156.3" y2="157.70000000000002" stroke="#777" stroke-width="0.45"/>
<line x1="481.5" x2="481.5" y1="156.3" y2="158.9" stroke="#555" stroke-width="0.7"/>
<text x="482.4" y="167.3" font-size="5.7" text-anchor="middle" style="fill:#1a1a1a;stroke:#1a1a1a;stroke-width:.2px">10<tspan dy="-2.2" font-size="4.1">4</tspan></text>
<line x1="490.4" x2="490.4" y1="156.3" y2="157.70000000000002" stroke="#777" stroke-width="0.45"/>
<line x1="495.6" x2="495.6" y1="156.3" y2="157.70000000000002" stroke="#777" stroke-width="0.45"/>
<line x1="499.3" x2="499.3" y1="156.3" y2="157.70000000000002" stroke="#777" stroke-width="0.45"/>
<line x1="502.2" x2="502.2" y1="156.3" y2="157.70000000000002" stroke="#777" stroke-width="0.45"/>
<line x1="504.5" x2="504.5" y1="156.3" y2="157.70000000000002" stroke="#777" stroke-width="0.45"/>
<line x1="506.5" x2="506.5" y1="156.3" y2="157.70000000000002" stroke="#777" stroke-width="0.45"/>
<line x1="508.2" x2="508.2" y1="156.3" y2="157.70000000000002" stroke="#777" stroke-width="0.45"/>
<line x1="509.7" x2="509.7" y1="156.3" y2="157.70000000000002" stroke="#777" stroke-width="0.45"/>
<line x1="511.1" x2="511.1" y1="156.3" y2="158.9" stroke="#555" stroke-width="0.7"/>
<text x="512" y="167.3" font-size="5.7" text-anchor="middle" style="fill:#1a1a1a;stroke:#1a1a1a;stroke-width:.2px">10<tspan dy="-2.2" font-size="4.1">5</tspan></text>
<line x1="406.8" x2="406.8" y1="156.3" y2="157.70000000000002" stroke="#777" stroke-width="0.45"/>
<line x1="410.5" x2="410.5" y1="156.3" y2="157.70000000000002" stroke="#777" stroke-width="0.45"/>
<line x1="413.4" x2="413.4" y1="156.3" y2="157.70000000000002" stroke="#777" stroke-width="0.45"/>
<line x1="415.7" x2="415.7" y1="156.3" y2="157.70000000000002" stroke="#777" stroke-width="0.45"/>
<line x1="417.7" x2="417.7" y1="156.3" y2="157.70000000000002" stroke="#777" stroke-width="0.45"/>
<line x1="419.4" x2="419.4" y1="156.3" y2="157.70000000000002" stroke="#777" stroke-width="0.45"/>
<line x1="420.9" x2="420.9" y1="156.3" y2="157.70000000000002" stroke="#777" stroke-width="0.45"/>
<line x1="401.7" x2="399.3" y1="53.2" y2="53.2" stroke="#555" stroke-width="0.7"/>
<text x="397.1" y="55.3" font-size="5.7" text-anchor="end" style="fill:#1a1a1a;stroke:#1a1a1a;stroke-width:.2px">10<tspan dy="-2.2" font-size="4.1">5</tspan></text>
<line x1="401.7" x2="400.4" y1="72.7" y2="72.7" stroke="#777" stroke-width="0.45"/>
<line x1="401.7" x2="400.4" y1="67.8" y2="67.8" stroke="#777" stroke-width="0.45"/>
<line x1="401.7" x2="400.4" y1="64.3" y2="64.3" stroke="#777" stroke-width="0.45"/>
<line x1="401.7" x2="400.4" y1="61.6" y2="61.6" stroke="#777" stroke-width="0.45"/>
<line x1="401.7" x2="400.4" y1="59.4" y2="59.4" stroke="#777" stroke-width="0.45"/>
<line x1="401.7" x2="400.4" y1="57.5" y2="57.5" stroke="#777" stroke-width="0.45"/>
<line x1="401.7" x2="400.4" y1="55.9" y2="55.9" stroke="#777" stroke-width="0.45"/>
<line x1="401.7" x2="400.4" y1="54.5" y2="54.5" stroke="#777" stroke-width="0.45"/>
<line x1="401.7" x2="399.3" y1="81.2" y2="81.2" stroke="#555" stroke-width="0.7"/>
<text x="397.1" y="83.2" font-size="5.7" text-anchor="end" style="fill:#1a1a1a;stroke:#1a1a1a;stroke-width:.2px">10<tspan dy="-2.2" font-size="4.1">4</tspan></text>
<line x1="401.7" x2="400.4" y1="100.7" y2="100.7" stroke="#777" stroke-width="0.45"/>
<line x1="401.7" x2="400.4" y1="95.8" y2="95.8" stroke="#777" stroke-width="0.45"/>
<line x1="401.7" x2="400.4" y1="92.3" y2="92.3" stroke="#777" stroke-width="0.45"/>
<line x1="401.7" x2="400.4" y1="89.6" y2="89.6" stroke="#777" stroke-width="0.45"/>
<line x1="401.7" x2="400.4" y1="87.4" y2="87.4" stroke="#777" stroke-width="0.45"/>
<line x1="401.7" x2="400.4" y1="85.5" y2="85.5" stroke="#777" stroke-width="0.45"/>
<line x1="401.7" x2="400.4" y1="83.9" y2="83.9" stroke="#777" stroke-width="0.45"/>
<line x1="401.7" x2="400.4" y1="82.4" y2="82.4" stroke="#777" stroke-width="0.45"/>
<line x1="401.7" x2="399.3" y1="109.1" y2="109.1" stroke="#555" stroke-width="0.7"/>
<text x="397.1" y="111.2" font-size="5.7" text-anchor="end" style="fill:#1a1a1a;stroke:#1a1a1a;stroke-width:.2px">10<tspan dy="-2.2" font-size="4.1">3</tspan></text>
<line x1="401.7" x2="400.4" y1="128.6" y2="128.6" stroke="#777" stroke-width="0.45"/>
<line x1="401.7" x2="400.4" y1="123.7" y2="123.7" stroke="#777" stroke-width="0.45"/>
<line x1="401.7" x2="400.4" y1="120.2" y2="120.2" stroke="#777" stroke-width="0.45"/>
<line x1="401.7" x2="400.4" y1="117.5" y2="117.5" stroke="#777" stroke-width="0.45"/>
<line x1="401.7" x2="400.4" y1="115.3" y2="115.3" stroke="#777" stroke-width="0.45"/>
<line x1="401.7" x2="400.4" y1="113.4" y2="113.4" stroke="#777" stroke-width="0.45"/>
<line x1="401.7" x2="400.4" y1="111.8" y2="111.8" stroke="#777" stroke-width="0.45"/>
<line x1="401.7" x2="400.4" y1="110.4" y2="110.4" stroke="#777" stroke-width="0.45"/>
<line x1="401.7" x2="399.3" y1="137.1" y2="137.1" stroke="#555" stroke-width="0.7"/>
<text x="397.1" y="139.2" font-size="5.7" text-anchor="end" style="fill:#1a1a1a;stroke:#1a1a1a;stroke-width:.2px">10<tspan dy="-2.2" font-size="4.1">2</tspan></text>
<line x1="401.7" x2="400.4" y1="151.7" y2="151.7" stroke="#777" stroke-width="0.45"/>
<line x1="401.7" x2="400.4" y1="148.2" y2="148.2" stroke="#777" stroke-width="0.45"/>
<line x1="401.7" x2="400.4" y1="145.5" y2="145.5" stroke="#777" stroke-width="0.45"/>
<line x1="401.7" x2="400.4" y1="143.3" y2="143.3" stroke="#777" stroke-width="0.45"/>
<line x1="401.7" x2="400.4" y1="141.4" y2="141.4" stroke="#777" stroke-width="0.45"/>
<line x1="401.7" x2="400.4" y1="139.8" y2="139.8" stroke="#777" stroke-width="0.45"/>
<line x1="401.7" x2="400.4" y1="138.3" y2="138.3" stroke="#777" stroke-width="0.45"/>
<text x="403.7" y="58.0" font-size="12.4" style="stroke-width:.15px">41</text>
<text x="515.4" y="58.0" font-size="12.4" text-anchor="end" style="stroke-width:.15px">27.7</text>
<text x="403.7" y="154.8" font-size="12.4" style="stroke-width:.15px">20.7</text>
<text x="515.4" y="154.8" font-size="12.4" text-anchor="end" style="stroke-width:.15px">10.5</text>
</g>
<g id="pc">
<text x="2.6" y="244.2" font-size="25.3" font-weight="bold">C</text>
<text transform="translate(40,346.7) rotate(-90)" font-size="19.2" text-anchor="middle">% BrdU<tspan dy="-6" font-size="11.5">+</tspan><tspan dy="6"> M</tspan><tspan font-family="Liberation Serif, serif" font-size="19.5">Φ</tspan></text>
<text transform="translate(149.4,251.6) scale(1.02,1)" font-size="23" text-anchor="middle" font-style="italic">Naive</text>
<path d="M95.3 398.9V395.8M92.2 395.8H98.4" stroke="#000" stroke-width="1.1" fill="none"/>
<rect x="90" y="398.9" width="10.7" height="30.8" fill="#808080" stroke="#000" stroke-width="1.1"/>
<path d="M106 396.6V393.5M103 393.5H109.1" stroke="#000" stroke-width="1.1" fill="none"/>
<rect x="100.7" y="396.6" width="10.7" height="33.1" fill="url(#hatch)" stroke="#000" stroke-width="1.1"/>
<path d="M127.3 403.2V397.5M124.2 397.5H130.4" stroke="#000" stroke-width="1.1" fill="none"/>
<rect x="122" y="403.2" width="10.7" height="26.5" fill="#808080" stroke="#000" stroke-width="1.1"/>
<path d="M138 394.9V389.5M134.9 389.5H141.1" stroke="#000" stroke-width="1.1" fill="none"/>
<rect x="132.7" y="394.9" width="10.7" height="34.8" fill="url(#hatch)" stroke="#000" stroke-width="1.1"/>
<path d="M159.2 406.9V402M156.1 402H162.2" stroke="#000" stroke-width="1.1" fill="none"/>
<rect x="153.8" y="406.9" width="10.7" height="22.8" fill="#808080" stroke="#000" stroke-width="1.1"/>
<path d="M169.8 399.8V396.3M166.8 396.3H172.9" stroke="#000" stroke-width="1.1" fill="none"/>
<rect x="164.5" y="399.8" width="10.7" height="29.9" fill="url(#hatch)" stroke="#000" stroke-width="1.1"/>
<path d="M191.2 391.8V379.5M188.1 379.5H194.2" stroke="#000" stroke-width="1.1" fill="none"/>
<rect x="185.8" y="391.8" width="10.7" height="37.9" fill="#808080" stroke="#000" stroke-width="1.1"/>
<path d="M201.8 386.4V374.7M198.8 374.7H204.9" stroke="#000" stroke-width="1.1" fill="none"/>
<rect x="196.5" y="386.4" width="10.7" height="43.3" fill="url(#hatch)" stroke="#000" stroke-width="1.1"/>
<rect x="79.6" y="258.6" width="137.9" height="171.1" fill="none" stroke="#000" stroke-width="1.2"/>
<line x1="79.0" x2="218.1" y1="429.7" y2="429.7" stroke="#000" stroke-width="1.4"/>
<line x1="76.0" x2="79.6" y1="429.7" y2="429.7" stroke="#000" stroke-width="1.2"/>
<text transform="translate(67.9,435.4) scale(1.07,1)" font-size="15.8" text-anchor="end">0</text>
<line x1="76.0" x2="79.6" y1="401.2" y2="401.2" stroke="#000" stroke-width="1.2"/>
<text transform="translate(67.9,406.9) scale(1.07,1)" font-size="15.8" text-anchor="end">10</text>
<line x1="76.0" x2="79.6" y1="372.7" y2="372.7" stroke="#000" stroke-width="1.2"/>
<text transform="translate(67.9,378.4) scale(1.07,1)" font-size="15.8" text-anchor="end">20</text>
<line x1="76.0" x2="79.6" y1="344.1" y2="344.1" stroke="#000" stroke-width="1.2"/>
<text transform="translate(67.9,349.8) scale(1.07,1)" font-size="15.8" text-anchor="end">30</text>
<line x1="76.0" x2="79.6" y1="315.6" y2="315.6" stroke="#000" stroke-width="1.2"/>
<text transform="translate(67.9,321.3) scale(1.07,1)" font-size="15.8" text-anchor="end">40</text>
<line x1="76.0" x2="79.6" y1="287.1" y2="287.1" stroke="#000" stroke-width="1.2"/>
<text transform="translate(67.9,292.8) scale(1.07,1)" font-size="15.8" text-anchor="end">50</text>
<line x1="76.0" x2="79.6" y1="258.6" y2="258.6" stroke="#000" stroke-width="1.2"/>
<text transform="translate(67.9,264.3) scale(1.07,1)" font-size="15.8" text-anchor="end">60</text>
<text transform="translate(98.8,450.7) scale(1.06,1)" font-size="15.1" text-anchor="middle">PEC</text>
<text transform="translate(131.3,450.7) scale(1.06,1)" font-size="15.1" text-anchor="middle">SP</text>
<text transform="translate(165.6,450.7) scale(1.06,1)" font-size="15.1" text-anchor="middle">BAL</text>
<text transform="translate(197.2,450.7) scale(1.06,1)" font-size="15.1" text-anchor="middle">LU</text>
<text transform="translate(347,253.5) scale(1.02,1)" font-size="23" text-anchor="middle" font-style="italic">Infected</text>
<path d="M293.2 286.8V267.7M290.1 267.7H296.3" stroke="#000" stroke-width="1.1" fill="none"/>
<rect x="287.8" y="286.8" width="10.7" height="144.9" fill="#808080" stroke="#000" stroke-width="1.1"/>
<path d="M303.9 295.7V269.4M300.8 269.4H307" stroke="#000" stroke-width="1.1" fill="none"/>
<rect x="298.5" y="295.7" width="10.7" height="136" fill="url(#hatch)" stroke="#000" stroke-width="1.1"/>
<path d="M325.1 361.8V342.7M321.9 342.7H328.2" stroke="#000" stroke-width="1.1" fill="none"/>
<rect x="319.7" y="361.8" width="10.7" height="69.9" fill="#808080" stroke="#000" stroke-width="1.1"/>
<path d="M335.8 364.7V350.7M332.6 350.7H338.9" stroke="#000" stroke-width="1.1" fill="none"/>
<rect x="330.4" y="364.7" width="10.7" height="67" fill="url(#hatch)" stroke="#000" stroke-width="1.1"/>
<path d="M357.2 394.1V388.1M354.1 388.1H360.3" stroke="#000" stroke-width="1.1" fill="none"/>
<rect x="351.8" y="394.1" width="10.7" height="37.6" fill="#808080" stroke="#000" stroke-width="1.1"/>
<path d="M367.9 400V394.9M364.8 394.9H371" stroke="#000" stroke-width="1.1" fill="none"/>
<rect x="362.5" y="400" width="10.7" height="31.7" fill="url(#hatch)" stroke="#000" stroke-width="1.1"/>
<path d="M388.9 387.2V381.5M385.8 381.5H392" stroke="#000" stroke-width="1.1" fill="none"/>
<rect x="383.5" y="387.2" width="10.7" height="44.5" fill="#808080" stroke="#000" stroke-width="1.1"/>
<path d="M399.6 391.2V384.9M396.4 384.9H402.7" stroke="#000" stroke-width="1.1" fill="none"/>
<rect x="394.2" y="391.2" width="10.7" height="40.5" fill="url(#hatch)" stroke="#000" stroke-width="1.1"/>
<rect x="277.3" y="260.6" width="138.7" height="171.1" fill="none" stroke="#000" stroke-width="1.2"/>
<line x1="276.7" x2="416.6" y1="431.7" y2="431.7" stroke="#000" stroke-width="1.4"/>
<line x1="273.7" x2="277.3" y1="431.7" y2="431.7" stroke="#000" stroke-width="1.2"/>
<text transform="translate(266.5,437.4) scale(1.07,1)" font-size="15.8" text-anchor="end">0</text>
<line x1="273.7" x2="277.3" y1="403.2" y2="403.2" stroke="#000" stroke-width="1.2"/>
<text transform="translate(266.5,408.9) scale(1.07,1)" font-size="15.8" text-anchor="end">10</text>
<line x1="273.7" x2="277.3" y1="374.7" y2="374.7" stroke="#000" stroke-width="1.2"/>
<text transform="translate(266.5,380.4) scale(1.07,1)" font-size="15.8" text-anchor="end">20</text>
<line x1="273.7" x2="277.3" y1="346.1" y2="346.1" stroke="#000" stroke-width="1.2"/>
<text transform="translate(266.5,351.8) scale(1.07,1)" font-size="15.8" text-anchor="end">30</text>
<line x1="273.7" x2="277.3" y1="317.6" y2="317.6" stroke="#000" stroke-width="1.2"/>
<text transform="translate(266.5,323.3) scale(1.07,1)" font-size="15.8" text-anchor="end">40</text>
<line x1="273.7" x2="277.3" y1="289.1" y2="289.1" stroke="#000" stroke-width="1.2"/>
<text transform="translate(266.5,294.8) scale(1.07,1)" font-size="15.8" text-anchor="end">50</text>
<line x1="273.7" x2="277.3" y1="260.6" y2="260.6" stroke="#000" stroke-width="1.2"/>
<text transform="translate(266.5,266.3) scale(1.07,1)" font-size="15.8" text-anchor="end">60</text>
<text transform="translate(297.5,450.7) scale(1.06,1)" font-size="15.1" text-anchor="middle">PEC</text>
<text transform="translate(330.5,450.7) scale(1.06,1)" font-size="15.1" text-anchor="middle">SP</text>
<text transform="translate(364.5,450.7) scale(1.06,1)" font-size="15.1" text-anchor="middle">BAL</text>
<text transform="translate(396,450.7) scale(1.06,1)" font-size="15.1" text-anchor="middle">LU</text>
</g>
<g id="pd">
<text x="3.1" y="503.8" font-size="25.3" font-weight="bold">D</text>
<text transform="translate(37.8,601.2) rotate(-90)" font-size="18.9" text-anchor="middle">% M<tspan font-family="Liberation Serif, serif" font-size="19.5">Φ</tspan> of total cells</text>
<text transform="translate(149.2,508.7) scale(1.02,1)" font-size="23" text-anchor="middle" font-style="italic">Naive</text>
<path d="M95.3 613.4V595.7M92.2 595.7H98.4" stroke="#000" stroke-width="1.1" fill="none"/>
<rect x="90" y="613.4" width="10.7" height="73.3" fill="#808080" stroke="#000" stroke-width="1.1"/>
<path d="M106 656.2V647M103 647H109.1" stroke="#000" stroke-width="1.1" fill="none"/>
<rect x="100.7" y="656.2" width="10.7" height="30.5" fill="url(#hatch)" stroke="#000" stroke-width="1.1"/>
<path d="M126.9 682.1V681.6M123.8 681.6H130" stroke="#000" stroke-width="1.1" fill="none"/>
<rect x="121.6" y="682.1" width="10.7" height="4.6" fill="#808080" stroke="#000" stroke-width="1.1"/>
<path d="M137.6 681.6V681M134.5 681H140.7" stroke="#000" stroke-width="1.1" fill="none"/>
<rect x="132.3" y="681.6" width="10.7" height="5.1" fill="url(#hatch)" stroke="#000" stroke-width="1.1"/>
<path d="M159 590.5V581.1M155.9 581.1H162.1" stroke="#000" stroke-width="1.1" fill="none"/>
<rect x="153.7" y="590.5" width="10.7" height="96.2" fill="#808080" stroke="#000" stroke-width="1.1"/>
<path d="M169.7 560.3V545.5M166.6 545.5H172.8" stroke="#000" stroke-width="1.1" fill="none"/>
<rect x="164.4" y="560.3" width="10.7" height="126.4" fill="url(#hatch)" stroke="#000" stroke-width="1.1"/>
<path d="M190.8 621.1V619.4M187.8 619.4H193.9" stroke="#000" stroke-width="1.1" fill="none"/>
<rect x="185.5" y="621.1" width="10.7" height="65.6" fill="#808080" stroke="#000" stroke-width="1.1"/>
<path d="M201.5 656.2V655.3M198.4 655.3H204.6" stroke="#000" stroke-width="1.1" fill="none"/>
<rect x="196.2" y="656.2" width="10.7" height="30.5" fill="url(#hatch)" stroke="#000" stroke-width="1.1"/>
<rect x="79.6" y="515.5" width="137.9" height="171.2" fill="none" stroke="#000" stroke-width="1.2"/>
<line x1="79.0" x2="218.1" y1="686.7" y2="686.7" stroke="#000" stroke-width="1.4"/>
<line x1="76.0" x2="79.6" y1="686.7" y2="686.7" stroke="#000" stroke-width="1.2"/>
<text transform="translate(67.9,692.4) scale(1.07,1)" font-size="15.8" text-anchor="end">0</text>
<line x1="76.0" x2="79.6" y1="658.2" y2="658.2" stroke="#000" stroke-width="1.2"/>
<text transform="translate(67.9,663.9) scale(1.07,1)" font-size="15.8" text-anchor="end">10</text>
<line x1="76.0" x2="79.6" y1="629.6" y2="629.6" stroke="#000" stroke-width="1.2"/>
<text transform="translate(67.9,635.3) scale(1.07,1)" font-size="15.8" text-anchor="end">20</text>
<line x1="76.0" x2="79.6" y1="601.1" y2="601.1" stroke="#000" stroke-width="1.2"/>
<text transform="translate(67.9,606.8) scale(1.07,1)" font-size="15.8" text-anchor="end">30</text>
<line x1="76.0" x2="79.6" y1="572.6" y2="572.6" stroke="#000" stroke-width="1.2"/>
<text transform="translate(67.9,578.3) scale(1.07,1)" font-size="15.8" text-anchor="end">40</text>
<line x1="76.0" x2="79.6" y1="544" y2="544" stroke="#000" stroke-width="1.2"/>
<text transform="translate(67.9,549.7) scale(1.07,1)" font-size="15.8" text-anchor="end">50</text>
<line x1="76.0" x2="79.6" y1="515.5" y2="515.5" stroke="#000" stroke-width="1.2"/>
<text transform="translate(67.9,521.2) scale(1.07,1)" font-size="15.8" text-anchor="end">60</text>
<text transform="translate(98.8,707.7) scale(1.06,1)" font-size="15.1" text-anchor="middle">PEC</text>
<text transform="translate(131.3,707.7) scale(1.06,1)" font-size="15.1" text-anchor="middle">SP</text>
<text transform="translate(165.6,707.7) scale(1.06,1)" font-size="15.1" text-anchor="middle">BAL</text>
<text transform="translate(197.2,707.7) scale(1.06,1)" font-size="15.1" text-anchor="middle">LU</text>
<line x1="94.5" x2="106.3" y1="589.6" y2="589.6" stroke="#3a3a3a" stroke-width="1.4"/>
<text x="100.4" y="591.6" font-size="12.5" text-anchor="middle" style="fill:#555;stroke:#555;stroke-width:.3px">*</text>
<line x1="190.2" x2="202.3" y1="613.5" y2="613.5" stroke="#3a3a3a" stroke-width="1.4"/>
<text x="192.9" y="616" font-size="12.5" text-anchor="middle" style="fill:#555;stroke:#555;stroke-width:.3px">*</text>
<text x="199.3" y="616" font-size="12.5" text-anchor="middle" style="fill:#555;stroke:#555;stroke-width:.3px">*</text>
<text transform="translate(346.5,509.5) scale(1.02,1)" font-size="23" text-anchor="middle" font-style="italic">Infected</text>
<path d="M293.2 576.3V556M290.1 556H296.3" stroke="#000" stroke-width="1.1" fill="none"/>
<rect x="287.8" y="576.3" width="10.7" height="110.4" fill="#808080" stroke="#000" stroke-width="1.1"/>
<path d="M303.9 646.8V638.8M300.8 638.8H307" stroke="#000" stroke-width="1.1" fill="none"/>
<rect x="298.5" y="646.8" width="10.7" height="39.9" fill="url(#hatch)" stroke="#000" stroke-width="1.1"/>
<path d="M325.1 682.7V681.3M321.9 681.3H328.2" stroke="#000" stroke-width="1.1" fill="none"/>
<rect x="319.7" y="682.7" width="10.7" height="4" fill="#808080" stroke="#000" stroke-width="1.1"/>
<path d="M335.8 682.4V680.4M332.6 680.4H338.9" stroke="#000" stroke-width="1.1" fill="none"/>
<rect x="330.4" y="682.4" width="10.7" height="4.3" fill="url(#hatch)" stroke="#000" stroke-width="1.1"/>
<path d="M357.2 589.7V575.1M354.1 575.1H360.3" stroke="#000" stroke-width="1.1" fill="none"/>
<rect x="351.8" y="589.7" width="10.7" height="97" fill="#808080" stroke="#000" stroke-width="1.1"/>
<path d="M367.9 571.4V548.9M364.8 548.9H371" stroke="#000" stroke-width="1.1" fill="none"/>
<rect x="362.5" y="571.4" width="10.7" height="115.3" fill="url(#hatch)" stroke="#000" stroke-width="1.1"/>
<path d="M388.9 626.2V618.5M385.8 618.5H392" stroke="#000" stroke-width="1.1" fill="none"/>
<rect x="383.5" y="626.2" width="10.7" height="60.5" fill="#808080" stroke="#000" stroke-width="1.1"/>
<path d="M399.6 652.5V649.9M396.4 649.9H402.7" stroke="#000" stroke-width="1.1" fill="none"/>
<rect x="394.2" y="652.5" width="10.7" height="34.2" fill="url(#hatch)" stroke="#000" stroke-width="1.1"/>
<rect x="277.3" y="515.5" width="139" height="171.2" fill="none" stroke="#000" stroke-width="1.2"/>
<line x1="276.7" x2="416.90000000000003" y1="686.7" y2="686.7" stroke="#000" stroke-width="1.4"/>
<line x1="273.7" x2="277.3" y1="686.7" y2="686.7" stroke="#000" stroke-width="1.2"/>
<text transform="translate(266.5,692.4) scale(1.07,1)" font-size="15.8" text-anchor="end">0</text>
<line x1="273.7" x2="277.3" y1="658.2" y2="658.2" stroke="#000" stroke-width="1.2"/>
<text transform="translate(266.5,663.9) scale(1.07,1)" font-size="15.8" text-anchor="end">10</text>
<line x1="273.7" x2="277.3" y1="629.6" y2="629.6" stroke="#000" stroke-width="1.2"/>
<text transform="translate(266.5,635.3) scale(1.07,1)" font-size="15.8" text-anchor="end">20</text>
<line x1="273.7" x2="277.3" y1="601.1" y2="601.1" stroke="#000" stroke-width="1.2"/>
<text transform="translate(266.5,606.8) scale(1.07,1)" font-size="15.8" text-anchor="end">30</text>
<line x1="273.7" x2="277.3" y1="572.6" y2="572.6" stroke="#000" stroke-width="1.2"/>
<text transform="translate(266.5,578.3) scale(1.07,1)" font-size="15.8" text-anchor="end">40</text>
<line x1="273.7" x2="277.3" y1="544" y2="544" stroke="#000" stroke-width="1.2"/>
<text transform="translate(266.5,549.7) scale(1.07,1)" font-size="15.8" text-anchor="end">50</text>
<line x1="273.7" x2="277.3" y1="515.5" y2="515.5" stroke="#000" stroke-width="1.2"/>
<text transform="translate(266.5,521.2) scale(1.07,1)" font-size="15.8" text-anchor="end">60</text>
<text transform="translate(297.5,707.7) scale(1.06,1)" font-size="15.1" text-anchor="middle">PEC</text>
<text transform="translate(330.5,707.7) scale(1.06,1)" font-size="15.1" text-anchor="middle">SP</text>
<text transform="translate(364.5,707.7) scale(1.06,1)" font-size="15.1" text-anchor="middle">BAL</text>
<text transform="translate(396,707.7) scale(1.06,1)" font-size="15.1" text-anchor="middle">LU</text>
<line x1="293.9" x2="305.3" y1="550.5" y2="550.5" stroke="#3a3a3a" stroke-width="1.4"/>
<text x="299.5" y="551.9" font-size="12.5" text-anchor="middle" style="fill:#555;stroke:#555;stroke-width:.3px">*</text>
</g>
</svg></body></html>
